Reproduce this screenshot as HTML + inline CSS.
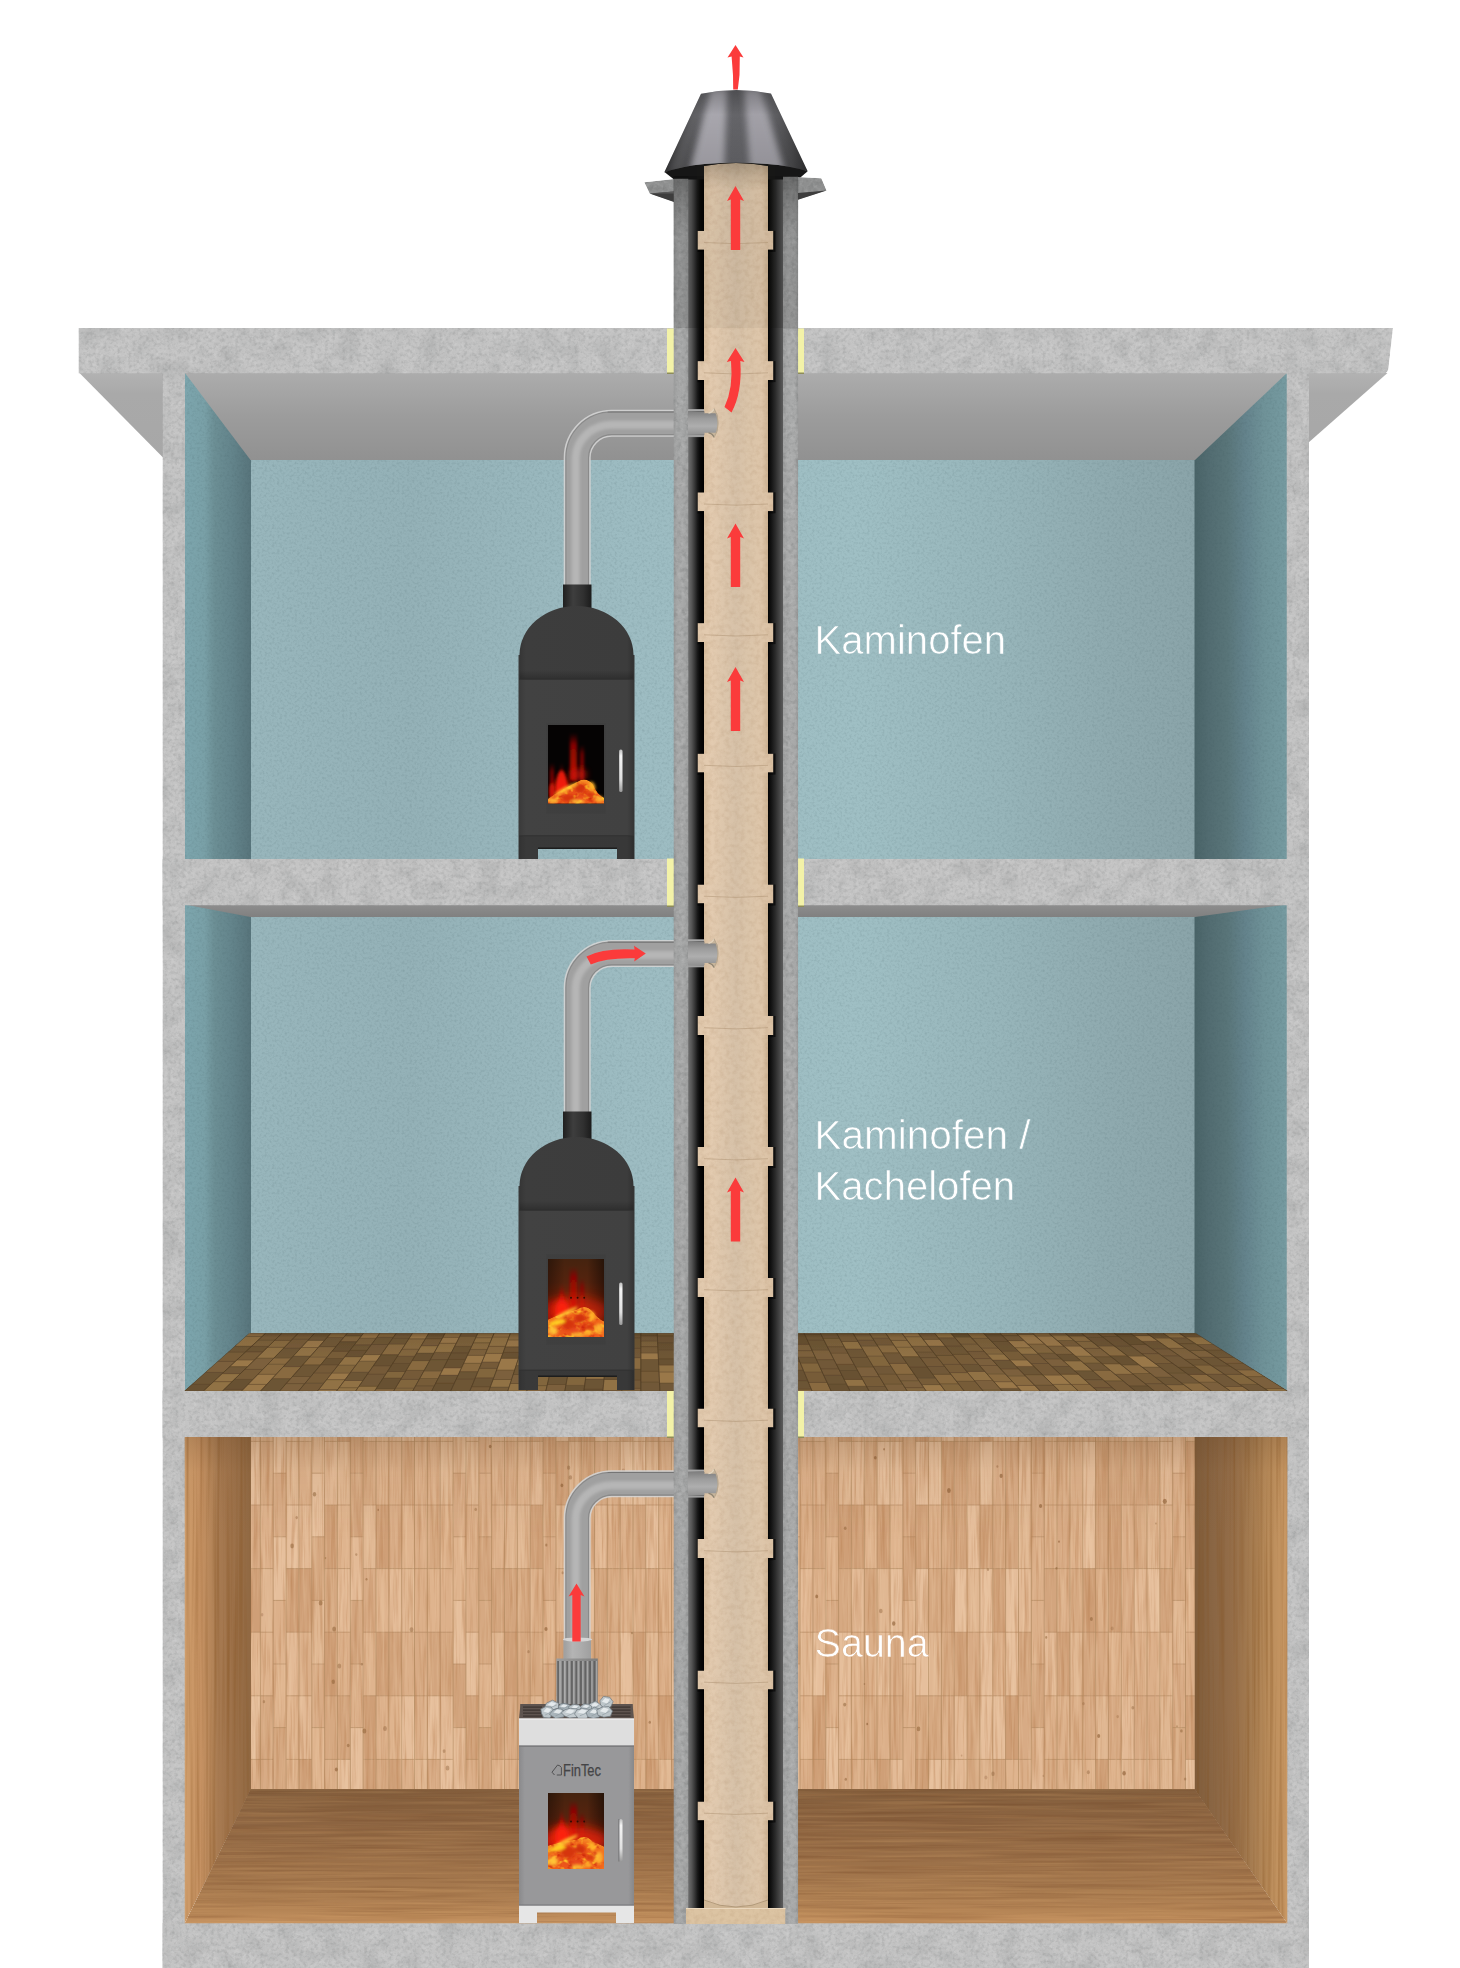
<!DOCTYPE html>
<html lang="de"><head><meta charset="utf-8"><title>Schornstein Schema</title>
<style>html,body{margin:0;padding:0;background:#fff}body{width:1460px;height:1968px;overflow:hidden}svg{display:block}</style>
</head><body>
<svg width="1460" height="1968" viewBox="0 0 1460 1968">

<defs>
  <filter id="conc" x="0" y="0" width="100%" height="100%" filterUnits="objectBoundingBox" color-interpolation-filters="sRGB">
    <feTurbulence type="fractalNoise" baseFrequency="0.28" numOctaves="3" seed="11" result="fine"/>
    <feColorMatrix in="fine" type="matrix" values="0 0 0 0 0.45  0 0 0 0 0.46  0 0 0 0 0.46  0.55 0 0 0 -0.24" result="fd"/>
    <feColorMatrix in="fine" type="matrix" values="0 0 0 0 1  0 0 0 0 1  0 0 0 0 1  0 0.3 0 0 -0.135" result="fl"/>
    <feTurbulence type="fractalNoise" baseFrequency="0.05" numOctaves="2" seed="4" result="coarse"/>
    <feColorMatrix in="coarse" type="matrix" values="0 0 0 0 0.5  0 0 0 0 0.51  0 0 0 0 0.51  0.5 0 0 0 -0.2" result="cd"/>
    <feMerge result="m">
      <feMergeNode in="SourceGraphic"/><feMergeNode in="cd"/><feMergeNode in="fl"/><feMergeNode in="fd"/>
    </feMerge>
    <feComposite in="m" in2="SourceGraphic" operator="in"/>
  </filter>
  <filter id="conc2" x="0" y="0" width="100%" height="100%" filterUnits="objectBoundingBox" color-interpolation-filters="sRGB">
    <feTurbulence type="fractalNoise" baseFrequency="0.22" numOctaves="3" seed="17" result="fine"/>
    <feColorMatrix in="fine" type="matrix" values="0 0 0 0 0.35  0 0 0 0 0.36  0 0 0 0 0.36  0.55 0 0 0 -0.24" result="fd"/>
    <feColorMatrix in="fine" type="matrix" values="0 0 0 0 1  0 0 0 0 1  0 0 0 0 1  0 0.3 0 0 -0.135" result="fl"/>
    <feMerge result="m">
      <feMergeNode in="SourceGraphic"/><feMergeNode in="fl"/><feMergeNode in="fd"/>
    </feMerge>
    <feComposite in="m" in2="SourceGraphic" operator="in"/>
  </filter>
  <filter id="grainV" x="0" y="0" width="100%" height="100%" color-interpolation-filters="sRGB">
    <feTurbulence type="fractalNoise" baseFrequency="0.33 0.014" numOctaves="3" seed="5" result="g"/>
    <feColorMatrix in="g" type="matrix" values="0 0 0 0 0.72  0 0 0 0 0.5  0 0 0 0 0.32  1.2 0 0 0 -0.54" result="gd"/>
    <feColorMatrix in="g" type="matrix" values="0 0 0 0 0.96  0 0 0 0 0.84  0 0 0 0 0.7  0 0.7 0 0 -0.32" result="gl"/>
    <feMerge result="m"><feMergeNode in="SourceGraphic"/><feMergeNode in="gd"/><feMergeNode in="gl"/></feMerge>
    <feComposite in="m" in2="SourceGraphic" operator="in"/>
  </filter>
  <filter id="grainH" x="0" y="0" width="100%" height="100%" color-interpolation-filters="sRGB">
    <feTurbulence type="fractalNoise" baseFrequency="0.006 0.32" numOctaves="3" seed="9" result="g"/>
    <feColorMatrix in="g" type="matrix" values="0 0 0 0 0.4  0 0 0 0 0.22  0 0 0 0 0.1  0.6 0 0 0 -0.25" result="gd"/>
    <feColorMatrix in="g" type="matrix" values="0 0 0 0 0.9  0 0 0 0 0.7  0 0 0 0 0.46  0 0.5 0 0 -0.21" result="gl"/>
    <feMerge result="m"><feMergeNode in="SourceGraphic"/><feMergeNode in="gd"/><feMergeNode in="gl"/></feMerge>
    <feComposite in="m" in2="SourceGraphic" operator="in"/>
  </filter>
  <filter id="grainS" x="0" y="0" width="100%" height="100%" color-interpolation-filters="sRGB">
    <feTurbulence type="fractalNoise" baseFrequency="0.3 0.004" numOctaves="2" seed="2" result="g"/>
    <feColorMatrix in="g" type="matrix" values="0 0 0 0 0.5  0 0 0 0 0.3  0 0 0 0 0.1  0.9 0 0 0 -0.4" result="gd"/>
    <feMerge result="m"><feMergeNode in="SourceGraphic"/><feMergeNode in="gd"/></feMerge>
    <feComposite in="m" in2="SourceGraphic" operator="in"/>
  </filter>
  <filter id="teal" x="0" y="0" width="100%" height="100%" color-interpolation-filters="sRGB">
    <feTurbulence type="fractalNoise" baseFrequency="0.4" numOctaves="2" seed="21" result="g"/>
    <feColorMatrix in="g" type="matrix" values="0 0 0 0 0.2  0 0 0 0 0.3  0 0 0 0 0.32  0.3 0 0 0 -0.13" result="gd"/>
    <feMerge result="m"><feMergeNode in="SourceGraphic"/><feMergeNode in="gd"/></feMerge>
    <feComposite in="m" in2="SourceGraphic" operator="in"/>
  </filter>
  <filter id="beige" x="0" y="0" width="100%" height="100%" color-interpolation-filters="sRGB">
    <feTurbulence type="fractalNoise" baseFrequency="0.2" numOctaves="4" seed="8" result="g"/>
    <feColorMatrix in="g" type="matrix" values="0 0 0 0 0.62  0 0 0 0 0.48  0 0 0 0 0.34  0.34 0 0 0 -0.13" result="gd"/>
    <feMerge result="m"><feMergeNode in="SourceGraphic"/><feMergeNode in="gd"/></feMerge>
    <feComposite in="m" in2="SourceGraphic" operator="in"/>
  </filter>
  <filter id="fireTex" x="-5%" y="-5%" width="110%" height="110%" color-interpolation-filters="sRGB">
    <feTurbulence type="fractalNoise" baseFrequency="0.16 0.2" numOctaves="2" seed="6" result="g"/>
    <feColorMatrix in="g" type="matrix" values="0 0 0 0 1  0 0 0 0 0.78  0 0 0 0 0.16  3.4 0 0 0 -1.75" result="gy"/>
    <feColorMatrix in="g" type="matrix" values="0 0 0 0 0.8  0 0 0 0 0.14  0 0 0 0 0.04  0 3.0 0 0 -1.55" result="gr"/>
    <feMerge result="m"><feMergeNode in="SourceGraphic"/><feMergeNode in="gr"/><feMergeNode in="gy"/></feMerge>
    <feComposite in="m" in2="SourceGraphic" operator="in" result="c"/>
    <feGaussianBlur in="c" stdDeviation="0.5"/>
  </filter>
  <filter id="bpq" x="0" y="0" width="100%" height="100%"><feGaussianBlur stdDeviation="0.55"/><feComposite in2="SourceGraphic" operator="in"/></filter>
  <filter id="b1" x="-20%" y="-20%" width="140%" height="140%"><feGaussianBlur stdDeviation="0.6"/></filter>
  <filter id="b2" x="-30%" y="-30%" width="160%" height="160%"><feGaussianBlur stdDeviation="1.6"/></filter>
  <filter id="b3" x="-30%" y="-30%" width="160%" height="160%"><feGaussianBlur stdDeviation="3"/></filter>
  <filter id="b5" x="-50%" y="-50%" width="200%" height="200%"><feGaussianBlur stdDeviation="5"/></filter>

  <linearGradient id="gBack" x1="250" y1="0" x2="1195" y2="0" gradientUnits="userSpaceOnUse">
    <stop offset="0.000" stop-color="#98b6bc"/><stop offset="0.169" stop-color="#94b1b7"/><stop offset="0.402" stop-color="#9dbcc2"/><stop offset="0.646" stop-color="#9fbfc4"/><stop offset="0.794" stop-color="#97b5ba"/><stop offset="0.910" stop-color="#8faaaf"/><stop offset="1.000" stop-color="#8aa4a9"/>
  </linearGradient>
  <linearGradient id="gSideL" x1="185" y1="0" x2="250" y2="0" gradientUnits="userSpaceOnUse">
    <stop offset="0" stop-color="#7ca5ad"/><stop offset="0.3" stop-color="#79a0a7"/><stop offset="0.45" stop-color="#6c8f95"/><stop offset="0.7" stop-color="#64858c"/><stop offset="1" stop-color="#58757c"/>
  </linearGradient>
  <linearGradient id="gSideR" x1="1195" y1="0" x2="1287" y2="0" gradientUnits="userSpaceOnUse">
    <stop offset="0" stop-color="#4a6468"/><stop offset="0.15" stop-color="#526c71"/><stop offset="0.35" stop-color="#597579"/><stop offset="0.55" stop-color="#64838c"/><stop offset="0.75" stop-color="#6f9298"/><stop offset="1" stop-color="#769ba1"/>
  </linearGradient>
  <linearGradient id="gCeil" x1="0" y1="373" x2="0" y2="460" gradientUnits="userSpaceOnUse">
    <stop offset="0" stop-color="#acacac"/><stop offset="0.5" stop-color="#9c9c9c"/><stop offset="1" stop-color="#919191"/>
  </linearGradient>
  <linearGradient id="gCeilR" x1="760" y1="470" x2="1260" y2="373" gradientUnits="userSpaceOnUse">
    <stop offset="0" stop-color="#fff" stop-opacity="0"/><stop offset="0.5" stop-color="#fff" stop-opacity="0.03"/><stop offset="1" stop-color="#fff" stop-opacity="0.13"/>
  </linearGradient>
  <linearGradient id="gCeil2" x1="0" y1="906" x2="0" y2="917" gradientUnits="userSpaceOnUse">
    <stop offset="0" stop-color="#8c8c8c"/><stop offset="1" stop-color="#808080"/>
  </linearGradient>
  <linearGradient id="gOver" x1="0" y1="373" x2="0" y2="458" gradientUnits="userSpaceOnUse">
    <stop offset="0" stop-color="#b2b2b2"/><stop offset="0.25" stop-color="#a9a9a9"/><stop offset="1" stop-color="#a7a7a7"/>
  </linearGradient>
  <linearGradient id="gWoodL" x1="185" y1="0" x2="250" y2="0" gradientUnits="userSpaceOnUse">
    <stop offset="0" stop-color="#cf9d6b"/><stop offset="0.25" stop-color="#c59162"/><stop offset="0.42" stop-color="#b38458"/><stop offset="0.5" stop-color="#a87b52"/><stop offset="0.7" stop-color="#9f734b"/><stop offset="1" stop-color="#916943"/>
  </linearGradient>
  <linearGradient id="gWoodR" x1="1195" y1="0" x2="1287" y2="0" gradientUnits="userSpaceOnUse">
    <stop offset="0" stop-color="#805d3b"/><stop offset="0.2" stop-color="#8a6644"/><stop offset="0.4" stop-color="#946d48"/><stop offset="0.6" stop-color="#a47b50"/><stop offset="0.8" stop-color="#b98c5b"/><stop offset="1" stop-color="#c99864"/>
  </linearGradient>
  <linearGradient id="gFloor3" x1="0" y1="1789" x2="0" y2="1923" gradientUnits="userSpaceOnUse">
    <stop offset="0" stop-color="#845f3d"/><stop offset="0.25" stop-color="#8c6441"/><stop offset="0.5" stop-color="#996e47"/><stop offset="0.72" stop-color="#a6794e"/><stop offset="0.9" stop-color="#b48455"/><stop offset="1" stop-color="#c69361"/>
  </linearGradient>
  <linearGradient id="gBackShade" x1="0" y1="1437" x2="0" y2="1789" gradientUnits="userSpaceOnUse">
    <stop offset="0" stop-color="#5b3e22" stop-opacity="0.22"/><stop offset="0.1" stop-color="#5b3e22" stop-opacity="0.04"/><stop offset="0.3" stop-color="#5b3e22" stop-opacity="0"/>
  </linearGradient>
  <linearGradient id="gGapL" x1="688" y1="0" x2="704" y2="0" gradientUnits="userSpaceOnUse">
    <stop offset="0" stop-color="#6e6e6e"/><stop offset="0.2" stop-color="#5a5a5a"/><stop offset="0.4" stop-color="#3a3a3a"/><stop offset="0.6" stop-color="#181818"/><stop offset="0.75" stop-color="#080808"/><stop offset="1" stop-color="#000000"/>
  </linearGradient>
  <linearGradient id="gGapR" x1="768" y1="0" x2="783" y2="0" gradientUnits="userSpaceOnUse">
    <stop offset="0" stop-color="#030303"/><stop offset="0.25" stop-color="#161616"/><stop offset="0.5" stop-color="#2c2c2c"/><stop offset="0.75" stop-color="#444444"/><stop offset="1" stop-color="#5c5c5c"/>
  </linearGradient>
  <linearGradient id="gPipe" x1="704" y1="0" x2="768" y2="0" gradientUnits="userSpaceOnUse">
    <stop offset="0" stop-color="#d8bfa0"/><stop offset="0.12" stop-color="#e3cbb0"/><stop offset="0.35" stop-color="#dbc5ab"/><stop offset="0.5" stop-color="#d6c1a8"/><stop offset="0.7" stop-color="#dbc5aa"/><stop offset="0.9" stop-color="#dec6aa"/><stop offset="1" stop-color="#cdb394"/>
  </linearGradient>
  <linearGradient id="gFlange" x1="697" y1="0" x2="774" y2="0" gradientUnits="userSpaceOnUse">
    <stop offset="0" stop-color="#e0c8ac"/><stop offset="0.15" stop-color="#e3cbb0"/><stop offset="0.5" stop-color="#d7c2a9"/><stop offset="0.85" stop-color="#dec6aa"/><stop offset="1" stop-color="#d9c0a3"/>
  </linearGradient>
  <linearGradient id="gWallC" x1="0" y1="0" x2="1" y2="0">
    <stop offset="0" stop-color="#8f9191"/><stop offset="0.15" stop-color="#a3a5a5"/><stop offset="0.85" stop-color="#a3a5a5"/><stop offset="1" stop-color="#919393"/>
  </linearGradient>
  <linearGradient id="gWallL" x1="673.5" y1="0" x2="688.5" y2="0" gradientUnits="userSpaceOnUse">
    <stop offset="0" stop-color="#989999"/><stop offset="0.2" stop-color="#a4a5a5"/><stop offset="0.6" stop-color="#a8a9a9"/><stop offset="1" stop-color="#9c9d9d"/>
  </linearGradient>
  <linearGradient id="gWallR" x1="783" y1="0" x2="798.2" y2="0" gradientUnits="userSpaceOnUse">
    <stop offset="0" stop-color="#9e9f9f"/><stop offset="0.4" stop-color="#aaabab"/><stop offset="0.8" stop-color="#a8a9a9"/><stop offset="1" stop-color="#999a9a"/>
  </linearGradient>
  <linearGradient id="gTopSh" x1="0" y1="176" x2="0" y2="235" gradientUnits="userSpaceOnUse">
    <stop offset="0" stop-color="#000" stop-opacity="0.28"/><stop offset="0.5" stop-color="#000" stop-opacity="0.12"/><stop offset="1" stop-color="#000" stop-opacity="0"/>
  </linearGradient>
  <linearGradient id="gPipeTopSh" x1="0" y1="162" x2="0" y2="190" gradientUnits="userSpaceOnUse">
    <stop offset="0" stop-color="#3a2f20" stop-opacity="0.28"/><stop offset="0.5" stop-color="#3a2f20" stop-opacity="0.12"/><stop offset="1" stop-color="#3a2f20" stop-opacity="0"/>
  </linearGradient>
  <linearGradient id="gSeamSh" x1="0" y1="0" x2="0" y2="1">
    <stop offset="0" stop-color="#000" stop-opacity="0"/><stop offset="1" stop-color="#000" stop-opacity="0.22"/>
  </linearGradient>
  <linearGradient id="gCap" x1="665" y1="0" x2="807" y2="0" gradientUnits="userSpaceOnUse">
    <stop offset="0" stop-color="#303032"/><stop offset="0.1" stop-color="#48484a"/><stop offset="0.28" stop-color="#68686c"/><stop offset="0.5" stop-color="#646468"/><stop offset="0.72" stop-color="#68686c"/><stop offset="0.9" stop-color="#48484a"/><stop offset="1" stop-color="#303032"/>
  </linearGradient>
  <linearGradient id="gCapV" x1="0" y1="90" x2="0" y2="172" gradientUnits="userSpaceOnUse">
    <stop offset="0" stop-color="#000" stop-opacity="0.22"/><stop offset="0.3" stop-color="#000" stop-opacity="0"/><stop offset="1" stop-color="#000" stop-opacity="0.1"/>
  </linearGradient>
  <linearGradient id="gFlTop" x1="0" y1="177" x2="0" y2="202" gradientUnits="userSpaceOnUse">
    <stop offset="0" stop-color="#8f8f8f"/><stop offset="0.4" stop-color="#858585"/><stop offset="0.55" stop-color="#4a4a4a"/><stop offset="1" stop-color="#3a3a3a"/>
  </linearGradient>
  <linearGradient id="gSteelV" x1="565" y1="0" x2="590" y2="0" gradientUnits="userSpaceOnUse">
    <stop offset="0" stop-color="#8e8e8e"/><stop offset="0.3" stop-color="#b4b4b4"/><stop offset="0.6" stop-color="#a6a6a6"/><stop offset="1" stop-color="#8c8c8c"/>
  </linearGradient>
  <linearGradient id="gCollar" x1="563" y1="0" x2="592" y2="0" gradientUnits="userSpaceOnUse">
    <stop offset="0" stop-color="#1f1f1f"/><stop offset="0.35" stop-color="#3e3e3e"/><stop offset="0.7" stop-color="#303030"/><stop offset="1" stop-color="#1a1a1a"/>
  </linearGradient>
  <linearGradient id="gStove" x1="519" y1="0" x2="634" y2="0" gradientUnits="userSpaceOnUse">
    <stop offset="0" stop-color="#3a3a3a"/><stop offset="0.06" stop-color="#424242"/><stop offset="0.94" stop-color="#414141"/><stop offset="1" stop-color="#353535"/>
  </linearGradient>
  <linearGradient id="gHandle" x1="0" y1="0" x2="0" y2="1">
    <stop offset="0" stop-color="#bdbdbd"/><stop offset="0.15" stop-color="#f4f4f4"/><stop offset="0.7" stop-color="#e0e0e0"/><stop offset="1" stop-color="#9a9a9a"/>
  </linearGradient>
  <linearGradient id="gWin2" x1="0" y1="0" x2="0" y2="1">
    <stop offset="0" stop-color="#45230f"/><stop offset="0.3" stop-color="#55230e"/><stop offset="0.55" stop-color="#7c2308"/><stop offset="0.75" stop-color="#b42a08"/><stop offset="1" stop-color="#c03008"/>
  </linearGradient>
  <linearGradient id="gWin2h" x1="0" y1="0" x2="1" y2="0">
    <stop offset="0" stop-color="#000" stop-opacity="0.35"/><stop offset="0.3" stop-color="#000" stop-opacity="0"/><stop offset="0.7" stop-color="#000" stop-opacity="0"/><stop offset="1" stop-color="#000" stop-opacity="0.45"/>
  </linearGradient>
  <radialGradient id="gLog" cx="0.5" cy="0.7" r="0.7">
    <stop offset="0" stop-color="#e6481a"/><stop offset="0.65" stop-color="#f0601a"/><stop offset="1" stop-color="#f79426"/>
  </radialGradient>
  <linearGradient id="gFlame" x1="0" y1="0" x2="0" y2="1">
    <stop offset="0" stop-color="#b00808" stop-opacity="0"/><stop offset="0.35" stop-color="#c00a08" stop-opacity="0.8"/><stop offset="1" stop-color="#ff2a10"/>
  </linearGradient>
  <linearGradient id="gFlameD" x1="0" y1="0" x2="0" y2="1">
    <stop offset="0" stop-color="#780404" stop-opacity="0"/><stop offset="0.25" stop-color="#8c0606" stop-opacity="0.95"/><stop offset="1" stop-color="#c00c06"/>
  </linearGradient>
  <linearGradient id="gSauna" x1="519" y1="0" x2="634" y2="0" gradientUnits="userSpaceOnUse">
    <stop offset="0" stop-color="#8a8a8c"/><stop offset="0.05" stop-color="#98989a"/><stop offset="0.95" stop-color="#98989a"/><stop offset="1" stop-color="#88888a"/>
  </linearGradient>
  <linearGradient id="gFins" x1="556" y1="0" x2="599" y2="0" gradientUnits="userSpaceOnUse">
    <stop offset="0" stop-color="#9e9e9e"/><stop offset="0.5" stop-color="#8e8e8e"/><stop offset="1" stop-color="#7c7c7c"/>
  </linearGradient>
  <linearGradient id="gParqSh" x1="0" y1="1333" x2="0" y2="1391" gradientUnits="userSpaceOnUse">
    <stop offset="0" stop-color="#2a1c0c" stop-opacity="0.35"/><stop offset="0.08" stop-color="#2a1c0c" stop-opacity="0.08"/><stop offset="0.4" stop-color="#2a1c0c" stop-opacity="0"/>
  </linearGradient>
  <linearGradient id="gParq" x1="0" y1="1333" x2="0" y2="1390" gradientUnits="userSpaceOnUse">
    <stop offset="0" stop-color="#5c4526"/><stop offset="1" stop-color="#6a5030"/>
  </linearGradient>
</defs>

<rect width="1460" height="1968" fill="#ffffff"/>
<!-- building shell -->
<polygon points="79,372.5 164,372.5 164,458.5" fill="url(#gOver)"/>
<polygon points="1308,373 1387.5,373 1308,443" fill="url(#gOver)"/>
<g filter="url(#teal)">
<rect x="250" y="455" width="945" height="405" fill="url(#gBack)"/>
<rect x="250" y="910" width="945" height="426" fill="url(#gBack)"/>
<polygon points="184.5,372 251,372 251,860 184.5,860" fill="url(#gSideL)"/>
<polygon points="1287.5,372 1194.5,372 1194.5,860 1287.5,860" fill="url(#gSideR)"/>
<polygon points="184.5,900 251,900 251,1392 184.5,1392" fill="url(#gSideL)"/>
<polygon points="1287.5,900 1194.5,900 1194.5,1392 1287.5,1392" fill="url(#gSideR)"/>
</g>
<polygon points="185,373 1287,373 1195,460 250.5,460" fill="url(#gCeil)"/>
<polygon points="184.5,904.5 1287.5,904.5 1195,917 250.5,917" fill="url(#gCeil2)"/>
<g filter="url(#conc)" fill="#c4c4c4">
<path d="M78.5,328 H1393 L1388.5,368 Q1388,373.5 1383,373.5 H78.5 Z"/>
<rect x="162.5" y="373" width="22.5" height="1595" />
<rect x="1286.5" y="373" width="22.5" height="1595" />
<rect x="162.5" y="859" width="1146" height="46.5" />
<rect x="162.5" y="1390.5" width="1146" height="47" />
<rect x="162.5" y="1923" width="1146" height="45" />
</g>
<!-- parquet floor -->
<g filter="url(#bpq)">
<polygon points="184.5,1391 250.5,1333.2 1195,1333.2 1287.5,1391" fill="url(#gParq)"/>
<polygon points="184.5,1391 203.5,1391 210.6,1384.4 191.9,1384.4" fill="#685131" stroke="#59452a" stroke-width="0.6" stroke-opacity="0.55"/>
<polygon points="191.9,1384.4 210.6,1384.4 223.7,1372.3 205.5,1372.3" fill="#6c5434" stroke="#59452a" stroke-width="0.6" stroke-opacity="0.55"/>
<polygon points="205.5,1372.3 223.7,1372.3 235.4,1361.4 217.8,1361.4" fill="#7c613c" stroke="#59452a" stroke-width="0.6" stroke-opacity="0.55"/>
<polygon points="217.8,1361.4 235.4,1361.4 245.5,1352.1 228.3,1352.1" fill="#775c39" stroke="#59452a" stroke-width="0.6" stroke-opacity="0.55"/>
<polygon points="228.3,1352.1 245.5,1352.1 251.9,1346.1 235,1346.1" fill="#6e5635" stroke="#59452a" stroke-width="0.6" stroke-opacity="0.55"/>
<polygon points="235,1346.1 251.9,1346.1 262.3,1336.4 245.9,1336.4" fill="#917245" stroke="#59452a" stroke-width="0.6" stroke-opacity="0.55"/>
<polygon points="245.9,1336.4 262.3,1336.4 265.6,1333.3 249.3,1333.3" fill="#9a784a" stroke="#59452a" stroke-width="0.6" stroke-opacity="0.55"/>
<polygon points="203.5,1391 222.5,1391 232.2,1381.6 213.6,1381.6" fill="#917245" stroke="#59452a" stroke-width="0.6" stroke-opacity="0.55"/>
<polygon points="213.6,1381.6 232.2,1381.6 240.5,1373.6 222.3,1373.6" fill="#917245" stroke="#59452a" stroke-width="0.6" stroke-opacity="0.55"/>
<polygon points="222.3,1373.6 240.5,1373.6 247.7,1366.6 229.9,1366.6" fill="#715837" stroke="#59452a" stroke-width="0.6" stroke-opacity="0.55"/>
<polygon points="229.9,1366.6 247.7,1366.6 254.6,1359.9 237,1359.9" fill="#9a784a" stroke="#59452a" stroke-width="0.6" stroke-opacity="0.55"/>
<polygon points="237,1359.9 254.6,1359.9 262.9,1351.8 245.7,1351.8" fill="#775c39" stroke="#59452a" stroke-width="0.6" stroke-opacity="0.55"/>
<polygon points="245.7,1351.8 262.9,1351.8 268.5,1346.4 251.6,1346.4" fill="#6c5434" stroke="#59452a" stroke-width="0.6" stroke-opacity="0.55"/>
<polygon points="251.6,1346.4 268.5,1346.4 275,1340.1 258.4,1340.1" fill="#7c613c" stroke="#59452a" stroke-width="0.6" stroke-opacity="0.55"/>
<polygon points="258.4,1340.1 275,1340.1 282,1333.3 265.6,1333.3" fill="#775c39" stroke="#59452a" stroke-width="0.6" stroke-opacity="0.55"/>
<polygon points="222.5,1391 241.6,1391 243.1,1389.4 224.2,1389.4" fill="#7c613c" stroke="#59452a" stroke-width="0.6" stroke-opacity="0.55"/>
<polygon points="224.2,1389.4 243.1,1389.4 253,1379.4 234.5,1379.4" fill="#685131" stroke="#59452a" stroke-width="0.6" stroke-opacity="0.55"/>
<polygon points="234.5,1379.4 253,1379.4 262.9,1369.3 244.9,1369.3" fill="#775c39" stroke="#59452a" stroke-width="0.6" stroke-opacity="0.55"/>
<polygon points="244.9,1369.3 262.9,1369.3 274,1358 256.6,1358" fill="#7c613c" stroke="#59452a" stroke-width="0.6" stroke-opacity="0.55"/>
<polygon points="256.6,1358 274,1358 284.7,1347.2 267.7,1347.2" fill="#917245" stroke="#59452a" stroke-width="0.6" stroke-opacity="0.55"/>
<polygon points="267.7,1347.2 284.7,1347.2 291.4,1340.3 274.7,1340.3" fill="#896b41" stroke="#59452a" stroke-width="0.6" stroke-opacity="0.55"/>
<polygon points="274.7,1340.3 291.4,1340.3 298.3,1333.3 282,1333.3" fill="#775c39" stroke="#59452a" stroke-width="0.6" stroke-opacity="0.55"/>
<polygon points="241.6,1391 260.6,1391 266.9,1384.3 248.2,1384.3" fill="#9a784a" stroke="#59452a" stroke-width="0.6" stroke-opacity="0.55"/>
<polygon points="248.2,1384.3 266.9,1384.3 276.3,1374.2 258,1374.2" fill="#9a784a" stroke="#59452a" stroke-width="0.6" stroke-opacity="0.55"/>
<polygon points="258,1374.2 276.3,1374.2 285.7,1364.1 268,1364.1" fill="#896b41" stroke="#59452a" stroke-width="0.6" stroke-opacity="0.55"/>
<polygon points="268,1364.1 285.7,1364.1 291.5,1358 274,1358" fill="#896b41" stroke="#59452a" stroke-width="0.6" stroke-opacity="0.55"/>
<polygon points="274,1358 291.5,1358 300.9,1348 283.9,1348" fill="#6e5635" stroke="#59452a" stroke-width="0.6" stroke-opacity="0.55"/>
<polygon points="283.9,1348 300.9,1348 309.2,1339.1 292.6,1339.1" fill="#775c39" stroke="#59452a" stroke-width="0.6" stroke-opacity="0.55"/>
<polygon points="292.6,1339.1 309.2,1339.1 314.6,1333.3 298.3,1333.3" fill="#775c39" stroke="#59452a" stroke-width="0.6" stroke-opacity="0.55"/>
<polygon points="260.6,1391 279.6,1391 290.6,1378.6 272.2,1378.6" fill="#6c5434" stroke="#59452a" stroke-width="0.6" stroke-opacity="0.55"/>
<polygon points="272.2,1378.6 290.6,1378.6 301.3,1366.6 283.4,1366.6" fill="#896b41" stroke="#59452a" stroke-width="0.6" stroke-opacity="0.55"/>
<polygon points="283.4,1366.6 301.3,1366.6 310.7,1356 293.4,1356" fill="#6c5434" stroke="#59452a" stroke-width="0.6" stroke-opacity="0.55"/>
<polygon points="293.4,1356 310.7,1356 318.3,1347.5 301.3,1347.5" fill="#917245" stroke="#59452a" stroke-width="0.6" stroke-opacity="0.55"/>
<polygon points="301.3,1347.5 318.3,1347.5 324.7,1340.3 308,1340.3" fill="#9a784a" stroke="#59452a" stroke-width="0.6" stroke-opacity="0.55"/>
<polygon points="308,1340.3 324.7,1340.3 330.9,1333.3 314.6,1333.3" fill="#6e5635" stroke="#59452a" stroke-width="0.6" stroke-opacity="0.55"/>
<polygon points="279.6,1391 298.6,1391 304.9,1383.6 286.2,1383.6" fill="#7c613c" stroke="#59452a" stroke-width="0.6" stroke-opacity="0.55"/>
<polygon points="286.2,1383.6 304.9,1383.6 310.9,1376.5 292.5,1376.5" fill="#7c613c" stroke="#59452a" stroke-width="0.6" stroke-opacity="0.55"/>
<polygon points="292.5,1376.5 310.9,1376.5 320.7,1364.8 302.9,1364.8" fill="#6e5635" stroke="#59452a" stroke-width="0.6" stroke-opacity="0.55"/>
<polygon points="302.9,1364.8 320.7,1364.8 327.3,1357 309.8,1357" fill="#896b41" stroke="#59452a" stroke-width="0.6" stroke-opacity="0.55"/>
<polygon points="309.8,1357 327.3,1357 336,1346.6 319.1,1346.6" fill="#82663e" stroke="#59452a" stroke-width="0.6" stroke-opacity="0.55"/>
<polygon points="319.1,1346.6 336,1346.6 343.8,1337.4 327.3,1337.4" fill="#715837" stroke="#59452a" stroke-width="0.6" stroke-opacity="0.55"/>
<polygon points="327.3,1337.4 343.8,1337.4 347.2,1333.3 330.9,1333.3" fill="#896b41" stroke="#59452a" stroke-width="0.6" stroke-opacity="0.55"/>
<polygon points="298.6,1391 317.6,1391 317.6,1391 298.6,1391" fill="#715837" stroke="#59452a" stroke-width="0.6" stroke-opacity="0.55"/>
<polygon points="298.6,1391 317.6,1391 324,1383 305.3,1383" fill="#745a39" stroke="#59452a" stroke-width="0.6" stroke-opacity="0.55"/>
<polygon points="305.3,1383 324,1383 332.1,1372.9 313.9,1372.9" fill="#775c39" stroke="#59452a" stroke-width="0.6" stroke-opacity="0.55"/>
<polygon points="313.9,1372.9 332.1,1372.9 338.5,1364.8 320.7,1364.8" fill="#745a39" stroke="#59452a" stroke-width="0.6" stroke-opacity="0.55"/>
<polygon points="320.7,1364.8 338.5,1364.8 343.5,1358.5 326,1358.5" fill="#685131" stroke="#59452a" stroke-width="0.6" stroke-opacity="0.55"/>
<polygon points="326,1358.5 343.5,1358.5 349.3,1351.2 332.2,1351.2" fill="#775c39" stroke="#59452a" stroke-width="0.6" stroke-opacity="0.55"/>
<polygon points="332.2,1351.2 349.3,1351.2 357,1341.6 340.3,1341.6" fill="#685131" stroke="#59452a" stroke-width="0.6" stroke-opacity="0.55"/>
<polygon points="340.3,1341.6 357,1341.6 361.6,1335.7 345.2,1335.7" fill="#82663e" stroke="#59452a" stroke-width="0.6" stroke-opacity="0.55"/>
<polygon points="345.2,1335.7 361.6,1335.7 363.5,1333.3 347.2,1333.3" fill="#775c39" stroke="#59452a" stroke-width="0.6" stroke-opacity="0.55"/>
<polygon points="317.6,1391 336.6,1391 337.7,1389.5 318.8,1389.5" fill="#9a784a" stroke="#59452a" stroke-width="0.6" stroke-opacity="0.55"/>
<polygon points="318.8,1389.5 337.7,1389.5 345.2,1379.6 326.7,1379.6" fill="#917245" stroke="#59452a" stroke-width="0.6" stroke-opacity="0.55"/>
<polygon points="326.7,1379.6 345.2,1379.6 350,1373.1 331.9,1373.1" fill="#9a784a" stroke="#59452a" stroke-width="0.6" stroke-opacity="0.55"/>
<polygon points="331.9,1373.1 350,1373.1 356.1,1365 338.3,1365" fill="#82663e" stroke="#59452a" stroke-width="0.6" stroke-opacity="0.55"/>
<polygon points="338.3,1365 356.1,1365 362.4,1356.7 345,1356.7" fill="#917245" stroke="#59452a" stroke-width="0.6" stroke-opacity="0.55"/>
<polygon points="345,1356.7 362.4,1356.7 367.1,1350.3 350,1350.3" fill="#685131" stroke="#59452a" stroke-width="0.6" stroke-opacity="0.55"/>
<polygon points="350,1350.3 367.1,1350.3 371.3,1344.8 354.4,1344.8" fill="#6e5635" stroke="#59452a" stroke-width="0.6" stroke-opacity="0.55"/>
<polygon points="354.4,1344.8 371.3,1344.8 376.5,1337.9 359.9,1337.9" fill="#7c613c" stroke="#59452a" stroke-width="0.6" stroke-opacity="0.55"/>
<polygon points="359.9,1337.9 376.5,1337.9 379.9,1333.3 363.5,1333.3" fill="#9a784a" stroke="#59452a" stroke-width="0.6" stroke-opacity="0.55"/>
<polygon points="336.6,1391 355.7,1391 358,1387.7 339.1,1387.7" fill="#917245" stroke="#59452a" stroke-width="0.6" stroke-opacity="0.55"/>
<polygon points="339.1,1387.7 358,1387.7 363,1380.5 344.5,1380.5" fill="#917245" stroke="#59452a" stroke-width="0.6" stroke-opacity="0.55"/>
<polygon points="344.5,1380.5 363,1380.5 369,1372 350.9,1372" fill="#6c5434" stroke="#59452a" stroke-width="0.6" stroke-opacity="0.55"/>
<polygon points="350.9,1372 369,1372 376.7,1361 359.1,1361" fill="#82663e" stroke="#59452a" stroke-width="0.6" stroke-opacity="0.55"/>
<polygon points="359.1,1361 376.7,1361 381.3,1354.6 363.9,1354.6" fill="#9a784a" stroke="#59452a" stroke-width="0.6" stroke-opacity="0.55"/>
<polygon points="363.9,1354.6 381.3,1354.6 388.3,1344.5 371.5,1344.5" fill="#745a39" stroke="#59452a" stroke-width="0.6" stroke-opacity="0.55"/>
<polygon points="371.5,1344.5 388.3,1344.5 393.6,1337 377.1,1337" fill="#6e5635" stroke="#59452a" stroke-width="0.6" stroke-opacity="0.55"/>
<polygon points="377.1,1337 393.6,1337 396.2,1333.3 379.9,1333.3" fill="#896b41" stroke="#59452a" stroke-width="0.6" stroke-opacity="0.55"/>
<polygon points="355.7,1391 374.7,1391 377.8,1386.2 359,1386.2" fill="#917245" stroke="#59452a" stroke-width="0.6" stroke-opacity="0.55"/>
<polygon points="359,1386.2 377.8,1386.2 385.7,1374.1 367.5,1374.1" fill="#715837" stroke="#59452a" stroke-width="0.6" stroke-opacity="0.55"/>
<polygon points="367.5,1374.1 385.7,1374.1 391.2,1365.8 373.4,1365.8" fill="#745a39" stroke="#59452a" stroke-width="0.6" stroke-opacity="0.55"/>
<polygon points="373.4,1365.8 391.2,1365.8 398.6,1354.6 381.3,1354.6" fill="#685131" stroke="#59452a" stroke-width="0.6" stroke-opacity="0.55"/>
<polygon points="381.3,1354.6 398.6,1354.6 405.4,1344.1 388.6,1344.1" fill="#896b41" stroke="#59452a" stroke-width="0.6" stroke-opacity="0.55"/>
<polygon points="388.6,1344.1 405.4,1344.1 409.4,1338 392.9,1338" fill="#6e5635" stroke="#59452a" stroke-width="0.6" stroke-opacity="0.55"/>
<polygon points="392.9,1338 409.4,1338 412.5,1333.3 396.2,1333.3" fill="#745a39" stroke="#59452a" stroke-width="0.6" stroke-opacity="0.55"/>
<polygon points="374.7,1391 393.7,1391 395,1388.9 376.1,1388.9" fill="#896b41" stroke="#59452a" stroke-width="0.6" stroke-opacity="0.55"/>
<polygon points="376.1,1388.9 395,1388.9 401.7,1377.9 383.3,1377.9" fill="#685131" stroke="#59452a" stroke-width="0.6" stroke-opacity="0.55"/>
<polygon points="383.3,1377.9 401.7,1377.9 405.6,1371.5 387.5,1371.5" fill="#82663e" stroke="#59452a" stroke-width="0.6" stroke-opacity="0.55"/>
<polygon points="387.5,1371.5 405.6,1371.5 410.5,1363.4 392.8,1363.4" fill="#685131" stroke="#59452a" stroke-width="0.6" stroke-opacity="0.55"/>
<polygon points="392.8,1363.4 410.5,1363.4 415,1356 397.6,1356" fill="#6e5635" stroke="#59452a" stroke-width="0.6" stroke-opacity="0.55"/>
<polygon points="397.6,1356 415,1356 419.2,1349.1 402.2,1349.1" fill="#82663e" stroke="#59452a" stroke-width="0.6" stroke-opacity="0.55"/>
<polygon points="402.2,1349.1 419.2,1349.1 425.5,1338.8 408.9,1338.8" fill="#896b41" stroke="#59452a" stroke-width="0.6" stroke-opacity="0.55"/>
<polygon points="408.9,1338.8 425.5,1338.8 428.8,1333.3 412.5,1333.3" fill="#9a784a" stroke="#59452a" stroke-width="0.6" stroke-opacity="0.55"/>
<polygon points="393.7,1391 412.7,1391 414.4,1388 395.5,1388" fill="#82663e" stroke="#59452a" stroke-width="0.6" stroke-opacity="0.55"/>
<polygon points="395.5,1388 414.4,1388 419.2,1379.4 400.8,1379.4" fill="#82663e" stroke="#59452a" stroke-width="0.6" stroke-opacity="0.55"/>
<polygon points="400.8,1379.4 419.2,1379.4 424.3,1370.3 406.3,1370.3" fill="#745a39" stroke="#59452a" stroke-width="0.6" stroke-opacity="0.55"/>
<polygon points="406.3,1370.3 424.3,1370.3 429.8,1360.6 412.2,1360.6" fill="#896b41" stroke="#59452a" stroke-width="0.6" stroke-opacity="0.55"/>
<polygon points="412.2,1360.6 429.8,1360.6 434.1,1353 416.8,1353" fill="#685131" stroke="#59452a" stroke-width="0.6" stroke-opacity="0.55"/>
<polygon points="416.8,1353 434.1,1353 438.2,1345.7 421.3,1345.7" fill="#917245" stroke="#59452a" stroke-width="0.6" stroke-opacity="0.55"/>
<polygon points="421.3,1345.7 438.2,1345.7 442.1,1338.7 425.5,1338.7" fill="#775c39" stroke="#59452a" stroke-width="0.6" stroke-opacity="0.55"/>
<polygon points="425.5,1338.7 442.1,1338.7 445.1,1333.3 428.8,1333.3" fill="#6e5635" stroke="#59452a" stroke-width="0.6" stroke-opacity="0.55"/>
<polygon points="412.7,1391 431.7,1391 434.4,1385.8 415.6,1385.8" fill="#745a39" stroke="#59452a" stroke-width="0.6" stroke-opacity="0.55"/>
<polygon points="415.6,1385.8 434.4,1385.8 438.2,1378.5 419.8,1378.5" fill="#775c39" stroke="#59452a" stroke-width="0.6" stroke-opacity="0.55"/>
<polygon points="419.8,1378.5 438.2,1378.5 442,1371 423.9,1371" fill="#896b41" stroke="#59452a" stroke-width="0.6" stroke-opacity="0.55"/>
<polygon points="423.9,1371 442,1371 447.9,1359.6 430.4,1359.6" fill="#6e5635" stroke="#59452a" stroke-width="0.6" stroke-opacity="0.55"/>
<polygon points="430.4,1359.6 447.9,1359.6 451.6,1352.4 434.4,1352.4" fill="#715837" stroke="#59452a" stroke-width="0.6" stroke-opacity="0.55"/>
<polygon points="434.4,1352.4 451.6,1352.4 456.4,1343.2 439.6,1343.2" fill="#917245" stroke="#59452a" stroke-width="0.6" stroke-opacity="0.55"/>
<polygon points="439.6,1343.2 456.4,1343.2 459.5,1337.2 443,1337.2" fill="#9a784a" stroke="#59452a" stroke-width="0.6" stroke-opacity="0.55"/>
<polygon points="443,1337.2 459.5,1337.2 461.4,1333.3 445.1,1333.3" fill="#917245" stroke="#59452a" stroke-width="0.6" stroke-opacity="0.55"/>
<polygon points="431.7,1391 450.7,1391 454.4,1383.2 435.8,1383.2" fill="#685131" stroke="#59452a" stroke-width="0.6" stroke-opacity="0.55"/>
<polygon points="435.8,1383.2 454.4,1383.2 458.2,1375.1 439.9,1375.1" fill="#6c5434" stroke="#59452a" stroke-width="0.6" stroke-opacity="0.55"/>
<polygon points="439.9,1375.1 458.2,1375.1 461.6,1367.8 443.7,1367.8" fill="#9a784a" stroke="#59452a" stroke-width="0.6" stroke-opacity="0.55"/>
<polygon points="443.7,1367.8 461.6,1367.8 465.5,1359.4 448,1359.4" fill="#685131" stroke="#59452a" stroke-width="0.6" stroke-opacity="0.55"/>
<polygon points="448,1359.4 465.5,1359.4 468.6,1352.8 451.4,1352.8" fill="#685131" stroke="#59452a" stroke-width="0.6" stroke-opacity="0.55"/>
<polygon points="451.4,1352.8 468.6,1352.8 471.6,1346.4 454.7,1346.4" fill="#6c5434" stroke="#59452a" stroke-width="0.6" stroke-opacity="0.55"/>
<polygon points="454.7,1346.4 471.6,1346.4 476.5,1336.1 460,1336.1" fill="#7c613c" stroke="#59452a" stroke-width="0.6" stroke-opacity="0.55"/>
<polygon points="460,1336.1 476.5,1336.1 477.8,1333.3 461.4,1333.3" fill="#775c39" stroke="#59452a" stroke-width="0.6" stroke-opacity="0.55"/>
<polygon points="450.7,1391 469.8,1391 474.8,1379 456.3,1379" fill="#6e5635" stroke="#59452a" stroke-width="0.6" stroke-opacity="0.55"/>
<polygon points="456.3,1379 474.8,1379 477.9,1371.6 459.8,1371.6" fill="#6c5434" stroke="#59452a" stroke-width="0.6" stroke-opacity="0.55"/>
<polygon points="459.8,1371.6 477.9,1371.6 481.5,1363.2 463.8,1363.2" fill="#896b41" stroke="#59452a" stroke-width="0.6" stroke-opacity="0.55"/>
<polygon points="463.8,1363.2 481.5,1363.2 484.8,1355.3 467.5,1355.3" fill="#9a784a" stroke="#59452a" stroke-width="0.6" stroke-opacity="0.55"/>
<polygon points="467.5,1355.3 484.8,1355.3 487.3,1349.4 470.2,1349.4" fill="#7c613c" stroke="#59452a" stroke-width="0.6" stroke-opacity="0.55"/>
<polygon points="470.2,1349.4 487.3,1349.4 490.1,1342.8 473.3,1342.8" fill="#896b41" stroke="#59452a" stroke-width="0.6" stroke-opacity="0.55"/>
<polygon points="473.3,1342.8 490.1,1342.8 492.2,1337.7 475.7,1337.7" fill="#917245" stroke="#59452a" stroke-width="0.6" stroke-opacity="0.55"/>
<polygon points="475.7,1337.7 492.2,1337.7 494.1,1333.3 477.8,1333.3" fill="#917245" stroke="#59452a" stroke-width="0.6" stroke-opacity="0.55"/>
<polygon points="469.8,1391 488.8,1391 490.4,1386.7 471.6,1386.7" fill="#745a39" stroke="#59452a" stroke-width="0.6" stroke-opacity="0.55"/>
<polygon points="471.6,1386.7 490.4,1386.7 493.7,1377.8 475.3,1377.8" fill="#6c5434" stroke="#59452a" stroke-width="0.6" stroke-opacity="0.55"/>
<polygon points="475.3,1377.8 493.7,1377.8 497.3,1368.3 479.3,1368.3" fill="#82663e" stroke="#59452a" stroke-width="0.6" stroke-opacity="0.55"/>
<polygon points="479.3,1368.3 497.3,1368.3 499.7,1361.9 482,1361.9" fill="#745a39" stroke="#59452a" stroke-width="0.6" stroke-opacity="0.55"/>
<polygon points="482,1361.9 499.7,1361.9 502.9,1353.3 485.6,1353.3" fill="#9a784a" stroke="#59452a" stroke-width="0.6" stroke-opacity="0.55"/>
<polygon points="485.6,1353.3 502.9,1353.3 505.5,1346.3 488.6,1346.3" fill="#896b41" stroke="#59452a" stroke-width="0.6" stroke-opacity="0.55"/>
<polygon points="488.6,1346.3 505.5,1346.3 509.1,1336.9 492.6,1336.9" fill="#917245" stroke="#59452a" stroke-width="0.6" stroke-opacity="0.55"/>
<polygon points="492.6,1336.9 509.1,1336.9 510.4,1333.3 494.1,1333.3" fill="#9a784a" stroke="#59452a" stroke-width="0.6" stroke-opacity="0.55"/>
<polygon points="488.8,1391 507.8,1391 509.1,1387 490.3,1387" fill="#775c39" stroke="#59452a" stroke-width="0.6" stroke-opacity="0.55"/>
<polygon points="490.3,1387 509.1,1387 511.6,1379.5 493.1,1379.5" fill="#917245" stroke="#59452a" stroke-width="0.6" stroke-opacity="0.55"/>
<polygon points="493.1,1379.5 511.6,1379.5 514.7,1369.9 496.7,1369.9" fill="#7c613c" stroke="#59452a" stroke-width="0.6" stroke-opacity="0.55"/>
<polygon points="496.7,1369.9 514.7,1369.9 518.5,1358.3 501,1358.3" fill="#9a784a" stroke="#59452a" stroke-width="0.6" stroke-opacity="0.55"/>
<polygon points="501,1358.3 518.5,1358.3 520.5,1352.2 503.3,1352.2" fill="#685131" stroke="#59452a" stroke-width="0.6" stroke-opacity="0.55"/>
<polygon points="503.3,1352.2 520.5,1352.2 522.3,1346.8 505.3,1346.8" fill="#715837" stroke="#59452a" stroke-width="0.6" stroke-opacity="0.55"/>
<polygon points="505.3,1346.8 522.3,1346.8 524.6,1339.9 507.9,1339.9" fill="#9a784a" stroke="#59452a" stroke-width="0.6" stroke-opacity="0.55"/>
<polygon points="507.9,1339.9 524.6,1339.9 526.7,1333.3 510.4,1333.3" fill="#896b41" stroke="#59452a" stroke-width="0.6" stroke-opacity="0.55"/>
<polygon points="507.8,1391 526.8,1391 528.9,1383.5 510.3,1383.5" fill="#917245" stroke="#59452a" stroke-width="0.6" stroke-opacity="0.55"/>
<polygon points="510.3,1383.5 528.9,1383.5 531.5,1374.5 513.2,1374.5" fill="#7c613c" stroke="#59452a" stroke-width="0.6" stroke-opacity="0.55"/>
<polygon points="513.2,1374.5 531.5,1374.5 534,1365.4 516.2,1365.4" fill="#6e5635" stroke="#59452a" stroke-width="0.6" stroke-opacity="0.55"/>
<polygon points="516.2,1365.4 534,1365.4 537.2,1354.2 519.9,1354.2" fill="#917245" stroke="#59452a" stroke-width="0.6" stroke-opacity="0.55"/>
<polygon points="519.9,1354.2 537.2,1354.2 539.3,1346.6 522.4,1346.6" fill="#775c39" stroke="#59452a" stroke-width="0.6" stroke-opacity="0.55"/>
<polygon points="522.4,1346.6 539.3,1346.6 541.6,1338.3 525.1,1338.3" fill="#82663e" stroke="#59452a" stroke-width="0.6" stroke-opacity="0.55"/>
<polygon points="525.1,1338.3 541.6,1338.3 543,1333.3 526.7,1333.3" fill="#82663e" stroke="#59452a" stroke-width="0.6" stroke-opacity="0.55"/>
<polygon points="526.8,1391 545.8,1391 547.1,1385.6 528.3,1385.6" fill="#896b41" stroke="#59452a" stroke-width="0.6" stroke-opacity="0.55"/>
<polygon points="528.3,1385.6 547.1,1385.6 550,1373.2 531.8,1373.2" fill="#82663e" stroke="#59452a" stroke-width="0.6" stroke-opacity="0.55"/>
<polygon points="531.8,1373.2 550,1373.2 552.1,1364.3 534.3,1364.3" fill="#82663e" stroke="#59452a" stroke-width="0.6" stroke-opacity="0.55"/>
<polygon points="534.3,1364.3 552.1,1364.3 553.6,1357.7 536.2,1357.7" fill="#6c5434" stroke="#59452a" stroke-width="0.6" stroke-opacity="0.55"/>
<polygon points="536.2,1357.7 553.6,1357.7 555.1,1351.4 537.9,1351.4" fill="#9a784a" stroke="#59452a" stroke-width="0.6" stroke-opacity="0.55"/>
<polygon points="537.9,1351.4 555.1,1351.4 557.5,1341 540.9,1341" fill="#7c613c" stroke="#59452a" stroke-width="0.6" stroke-opacity="0.55"/>
<polygon points="540.9,1341 557.5,1341 559.1,1334.5 542.7,1334.5" fill="#775c39" stroke="#59452a" stroke-width="0.6" stroke-opacity="0.55"/>
<polygon points="542.7,1334.5 559.1,1334.5 559.3,1333.3 543,1333.3" fill="#6c5434" stroke="#59452a" stroke-width="0.6" stroke-opacity="0.55"/>
<polygon points="545.8,1391 564.8,1391 566.1,1384.5 547.4,1384.5" fill="#7c613c" stroke="#59452a" stroke-width="0.6" stroke-opacity="0.55"/>
<polygon points="547.4,1384.5 566.1,1384.5 568.4,1372.3 550.2,1372.3" fill="#6c5434" stroke="#59452a" stroke-width="0.6" stroke-opacity="0.55"/>
<polygon points="550.2,1372.3 568.4,1372.3 569.8,1364.8 552,1364.8" fill="#82663e" stroke="#59452a" stroke-width="0.6" stroke-opacity="0.55"/>
<polygon points="552,1364.8 569.8,1364.8 571.7,1354.3 554.4,1354.3" fill="#82663e" stroke="#59452a" stroke-width="0.6" stroke-opacity="0.55"/>
<polygon points="554.4,1354.3 571.7,1354.3 573.1,1347.2 556.1,1347.2" fill="#9a784a" stroke="#59452a" stroke-width="0.6" stroke-opacity="0.55"/>
<polygon points="556.1,1347.2 573.1,1347.2 575,1336.9 558.5,1336.9" fill="#745a39" stroke="#59452a" stroke-width="0.6" stroke-opacity="0.55"/>
<polygon points="558.5,1336.9 575,1336.9 575.7,1333.3 559.3,1333.3" fill="#9a784a" stroke="#59452a" stroke-width="0.6" stroke-opacity="0.55"/>
<polygon points="564.8,1391 583.9,1391 584.6,1385.4 565.9,1385.4" fill="#6c5434" stroke="#59452a" stroke-width="0.6" stroke-opacity="0.55"/>
<polygon points="565.9,1385.4 584.6,1385.4 586.2,1374.3 568,1374.3" fill="#82663e" stroke="#59452a" stroke-width="0.6" stroke-opacity="0.55"/>
<polygon points="568,1374.3 586.2,1374.3 587.3,1366.5 569.4,1366.5" fill="#896b41" stroke="#59452a" stroke-width="0.6" stroke-opacity="0.55"/>
<polygon points="569.4,1366.5 587.3,1366.5 588.6,1357.2 571.2,1357.2" fill="#745a39" stroke="#59452a" stroke-width="0.6" stroke-opacity="0.55"/>
<polygon points="571.2,1357.2 588.6,1357.2 589.4,1351.5 572.3,1351.5" fill="#896b41" stroke="#59452a" stroke-width="0.6" stroke-opacity="0.55"/>
<polygon points="572.3,1351.5 589.4,1351.5 590.5,1344.1 573.6,1344.1" fill="#9a784a" stroke="#59452a" stroke-width="0.6" stroke-opacity="0.55"/>
<polygon points="573.6,1344.1 590.5,1344.1 591.3,1338.3 574.7,1338.3" fill="#6c5434" stroke="#59452a" stroke-width="0.6" stroke-opacity="0.55"/>
<polygon points="574.7,1338.3 591.3,1338.3 592,1333.3 575.7,1333.3" fill="#6e5635" stroke="#59452a" stroke-width="0.6" stroke-opacity="0.55"/>
<polygon points="583.9,1391 602.9,1391 603.1,1389.1 584.1,1389.1" fill="#685131" stroke="#59452a" stroke-width="0.6" stroke-opacity="0.55"/>
<polygon points="584.1,1389.1 603.1,1389.1 604,1379.1 585.5,1379.1" fill="#6c5434" stroke="#59452a" stroke-width="0.6" stroke-opacity="0.55"/>
<polygon points="585.5,1379.1 604,1379.1 604.8,1370.2 586.8,1370.2" fill="#917245" stroke="#59452a" stroke-width="0.6" stroke-opacity="0.55"/>
<polygon points="586.8,1370.2 604.8,1370.2 605.7,1360.8 588.1,1360.8" fill="#685131" stroke="#59452a" stroke-width="0.6" stroke-opacity="0.55"/>
<polygon points="588.1,1360.8 605.7,1360.8 606.6,1351.5 589.4,1351.5" fill="#917245" stroke="#59452a" stroke-width="0.6" stroke-opacity="0.55"/>
<polygon points="589.4,1351.5 606.6,1351.5 607.3,1343.6 590.5,1343.6" fill="#685131" stroke="#59452a" stroke-width="0.6" stroke-opacity="0.55"/>
<polygon points="590.5,1343.6 607.3,1343.6 608.2,1334.2 591.9,1334.2" fill="#7c613c" stroke="#59452a" stroke-width="0.6" stroke-opacity="0.55"/>
<polygon points="591.9,1334.2 608.2,1334.2 608.3,1333.3 592,1333.3" fill="#6e5635" stroke="#59452a" stroke-width="0.6" stroke-opacity="0.55"/>
<polygon points="602.9,1391 621.9,1391 621.9,1390.5 602.9,1390.5" fill="#6c5434" stroke="#59452a" stroke-width="0.6" stroke-opacity="0.55"/>
<polygon points="602.9,1390.5 621.9,1390.5 622.4,1379.5 604,1379.5" fill="#917245" stroke="#59452a" stroke-width="0.6" stroke-opacity="0.55"/>
<polygon points="604,1379.5 622.4,1379.5 622.9,1369.7 604.9,1369.7" fill="#685131" stroke="#59452a" stroke-width="0.6" stroke-opacity="0.55"/>
<polygon points="604.9,1369.7 622.9,1369.7 623.4,1359.2 605.9,1359.2" fill="#82663e" stroke="#59452a" stroke-width="0.6" stroke-opacity="0.55"/>
<polygon points="605.9,1359.2 623.4,1359.2 623.7,1352.8 606.5,1352.8" fill="#6e5635" stroke="#59452a" stroke-width="0.6" stroke-opacity="0.55"/>
<polygon points="606.5,1352.8 623.7,1352.8 624.1,1343.7 607.3,1343.7" fill="#6e5635" stroke="#59452a" stroke-width="0.6" stroke-opacity="0.55"/>
<polygon points="607.3,1343.7 624.1,1343.7 624.6,1333.7 608.3,1333.7" fill="#745a39" stroke="#59452a" stroke-width="0.6" stroke-opacity="0.55"/>
<polygon points="608.3,1333.7 624.6,1333.7 624.6,1333.3 608.3,1333.3" fill="#9a784a" stroke="#59452a" stroke-width="0.6" stroke-opacity="0.55"/>
<polygon points="621.9,1391 640.9,1391 640.9,1388.3 622,1388.3" fill="#7c613c" stroke="#59452a" stroke-width="0.6" stroke-opacity="0.55"/>
<polygon points="622,1388.3 640.9,1388.3 640.9,1380.1 622.4,1380.1" fill="#715837" stroke="#59452a" stroke-width="0.6" stroke-opacity="0.55"/>
<polygon points="622.4,1380.1 640.9,1380.1 640.9,1369 622.9,1369" fill="#685131" stroke="#59452a" stroke-width="0.6" stroke-opacity="0.55"/>
<polygon points="622.9,1369 640.9,1369 640.9,1357.7 623.5,1357.7" fill="#896b41" stroke="#59452a" stroke-width="0.6" stroke-opacity="0.55"/>
<polygon points="623.5,1357.7 640.9,1357.7 640.9,1348.2 623.9,1348.2" fill="#715837" stroke="#59452a" stroke-width="0.6" stroke-opacity="0.55"/>
<polygon points="623.9,1348.2 640.9,1348.2 640.9,1337.8 624.4,1337.8" fill="#6e5635" stroke="#59452a" stroke-width="0.6" stroke-opacity="0.55"/>
<polygon points="624.4,1337.8 640.9,1337.8 640.9,1333.3 624.6,1333.3" fill="#715837" stroke="#59452a" stroke-width="0.6" stroke-opacity="0.55"/>
<polygon points="640.9,1391 659.9,1391 659.5,1381.9 640.9,1381.9" fill="#715837" stroke="#59452a" stroke-width="0.6" stroke-opacity="0.55"/>
<polygon points="640.9,1381.9 659.5,1381.9 659,1371.2 640.9,1371.2" fill="#775c39" stroke="#59452a" stroke-width="0.6" stroke-opacity="0.55"/>
<polygon points="640.9,1371.2 659,1371.2 658.5,1359.5 640.9,1359.5" fill="#6e5635" stroke="#59452a" stroke-width="0.6" stroke-opacity="0.55"/>
<polygon points="640.9,1359.5 658.5,1359.5 658.2,1353 640.9,1353" fill="#9a784a" stroke="#59452a" stroke-width="0.6" stroke-opacity="0.55"/>
<polygon points="640.9,1353 658.2,1353 657.9,1346.6 640.9,1346.6" fill="#775c39" stroke="#59452a" stroke-width="0.6" stroke-opacity="0.55"/>
<polygon points="640.9,1346.6 657.9,1346.6 657.6,1341 640.9,1341" fill="#7c613c" stroke="#59452a" stroke-width="0.6" stroke-opacity="0.55"/>
<polygon points="640.9,1341 657.6,1341 657.4,1335.7 640.9,1335.7" fill="#715837" stroke="#59452a" stroke-width="0.6" stroke-opacity="0.55"/>
<polygon points="640.9,1335.7 657.4,1335.7 657.2,1333.3 640.9,1333.3" fill="#715837" stroke="#59452a" stroke-width="0.6" stroke-opacity="0.55"/>
<polygon points="659.9,1391 678.9,1391 678.2,1382.9 659.6,1382.9" fill="#715837" stroke="#59452a" stroke-width="0.6" stroke-opacity="0.55"/>
<polygon points="659.6,1382.9 678.2,1382.9 677.2,1371.9 659,1371.9" fill="#9a784a" stroke="#59452a" stroke-width="0.6" stroke-opacity="0.55"/>
<polygon points="659,1371.9 677.2,1371.9 676.5,1365.1 658.7,1365.1" fill="#917245" stroke="#59452a" stroke-width="0.6" stroke-opacity="0.55"/>
<polygon points="658.7,1365.1 676.5,1365.1 675.9,1358.8 658.4,1358.8" fill="#685131" stroke="#59452a" stroke-width="0.6" stroke-opacity="0.55"/>
<polygon points="658.4,1358.8 675.9,1358.8 675.1,1349.9 658,1349.9" fill="#6e5635" stroke="#59452a" stroke-width="0.6" stroke-opacity="0.55"/>
<polygon points="658,1349.9 675.1,1349.9 674.4,1342.7 657.7,1342.7" fill="#685131" stroke="#59452a" stroke-width="0.6" stroke-opacity="0.55"/>
<polygon points="657.7,1342.7 674.4,1342.7 673.8,1335.7 657.4,1335.7" fill="#6c5434" stroke="#59452a" stroke-width="0.6" stroke-opacity="0.55"/>
<polygon points="657.4,1335.7 673.8,1335.7 673.6,1333.3 657.2,1333.3" fill="#82663e" stroke="#59452a" stroke-width="0.6" stroke-opacity="0.55"/>
<polygon points="678.9,1391 698,1391 696.6,1381.5 678.1,1381.5" fill="#745a39" stroke="#59452a" stroke-width="0.6" stroke-opacity="0.55"/>
<polygon points="678.1,1381.5 696.6,1381.5 695.5,1373.4 677.3,1373.4" fill="#745a39" stroke="#59452a" stroke-width="0.6" stroke-opacity="0.55"/>
<polygon points="677.3,1373.4 695.5,1373.4 694.2,1364.1 676.4,1364.1" fill="#7c613c" stroke="#59452a" stroke-width="0.6" stroke-opacity="0.55"/>
<polygon points="676.4,1364.1 694.2,1364.1 693.2,1356.8 675.8,1356.8" fill="#745a39" stroke="#59452a" stroke-width="0.6" stroke-opacity="0.55"/>
<polygon points="675.8,1356.8 693.2,1356.8 692.2,1350 675.1,1350" fill="#82663e" stroke="#59452a" stroke-width="0.6" stroke-opacity="0.55"/>
<polygon points="675.1,1350 692.2,1350 691.1,1341.9 674.4,1341.9" fill="#775c39" stroke="#59452a" stroke-width="0.6" stroke-opacity="0.55"/>
<polygon points="674.4,1341.9 691.1,1341.9 689.9,1333.3 673.6,1333.3" fill="#896b41" stroke="#59452a" stroke-width="0.6" stroke-opacity="0.55"/>
<polygon points="698,1391 717,1391 715.9,1385.4 697.2,1385.4" fill="#775c39" stroke="#59452a" stroke-width="0.6" stroke-opacity="0.55"/>
<polygon points="697.2,1385.4 715.9,1385.4 713.9,1374.5 695.7,1374.5" fill="#685131" stroke="#59452a" stroke-width="0.6" stroke-opacity="0.55"/>
<polygon points="695.7,1374.5 713.9,1374.5 712.4,1366.4 694.5,1366.4" fill="#9a784a" stroke="#59452a" stroke-width="0.6" stroke-opacity="0.55"/>
<polygon points="694.5,1366.4 712.4,1366.4 710.6,1356.7 693.2,1356.7" fill="#715837" stroke="#59452a" stroke-width="0.6" stroke-opacity="0.55"/>
<polygon points="693.2,1356.7 710.6,1356.7 708.7,1346.5 691.7,1346.5" fill="#745a39" stroke="#59452a" stroke-width="0.6" stroke-opacity="0.55"/>
<polygon points="691.7,1346.5 708.7,1346.5 707.1,1338.2 690.6,1338.2" fill="#7c613c" stroke="#59452a" stroke-width="0.6" stroke-opacity="0.55"/>
<polygon points="690.6,1338.2 707.1,1338.2 706.2,1333.3 689.9,1333.3" fill="#6e5635" stroke="#59452a" stroke-width="0.6" stroke-opacity="0.55"/>
<polygon points="717,1391 736,1391 734.8,1386 716.1,1386" fill="#745a39" stroke="#59452a" stroke-width="0.6" stroke-opacity="0.55"/>
<polygon points="716.1,1386 734.8,1386 733.3,1379.4 714.8,1379.4" fill="#917245" stroke="#59452a" stroke-width="0.6" stroke-opacity="0.55"/>
<polygon points="714.8,1379.4 733.3,1379.4 731.7,1372.8 713.6,1372.8" fill="#775c39" stroke="#59452a" stroke-width="0.6" stroke-opacity="0.55"/>
<polygon points="713.6,1372.8 731.7,1372.8 729,1361.3 711.4,1361.3" fill="#917245" stroke="#59452a" stroke-width="0.6" stroke-opacity="0.55"/>
<polygon points="711.4,1361.3 729,1361.3 726.8,1351.8 709.6,1351.8" fill="#7c613c" stroke="#59452a" stroke-width="0.6" stroke-opacity="0.55"/>
<polygon points="709.6,1351.8 726.8,1351.8 724.6,1342.5 707.9,1342.5" fill="#715837" stroke="#59452a" stroke-width="0.6" stroke-opacity="0.55"/>
<polygon points="707.9,1342.5 724.6,1342.5 722.5,1333.3 706.2,1333.3" fill="#685131" stroke="#59452a" stroke-width="0.6" stroke-opacity="0.55"/>
<polygon points="736,1391 755,1391 753.9,1386.9 735,1386.9" fill="#9a784a" stroke="#59452a" stroke-width="0.6" stroke-opacity="0.55"/>
<polygon points="735,1386.9 753.9,1386.9 751.4,1378 733,1378" fill="#7c613c" stroke="#59452a" stroke-width="0.6" stroke-opacity="0.55"/>
<polygon points="733,1378 751.4,1378 749.1,1370.1 731.1,1370.1" fill="#9a784a" stroke="#59452a" stroke-width="0.6" stroke-opacity="0.55"/>
<polygon points="731.1,1370.1 749.1,1370.1 746.3,1360 728.7,1360" fill="#917245" stroke="#59452a" stroke-width="0.6" stroke-opacity="0.55"/>
<polygon points="728.7,1360 746.3,1360 744.1,1352.3 726.9,1352.3" fill="#896b41" stroke="#59452a" stroke-width="0.6" stroke-opacity="0.55"/>
<polygon points="726.9,1352.3 744.1,1352.3 741.7,1343.4 724.9,1343.4" fill="#685131" stroke="#59452a" stroke-width="0.6" stroke-opacity="0.55"/>
<polygon points="724.9,1343.4 741.7,1343.4 739.6,1336.1 723.1,1336.1" fill="#896b41" stroke="#59452a" stroke-width="0.6" stroke-opacity="0.55"/>
<polygon points="723.1,1336.1 739.6,1336.1 738.8,1333.3 722.5,1333.3" fill="#9a784a" stroke="#59452a" stroke-width="0.6" stroke-opacity="0.55"/>
<polygon points="755,1391 774,1391 774,1390.8 755,1390.8" fill="#775c39" stroke="#59452a" stroke-width="0.6" stroke-opacity="0.55"/>
<polygon points="755,1390.8 774,1390.8 771,1381.7 752.4,1381.7" fill="#715837" stroke="#59452a" stroke-width="0.6" stroke-opacity="0.55"/>
<polygon points="752.4,1381.7 771,1381.7 768.8,1375.1 750.6,1375.1" fill="#775c39" stroke="#59452a" stroke-width="0.6" stroke-opacity="0.55"/>
<polygon points="750.6,1375.1 768.8,1375.1 766.4,1367.8 748.5,1367.8" fill="#6c5434" stroke="#59452a" stroke-width="0.6" stroke-opacity="0.55"/>
<polygon points="748.5,1367.8 766.4,1367.8 763.6,1359.1 746.1,1359.1" fill="#6e5635" stroke="#59452a" stroke-width="0.6" stroke-opacity="0.55"/>
<polygon points="746.1,1359.1 763.6,1359.1 760.6,1349.9 743.5,1349.9" fill="#896b41" stroke="#59452a" stroke-width="0.6" stroke-opacity="0.55"/>
<polygon points="743.5,1349.9 760.6,1349.9 758.8,1344.5 742,1344.5" fill="#6e5635" stroke="#59452a" stroke-width="0.6" stroke-opacity="0.55"/>
<polygon points="742,1344.5 758.8,1344.5 756.6,1337.8 740.1,1337.8" fill="#9a784a" stroke="#59452a" stroke-width="0.6" stroke-opacity="0.55"/>
<polygon points="740.1,1337.8 756.6,1337.8 755.1,1333.3 738.8,1333.3" fill="#896b41" stroke="#59452a" stroke-width="0.6" stroke-opacity="0.55"/>
<polygon points="774,1391 793.1,1391 791.7,1387.4 772.9,1387.4" fill="#775c39" stroke="#59452a" stroke-width="0.6" stroke-opacity="0.55"/>
<polygon points="772.9,1387.4 791.7,1387.4 787.7,1376.8 769.4,1376.8" fill="#715837" stroke="#59452a" stroke-width="0.6" stroke-opacity="0.55"/>
<polygon points="769.4,1376.8 787.7,1376.8 784.6,1368.4 766.6,1368.4" fill="#917245" stroke="#59452a" stroke-width="0.6" stroke-opacity="0.55"/>
<polygon points="766.6,1368.4 784.6,1368.4 780.5,1357.5 763.1,1357.5" fill="#6e5635" stroke="#59452a" stroke-width="0.6" stroke-opacity="0.55"/>
<polygon points="763.1,1357.5 780.5,1357.5 778.1,1351.1 761,1351.1" fill="#82663e" stroke="#59452a" stroke-width="0.6" stroke-opacity="0.55"/>
<polygon points="761,1351.1 778.1,1351.1 775.9,1345.1 759,1345.1" fill="#775c39" stroke="#59452a" stroke-width="0.6" stroke-opacity="0.55"/>
<polygon points="759,1345.1 775.9,1345.1 772.5,1336.1 756,1336.1" fill="#685131" stroke="#59452a" stroke-width="0.6" stroke-opacity="0.55"/>
<polygon points="756,1336.1 772.5,1336.1 771.5,1333.3 755.1,1333.3" fill="#6e5635" stroke="#59452a" stroke-width="0.6" stroke-opacity="0.55"/>
<polygon points="793.1,1391 812.1,1391 811.3,1389.2 792.4,1389.2" fill="#896b41" stroke="#59452a" stroke-width="0.6" stroke-opacity="0.55"/>
<polygon points="792.4,1389.2 811.3,1389.2 807.7,1380.6 789.2,1380.6" fill="#6c5434" stroke="#59452a" stroke-width="0.6" stroke-opacity="0.55"/>
<polygon points="789.2,1380.6 807.7,1380.6 803.3,1370.1 785.2,1370.1" fill="#685131" stroke="#59452a" stroke-width="0.6" stroke-opacity="0.55"/>
<polygon points="785.2,1370.1 803.3,1370.1 799.7,1361.5 782,1361.5" fill="#775c39" stroke="#59452a" stroke-width="0.6" stroke-opacity="0.55"/>
<polygon points="782,1361.5 799.7,1361.5 797,1355.2 779.6,1355.2" fill="#685131" stroke="#59452a" stroke-width="0.6" stroke-opacity="0.55"/>
<polygon points="779.6,1355.2 797,1355.2 793.9,1347.9 776.9,1347.9" fill="#6e5635" stroke="#59452a" stroke-width="0.6" stroke-opacity="0.55"/>
<polygon points="776.9,1347.9 793.9,1347.9 790.2,1339.2 773.6,1339.2" fill="#775c39" stroke="#59452a" stroke-width="0.6" stroke-opacity="0.55"/>
<polygon points="773.6,1339.2 790.2,1339.2 788,1333.9 771.7,1333.9" fill="#6c5434" stroke="#59452a" stroke-width="0.6" stroke-opacity="0.55"/>
<polygon points="771.7,1333.9 788,1333.9 787.8,1333.3 771.5,1333.3" fill="#685131" stroke="#59452a" stroke-width="0.6" stroke-opacity="0.55"/>
<polygon points="812.1,1391 831.1,1391 827.1,1382.4 808.4,1382.4" fill="#896b41" stroke="#59452a" stroke-width="0.6" stroke-opacity="0.55"/>
<polygon points="808.4,1382.4 827.1,1382.4 822.1,1371.9 804,1371.9" fill="#775c39" stroke="#59452a" stroke-width="0.6" stroke-opacity="0.55"/>
<polygon points="804,1371.9 822.1,1371.9 818,1363.1 800.3,1363.1" fill="#82663e" stroke="#59452a" stroke-width="0.6" stroke-opacity="0.55"/>
<polygon points="800.3,1363.1 818,1363.1 815.2,1357 797.7,1357" fill="#6e5635" stroke="#59452a" stroke-width="0.6" stroke-opacity="0.55"/>
<polygon points="797.7,1357 815.2,1357 812.1,1350.6 795,1350.6" fill="#7c613c" stroke="#59452a" stroke-width="0.6" stroke-opacity="0.55"/>
<polygon points="795,1350.6 812.1,1350.6 809.2,1344.3 792.4,1344.3" fill="#7c613c" stroke="#59452a" stroke-width="0.6" stroke-opacity="0.55"/>
<polygon points="792.4,1344.3 809.2,1344.3 804.6,1334.3 788.2,1334.3" fill="#685131" stroke="#59452a" stroke-width="0.6" stroke-opacity="0.55"/>
<polygon points="788.2,1334.3 804.6,1334.3 804.1,1333.3 787.8,1333.3" fill="#82663e" stroke="#59452a" stroke-width="0.6" stroke-opacity="0.55"/>
<polygon points="831.1,1391 850.1,1391 846.5,1384 827.8,1384" fill="#685131" stroke="#59452a" stroke-width="0.6" stroke-opacity="0.55"/>
<polygon points="827.8,1384 846.5,1384 841.9,1375.1 823.6,1375.1" fill="#6c5434" stroke="#59452a" stroke-width="0.6" stroke-opacity="0.55"/>
<polygon points="823.6,1375.1 841.9,1375.1 838.7,1368.8 820.7,1368.8" fill="#745a39" stroke="#59452a" stroke-width="0.6" stroke-opacity="0.55"/>
<polygon points="820.7,1368.8 838.7,1368.8 833.9,1359.6 816.4,1359.6" fill="#715837" stroke="#59452a" stroke-width="0.6" stroke-opacity="0.55"/>
<polygon points="816.4,1359.6 833.9,1359.6 829,1350 811.9,1350" fill="#7c613c" stroke="#59452a" stroke-width="0.6" stroke-opacity="0.55"/>
<polygon points="811.9,1350 829,1350 823.8,1340 807.2,1340" fill="#6e5635" stroke="#59452a" stroke-width="0.6" stroke-opacity="0.55"/>
<polygon points="807.2,1340 823.8,1340 821,1334.5 804.6,1334.5" fill="#6e5635" stroke="#59452a" stroke-width="0.6" stroke-opacity="0.55"/>
<polygon points="804.6,1334.5 821,1334.5 820.4,1333.3 804.1,1333.3" fill="#7c613c" stroke="#59452a" stroke-width="0.6" stroke-opacity="0.55"/>
<polygon points="850.1,1391 869.1,1391 866.4,1386.2 847.6,1386.2" fill="#6c5434" stroke="#59452a" stroke-width="0.6" stroke-opacity="0.55"/>
<polygon points="847.6,1386.2 866.4,1386.2 862.6,1379.4 844.1,1379.4" fill="#917245" stroke="#59452a" stroke-width="0.6" stroke-opacity="0.55"/>
<polygon points="844.1,1379.4 862.6,1379.4 857.6,1370.5 839.5,1370.5" fill="#685131" stroke="#59452a" stroke-width="0.6" stroke-opacity="0.55"/>
<polygon points="839.5,1370.5 857.6,1370.5 854.1,1364.2 836.3,1364.2" fill="#6c5434" stroke="#59452a" stroke-width="0.6" stroke-opacity="0.55"/>
<polygon points="836.3,1364.2 854.1,1364.2 847.8,1353.1 830.6,1353.1" fill="#7c613c" stroke="#59452a" stroke-width="0.6" stroke-opacity="0.55"/>
<polygon points="830.6,1353.1 847.8,1353.1 844.2,1346.7 827.3,1346.7" fill="#745a39" stroke="#59452a" stroke-width="0.6" stroke-opacity="0.55"/>
<polygon points="827.3,1346.7 844.2,1346.7 839.4,1338.2 822.9,1338.2" fill="#7c613c" stroke="#59452a" stroke-width="0.6" stroke-opacity="0.55"/>
<polygon points="822.9,1338.2 839.4,1338.2 836.7,1333.3 820.4,1333.3" fill="#715837" stroke="#59452a" stroke-width="0.6" stroke-opacity="0.55"/>
<polygon points="869.1,1391 888.1,1391 885.4,1386.5 866.6,1386.5" fill="#715837" stroke="#59452a" stroke-width="0.6" stroke-opacity="0.55"/>
<polygon points="866.6,1386.5 885.4,1386.5 879.4,1376.6 861,1376.6" fill="#775c39" stroke="#59452a" stroke-width="0.6" stroke-opacity="0.55"/>
<polygon points="861,1376.6 879.4,1376.6 873.4,1366.9 855.6,1366.9" fill="#7c613c" stroke="#59452a" stroke-width="0.6" stroke-opacity="0.55"/>
<polygon points="855.6,1366.9 873.4,1366.9 867.7,1357.4 850.3,1357.4" fill="#6e5635" stroke="#59452a" stroke-width="0.6" stroke-opacity="0.55"/>
<polygon points="850.3,1357.4 867.7,1357.4 862.5,1348.9 845.5,1348.9" fill="#6e5635" stroke="#59452a" stroke-width="0.6" stroke-opacity="0.55"/>
<polygon points="845.5,1348.9 862.5,1348.9 858,1341.4 841.3,1341.4" fill="#917245" stroke="#59452a" stroke-width="0.6" stroke-opacity="0.55"/>
<polygon points="841.3,1341.4 858,1341.4 853.3,1333.7 836.9,1333.7" fill="#775c39" stroke="#59452a" stroke-width="0.6" stroke-opacity="0.55"/>
<polygon points="836.9,1333.7 853.3,1333.7 853,1333.3 836.7,1333.3" fill="#82663e" stroke="#59452a" stroke-width="0.6" stroke-opacity="0.55"/>
<polygon points="888.1,1391 907.2,1391 902.5,1384 883.9,1384" fill="#7c613c" stroke="#59452a" stroke-width="0.6" stroke-opacity="0.55"/>
<polygon points="883.9,1384 902.5,1384 896.1,1374.1 877.9,1374.1" fill="#775c39" stroke="#59452a" stroke-width="0.6" stroke-opacity="0.55"/>
<polygon points="877.9,1374.1 896.1,1374.1 890.9,1366.2 873,1366.2" fill="#715837" stroke="#59452a" stroke-width="0.6" stroke-opacity="0.55"/>
<polygon points="873,1366.2 890.9,1366.2 884.2,1355.9 866.8,1355.9" fill="#82663e" stroke="#59452a" stroke-width="0.6" stroke-opacity="0.55"/>
<polygon points="866.8,1355.9 884.2,1355.9 877.7,1346 860.7,1346" fill="#896b41" stroke="#59452a" stroke-width="0.6" stroke-opacity="0.55"/>
<polygon points="860.7,1346 877.7,1346 873.8,1340.1 857.1,1340.1" fill="#745a39" stroke="#59452a" stroke-width="0.6" stroke-opacity="0.55"/>
<polygon points="857.1,1340.1 873.8,1340.1 870.2,1334.6 853.8,1334.6" fill="#7c613c" stroke="#59452a" stroke-width="0.6" stroke-opacity="0.55"/>
<polygon points="853.8,1334.6 870.2,1334.6 869.4,1333.3 853,1333.3" fill="#917245" stroke="#59452a" stroke-width="0.6" stroke-opacity="0.55"/>
<polygon points="907.2,1391 926.2,1391 923.8,1387.6 904.9,1387.6" fill="#82663e" stroke="#59452a" stroke-width="0.6" stroke-opacity="0.55"/>
<polygon points="904.9,1387.6 923.8,1387.6 919,1380.7 900.4,1380.7" fill="#7c613c" stroke="#59452a" stroke-width="0.6" stroke-opacity="0.55"/>
<polygon points="900.4,1380.7 919,1380.7 914.3,1374.2 896.1,1374.2" fill="#7c613c" stroke="#59452a" stroke-width="0.6" stroke-opacity="0.55"/>
<polygon points="896.1,1374.2 914.3,1374.2 906.8,1363.4 889,1363.4" fill="#896b41" stroke="#59452a" stroke-width="0.6" stroke-opacity="0.55"/>
<polygon points="889,1363.4 906.8,1363.4 899.3,1352.7 882,1352.7" fill="#715837" stroke="#59452a" stroke-width="0.6" stroke-opacity="0.55"/>
<polygon points="882,1352.7 899.3,1352.7 893.9,1345 877,1345" fill="#896b41" stroke="#59452a" stroke-width="0.6" stroke-opacity="0.55"/>
<polygon points="877,1345 893.9,1345 888.9,1337.9 872.3,1337.9" fill="#745a39" stroke="#59452a" stroke-width="0.6" stroke-opacity="0.55"/>
<polygon points="872.3,1337.9 888.9,1337.9 885.7,1333.3 869.4,1333.3" fill="#82663e" stroke="#59452a" stroke-width="0.6" stroke-opacity="0.55"/>
<polygon points="926.2,1391 945.2,1391 940.4,1384.6 921.6,1384.6" fill="#9a784a" stroke="#59452a" stroke-width="0.6" stroke-opacity="0.55"/>
<polygon points="921.6,1384.6 940.4,1384.6 935.4,1378 917,1378" fill="#775c39" stroke="#59452a" stroke-width="0.6" stroke-opacity="0.55"/>
<polygon points="917,1378 935.4,1378 927.1,1366.9 909.2,1366.9" fill="#685131" stroke="#59452a" stroke-width="0.6" stroke-opacity="0.55"/>
<polygon points="909.2,1366.9 927.1,1366.9 919.4,1356.6 902,1356.6" fill="#6c5434" stroke="#59452a" stroke-width="0.6" stroke-opacity="0.55"/>
<polygon points="902,1356.6 919.4,1356.6 912.3,1347.1 895.3,1347.1" fill="#917245" stroke="#59452a" stroke-width="0.6" stroke-opacity="0.55"/>
<polygon points="895.3,1347.1 912.3,1347.1 907.3,1340.4 890.7,1340.4" fill="#917245" stroke="#59452a" stroke-width="0.6" stroke-opacity="0.55"/>
<polygon points="890.7,1340.4 907.3,1340.4 902,1333.3 885.7,1333.3" fill="#896b41" stroke="#59452a" stroke-width="0.6" stroke-opacity="0.55"/>
<polygon points="945.2,1391 964.2,1391 958.5,1383.8 939.8,1383.8" fill="#82663e" stroke="#59452a" stroke-width="0.6" stroke-opacity="0.55"/>
<polygon points="939.8,1383.8 958.5,1383.8 950.9,1374.3 932.7,1374.3" fill="#896b41" stroke="#59452a" stroke-width="0.6" stroke-opacity="0.55"/>
<polygon points="932.7,1374.3 950.9,1374.3 944.7,1366.5 926.9,1366.5" fill="#715837" stroke="#59452a" stroke-width="0.6" stroke-opacity="0.55"/>
<polygon points="926.9,1366.5 944.7,1366.5 937.6,1357.6 920.2,1357.6" fill="#745a39" stroke="#59452a" stroke-width="0.6" stroke-opacity="0.55"/>
<polygon points="920.2,1357.6 937.6,1357.6 933.1,1351.9 915.9,1351.9" fill="#715837" stroke="#59452a" stroke-width="0.6" stroke-opacity="0.55"/>
<polygon points="915.9,1351.9 933.1,1351.9 928.5,1346.2 911.6,1346.2" fill="#775c39" stroke="#59452a" stroke-width="0.6" stroke-opacity="0.55"/>
<polygon points="911.6,1346.2 928.5,1346.2 921,1336.7 904.5,1336.7" fill="#917245" stroke="#59452a" stroke-width="0.6" stroke-opacity="0.55"/>
<polygon points="904.5,1336.7 921,1336.7 918.3,1333.3 902,1333.3" fill="#9a784a" stroke="#59452a" stroke-width="0.6" stroke-opacity="0.55"/>
<polygon points="964.2,1391 983.2,1391 974.9,1381.1 956.3,1381.1" fill="#775c39" stroke="#59452a" stroke-width="0.6" stroke-opacity="0.55"/>
<polygon points="956.3,1381.1 974.9,1381.1 967.7,1372.6 949.6,1372.6" fill="#896b41" stroke="#59452a" stroke-width="0.6" stroke-opacity="0.55"/>
<polygon points="949.6,1372.6 967.7,1372.6 960.8,1364.4 943.1,1364.4" fill="#775c39" stroke="#59452a" stroke-width="0.6" stroke-opacity="0.55"/>
<polygon points="943.1,1364.4 960.8,1364.4 953.2,1355.4 935.8,1355.4" fill="#775c39" stroke="#59452a" stroke-width="0.6" stroke-opacity="0.55"/>
<polygon points="935.8,1355.4 953.2,1355.4 945.3,1346 928.4,1346" fill="#715837" stroke="#59452a" stroke-width="0.6" stroke-opacity="0.55"/>
<polygon points="928.4,1346 945.3,1346 939.7,1339.3 923.1,1339.3" fill="#9a784a" stroke="#59452a" stroke-width="0.6" stroke-opacity="0.55"/>
<polygon points="923.1,1339.3 939.7,1339.3 934.7,1333.5 918.4,1333.5" fill="#775c39" stroke="#59452a" stroke-width="0.6" stroke-opacity="0.55"/>
<polygon points="918.4,1333.5 934.7,1333.5 934.6,1333.3 918.3,1333.3" fill="#917245" stroke="#59452a" stroke-width="0.6" stroke-opacity="0.55"/>
<polygon points="983.2,1391 1002.2,1391 1001.3,1389.9 982.3,1389.9" fill="#896b41" stroke="#59452a" stroke-width="0.6" stroke-opacity="0.55"/>
<polygon points="982.3,1389.9 1001.3,1389.9 992.9,1380.5 974.3,1380.5" fill="#7c613c" stroke="#59452a" stroke-width="0.6" stroke-opacity="0.55"/>
<polygon points="974.3,1380.5 992.9,1380.5 984.8,1371.4 966.7,1371.4" fill="#917245" stroke="#59452a" stroke-width="0.6" stroke-opacity="0.55"/>
<polygon points="966.7,1371.4 984.8,1371.4 978.5,1364.4 960.8,1364.4" fill="#6c5434" stroke="#59452a" stroke-width="0.6" stroke-opacity="0.55"/>
<polygon points="960.8,1364.4 978.5,1364.4 969.6,1354.3 952.3,1354.3" fill="#775c39" stroke="#59452a" stroke-width="0.6" stroke-opacity="0.55"/>
<polygon points="952.3,1354.3 969.6,1354.3 962.2,1345.9 945.2,1345.9" fill="#6e5635" stroke="#59452a" stroke-width="0.6" stroke-opacity="0.55"/>
<polygon points="945.2,1345.9 962.2,1345.9 954.8,1337.7 938.3,1337.7" fill="#715837" stroke="#59452a" stroke-width="0.6" stroke-opacity="0.55"/>
<polygon points="938.3,1337.7 954.8,1337.7 950.9,1333.3 934.6,1333.3" fill="#917245" stroke="#59452a" stroke-width="0.6" stroke-opacity="0.55"/>
<polygon points="1002.2,1391 1021.3,1391 1018.9,1388.4 1000,1388.4" fill="#6c5434" stroke="#59452a" stroke-width="0.6" stroke-opacity="0.55"/>
<polygon points="1000,1388.4 1018.9,1388.4 1012.5,1381.7 994,1381.7" fill="#9a784a" stroke="#59452a" stroke-width="0.6" stroke-opacity="0.55"/>
<polygon points="994,1381.7 1012.5,1381.7 1005.3,1373.9 987,1373.9" fill="#896b41" stroke="#59452a" stroke-width="0.6" stroke-opacity="0.55"/>
<polygon points="987,1373.9 1005.3,1373.9 997.4,1365.5 979.6,1365.5" fill="#7c613c" stroke="#59452a" stroke-width="0.6" stroke-opacity="0.55"/>
<polygon points="979.6,1365.5 997.4,1365.5 990.9,1358.6 973.4,1358.6" fill="#7c613c" stroke="#59452a" stroke-width="0.6" stroke-opacity="0.55"/>
<polygon points="973.4,1358.6 990.9,1358.6 984.1,1351.3 966.9,1351.3" fill="#745a39" stroke="#59452a" stroke-width="0.6" stroke-opacity="0.55"/>
<polygon points="966.9,1351.3 984.1,1351.3 977.3,1344 960.4,1344" fill="#7c613c" stroke="#59452a" stroke-width="0.6" stroke-opacity="0.55"/>
<polygon points="960.4,1344 977.3,1344 970.7,1337 954.2,1337" fill="#7c613c" stroke="#59452a" stroke-width="0.6" stroke-opacity="0.55"/>
<polygon points="954.2,1337 970.7,1337 967.3,1333.3 950.9,1333.3" fill="#685131" stroke="#59452a" stroke-width="0.6" stroke-opacity="0.55"/>
<polygon points="1021.3,1391 1040.3,1391 1034.8,1385.4 1016,1385.4" fill="#9a784a" stroke="#59452a" stroke-width="0.6" stroke-opacity="0.55"/>
<polygon points="1016,1385.4 1034.8,1385.4 1025.4,1375.9 1007.1,1375.9" fill="#896b41" stroke="#59452a" stroke-width="0.6" stroke-opacity="0.55"/>
<polygon points="1007.1,1375.9 1025.4,1375.9 1018.5,1368.9 1000.6,1368.9" fill="#7c613c" stroke="#59452a" stroke-width="0.6" stroke-opacity="0.55"/>
<polygon points="1000.6,1368.9 1018.5,1368.9 1009.9,1360.1 992.4,1360.1" fill="#6c5434" stroke="#59452a" stroke-width="0.6" stroke-opacity="0.55"/>
<polygon points="992.4,1360.1 1009.9,1360.1 1003.9,1354 986.6,1354" fill="#917245" stroke="#59452a" stroke-width="0.6" stroke-opacity="0.55"/>
<polygon points="986.6,1354 1003.9,1354 998,1348 981,1348" fill="#82663e" stroke="#59452a" stroke-width="0.6" stroke-opacity="0.55"/>
<polygon points="981,1348 998,1348 988.2,1338.1 971.7,1338.1" fill="#7c613c" stroke="#59452a" stroke-width="0.6" stroke-opacity="0.55"/>
<polygon points="971.7,1338.1 988.2,1338.1 983.6,1333.3 967.3,1333.3" fill="#896b41" stroke="#59452a" stroke-width="0.6" stroke-opacity="0.55"/>
<polygon points="1040.3,1391 1059.3,1391 1053.2,1385.1 1034.4,1385.1" fill="#745a39" stroke="#59452a" stroke-width="0.6" stroke-opacity="0.55"/>
<polygon points="1034.4,1385.1 1053.2,1385.1 1042.5,1374.7 1024.3,1374.7" fill="#7c613c" stroke="#59452a" stroke-width="0.6" stroke-opacity="0.55"/>
<polygon points="1024.3,1374.7 1042.5,1374.7 1033.9,1366.4 1016.1,1366.4" fill="#6c5434" stroke="#59452a" stroke-width="0.6" stroke-opacity="0.55"/>
<polygon points="1016.1,1366.4 1033.9,1366.4 1027.3,1360 1009.8,1360" fill="#9a784a" stroke="#59452a" stroke-width="0.6" stroke-opacity="0.55"/>
<polygon points="1009.8,1360 1027.3,1360 1018.2,1351.1 1001,1351.1" fill="#775c39" stroke="#59452a" stroke-width="0.6" stroke-opacity="0.55"/>
<polygon points="1001,1351.1 1018.2,1351.1 1008.2,1341.4 991.5,1341.4" fill="#6c5434" stroke="#59452a" stroke-width="0.6" stroke-opacity="0.55"/>
<polygon points="991.5,1341.4 1008.2,1341.4 1001.3,1334.7 985,1334.7" fill="#6c5434" stroke="#59452a" stroke-width="0.6" stroke-opacity="0.55"/>
<polygon points="985,1334.7 1001.3,1334.7 999.9,1333.3 983.6,1333.3" fill="#745a39" stroke="#59452a" stroke-width="0.6" stroke-opacity="0.55"/>
<polygon points="1059.3,1391 1078.3,1391 1071.1,1384.3 1052.4,1384.3" fill="#917245" stroke="#59452a" stroke-width="0.6" stroke-opacity="0.55"/>
<polygon points="1052.4,1384.3 1071.1,1384.3 1061.2,1375.1 1042.9,1375.1" fill="#9a784a" stroke="#59452a" stroke-width="0.6" stroke-opacity="0.55"/>
<polygon points="1042.9,1375.1 1061.2,1375.1 1048.7,1363.5 1031,1363.5" fill="#745a39" stroke="#59452a" stroke-width="0.6" stroke-opacity="0.55"/>
<polygon points="1031,1363.5 1048.7,1363.5 1038.4,1354 1021.2,1354" fill="#745a39" stroke="#59452a" stroke-width="0.6" stroke-opacity="0.55"/>
<polygon points="1021.2,1354 1038.4,1354 1031.7,1347.7 1014.7,1347.7" fill="#917245" stroke="#59452a" stroke-width="0.6" stroke-opacity="0.55"/>
<polygon points="1014.7,1347.7 1031.7,1347.7 1024,1340.6 1007.3,1340.6" fill="#9a784a" stroke="#59452a" stroke-width="0.6" stroke-opacity="0.55"/>
<polygon points="1007.3,1340.6 1024,1340.6 1018.4,1335.4 1002,1335.4" fill="#745a39" stroke="#59452a" stroke-width="0.6" stroke-opacity="0.55"/>
<polygon points="1002,1335.4 1018.4,1335.4 1016.2,1333.3 999.9,1333.3" fill="#82663e" stroke="#59452a" stroke-width="0.6" stroke-opacity="0.55"/>
<polygon points="1078.3,1391 1097.3,1391 1089.9,1384.4 1071.2,1384.4" fill="#896b41" stroke="#59452a" stroke-width="0.6" stroke-opacity="0.55"/>
<polygon points="1071.2,1384.4 1089.9,1384.4 1078.5,1374.2 1060.2,1374.2" fill="#917245" stroke="#59452a" stroke-width="0.6" stroke-opacity="0.55"/>
<polygon points="1060.2,1374.2 1078.5,1374.2 1069.6,1366.3 1051.7,1366.3" fill="#6c5434" stroke="#59452a" stroke-width="0.6" stroke-opacity="0.55"/>
<polygon points="1051.7,1366.3 1069.6,1366.3 1061.3,1358.9 1043.7,1358.9" fill="#7c613c" stroke="#59452a" stroke-width="0.6" stroke-opacity="0.55"/>
<polygon points="1043.7,1358.9 1061.3,1358.9 1054.5,1352.9 1037.3,1352.9" fill="#715837" stroke="#59452a" stroke-width="0.6" stroke-opacity="0.55"/>
<polygon points="1037.3,1352.9 1054.5,1352.9 1044.4,1343.9 1027.6,1343.9" fill="#82663e" stroke="#59452a" stroke-width="0.6" stroke-opacity="0.55"/>
<polygon points="1027.6,1343.9 1044.4,1343.9 1033.5,1334.2 1017.1,1334.2" fill="#9a784a" stroke="#59452a" stroke-width="0.6" stroke-opacity="0.55"/>
<polygon points="1017.1,1334.2 1033.5,1334.2 1032.5,1333.3 1016.2,1333.3" fill="#7c613c" stroke="#59452a" stroke-width="0.6" stroke-opacity="0.55"/>
<polygon points="1097.3,1391 1116.3,1391 1112.3,1387.6 1093.5,1387.6" fill="#715837" stroke="#59452a" stroke-width="0.6" stroke-opacity="0.55"/>
<polygon points="1093.5,1387.6 1112.3,1387.6 1103,1379.6 1084.5,1379.6" fill="#745a39" stroke="#59452a" stroke-width="0.6" stroke-opacity="0.55"/>
<polygon points="1084.5,1379.6 1103,1379.6 1092.6,1370.7 1074.5,1370.7" fill="#6c5434" stroke="#59452a" stroke-width="0.6" stroke-opacity="0.55"/>
<polygon points="1074.5,1370.7 1092.6,1370.7 1081.1,1360.9 1063.4,1360.9" fill="#917245" stroke="#59452a" stroke-width="0.6" stroke-opacity="0.55"/>
<polygon points="1063.4,1360.9 1081.1,1360.9 1073.2,1354.2 1056,1354.2" fill="#685131" stroke="#59452a" stroke-width="0.6" stroke-opacity="0.55"/>
<polygon points="1056,1354.2 1073.2,1354.2 1063.5,1345.9 1046.6,1345.9" fill="#7c613c" stroke="#59452a" stroke-width="0.6" stroke-opacity="0.55"/>
<polygon points="1046.6,1345.9 1063.5,1345.9 1052,1336 1035.5,1336" fill="#9a784a" stroke="#59452a" stroke-width="0.6" stroke-opacity="0.55"/>
<polygon points="1035.5,1336 1052,1336 1048.8,1333.3 1032.5,1333.3" fill="#896b41" stroke="#59452a" stroke-width="0.6" stroke-opacity="0.55"/>
<polygon points="1116.3,1391 1135.4,1391 1122.9,1380.8 1104.4,1380.8" fill="#745a39" stroke="#59452a" stroke-width="0.6" stroke-opacity="0.55"/>
<polygon points="1104.4,1380.8 1122.9,1380.8 1110.2,1370.3 1092.1,1370.3" fill="#896b41" stroke="#59452a" stroke-width="0.6" stroke-opacity="0.55"/>
<polygon points="1092.1,1370.3 1110.2,1370.3 1101.1,1362.9 1083.4,1362.9" fill="#715837" stroke="#59452a" stroke-width="0.6" stroke-opacity="0.55"/>
<polygon points="1083.4,1362.9 1101.1,1362.9 1092.7,1356 1075.3,1356" fill="#82663e" stroke="#59452a" stroke-width="0.6" stroke-opacity="0.55"/>
<polygon points="1075.3,1356 1092.7,1356 1080.7,1346.1 1063.8,1346.1" fill="#9a784a" stroke="#59452a" stroke-width="0.6" stroke-opacity="0.55"/>
<polygon points="1063.8,1346.1 1080.7,1346.1 1073.9,1340.5 1057.2,1340.5" fill="#775c39" stroke="#59452a" stroke-width="0.6" stroke-opacity="0.55"/>
<polygon points="1057.2,1340.5 1073.9,1340.5 1067.2,1335 1050.8,1335" fill="#917245" stroke="#59452a" stroke-width="0.6" stroke-opacity="0.55"/>
<polygon points="1050.8,1335 1067.2,1335 1065.2,1333.3 1048.8,1333.3" fill="#7c613c" stroke="#59452a" stroke-width="0.6" stroke-opacity="0.55"/>
<polygon points="1135.4,1391 1154.4,1391 1147.8,1385.8 1129,1385.8" fill="#685131" stroke="#59452a" stroke-width="0.6" stroke-opacity="0.55"/>
<polygon points="1129,1385.8 1147.8,1385.8 1133.1,1374.2 1114.9,1374.2" fill="#745a39" stroke="#59452a" stroke-width="0.6" stroke-opacity="0.55"/>
<polygon points="1114.9,1374.2 1133.1,1374.2 1120,1363.8 1102.2,1363.8" fill="#917245" stroke="#59452a" stroke-width="0.6" stroke-opacity="0.55"/>
<polygon points="1102.2,1363.8 1120,1363.8 1111,1356.7 1093.6,1356.7" fill="#6e5635" stroke="#59452a" stroke-width="0.6" stroke-opacity="0.55"/>
<polygon points="1093.6,1356.7 1111,1356.7 1100.4,1348.3 1083.4,1348.3" fill="#7c613c" stroke="#59452a" stroke-width="0.6" stroke-opacity="0.55"/>
<polygon points="1083.4,1348.3 1100.4,1348.3 1091.7,1341.4 1075,1341.4" fill="#82663e" stroke="#59452a" stroke-width="0.6" stroke-opacity="0.55"/>
<polygon points="1075,1341.4 1091.7,1341.4 1084.7,1335.9 1068.3,1335.9" fill="#896b41" stroke="#59452a" stroke-width="0.6" stroke-opacity="0.55"/>
<polygon points="1068.3,1335.9 1084.7,1335.9 1081.5,1333.3 1065.2,1333.3" fill="#6c5434" stroke="#59452a" stroke-width="0.6" stroke-opacity="0.55"/>
<polygon points="1154.4,1391 1173.4,1391 1163.7,1383.6 1145.1,1383.6" fill="#745a39" stroke="#59452a" stroke-width="0.6" stroke-opacity="0.55"/>
<polygon points="1145.1,1383.6 1163.7,1383.6 1150.5,1373.5 1132.3,1373.5" fill="#775c39" stroke="#59452a" stroke-width="0.6" stroke-opacity="0.55"/>
<polygon points="1132.3,1373.5 1150.5,1373.5 1139.1,1364.9 1121.4,1364.9" fill="#896b41" stroke="#59452a" stroke-width="0.6" stroke-opacity="0.55"/>
<polygon points="1121.4,1364.9 1139.1,1364.9 1127.1,1355.7 1109.8,1355.7" fill="#685131" stroke="#59452a" stroke-width="0.6" stroke-opacity="0.55"/>
<polygon points="1109.8,1355.7 1127.1,1355.7 1114.4,1346 1097.5,1346" fill="#896b41" stroke="#59452a" stroke-width="0.6" stroke-opacity="0.55"/>
<polygon points="1097.5,1346 1114.4,1346 1102.6,1337 1086.1,1337" fill="#6c5434" stroke="#59452a" stroke-width="0.6" stroke-opacity="0.55"/>
<polygon points="1086.1,1337 1102.6,1337 1097.8,1333.3 1081.5,1333.3" fill="#775c39" stroke="#59452a" stroke-width="0.6" stroke-opacity="0.55"/>
<polygon points="1173.4,1391 1192.4,1391 1183.8,1384.7 1165.1,1384.7" fill="#896b41" stroke="#59452a" stroke-width="0.6" stroke-opacity="0.55"/>
<polygon points="1165.1,1384.7 1183.8,1384.7 1173.5,1377.1 1155.1,1377.1" fill="#6e5635" stroke="#59452a" stroke-width="0.6" stroke-opacity="0.55"/>
<polygon points="1155.1,1377.1 1173.5,1377.1 1159.9,1367 1142,1367" fill="#7c613c" stroke="#59452a" stroke-width="0.6" stroke-opacity="0.55"/>
<polygon points="1142,1367 1159.9,1367 1145,1356.1 1127.6,1356.1" fill="#9a784a" stroke="#59452a" stroke-width="0.6" stroke-opacity="0.55"/>
<polygon points="1127.6,1356.1 1145,1356.1 1131.4,1346 1114.4,1346" fill="#6e5635" stroke="#59452a" stroke-width="0.6" stroke-opacity="0.55"/>
<polygon points="1114.4,1346 1131.4,1346 1118.4,1336.5 1102,1336.5" fill="#6c5434" stroke="#59452a" stroke-width="0.6" stroke-opacity="0.55"/>
<polygon points="1102,1336.5 1118.4,1336.5 1114.1,1333.3 1097.8,1333.3" fill="#775c39" stroke="#59452a" stroke-width="0.6" stroke-opacity="0.55"/>
<polygon points="1192.4,1391 1211.4,1391 1200.3,1383.1 1181.7,1383.1" fill="#896b41" stroke="#59452a" stroke-width="0.6" stroke-opacity="0.55"/>
<polygon points="1181.7,1383.1 1200.3,1383.1 1186,1372.9 1167.8,1372.9" fill="#715837" stroke="#59452a" stroke-width="0.6" stroke-opacity="0.55"/>
<polygon points="1167.8,1372.9 1186,1372.9 1172.8,1363.5 1155,1363.5" fill="#6e5635" stroke="#59452a" stroke-width="0.6" stroke-opacity="0.55"/>
<polygon points="1155,1363.5 1172.8,1363.5 1158.9,1353.6 1141.6,1353.6" fill="#775c39" stroke="#59452a" stroke-width="0.6" stroke-opacity="0.55"/>
<polygon points="1141.6,1353.6 1158.9,1353.6 1145.9,1344.4 1129.1,1344.4" fill="#745a39" stroke="#59452a" stroke-width="0.6" stroke-opacity="0.55"/>
<polygon points="1129.1,1344.4 1145.9,1344.4 1131.8,1334.3 1115.5,1334.3" fill="#685131" stroke="#59452a" stroke-width="0.6" stroke-opacity="0.55"/>
<polygon points="1115.5,1334.3 1131.8,1334.3 1130.4,1333.3 1114.1,1333.3" fill="#715837" stroke="#59452a" stroke-width="0.6" stroke-opacity="0.55"/>
<polygon points="1211.4,1391 1230.4,1391 1217.3,1382 1198.7,1382" fill="#7c613c" stroke="#59452a" stroke-width="0.6" stroke-opacity="0.55"/>
<polygon points="1198.7,1382 1217.3,1382 1206.3,1374.4 1188.1,1374.4" fill="#896b41" stroke="#59452a" stroke-width="0.6" stroke-opacity="0.55"/>
<polygon points="1188.1,1374.4 1206.3,1374.4 1196,1367.2 1178.1,1367.2" fill="#685131" stroke="#59452a" stroke-width="0.6" stroke-opacity="0.55"/>
<polygon points="1178.1,1367.2 1196,1367.2 1179.3,1355.8 1161.9,1355.8" fill="#715837" stroke="#59452a" stroke-width="0.6" stroke-opacity="0.55"/>
<polygon points="1161.9,1355.8 1179.3,1355.8 1169.3,1348.9 1152.3,1348.9" fill="#745a39" stroke="#59452a" stroke-width="0.6" stroke-opacity="0.55"/>
<polygon points="1152.3,1348.9 1169.3,1348.9 1158.1,1341.2 1141.4,1341.2" fill="#6c5434" stroke="#59452a" stroke-width="0.6" stroke-opacity="0.55"/>
<polygon points="1141.4,1341.2 1158.1,1341.2 1149.8,1335.5 1133.4,1335.5" fill="#9a784a" stroke="#59452a" stroke-width="0.6" stroke-opacity="0.55"/>
<polygon points="1133.4,1335.5 1149.8,1335.5 1146.7,1333.3 1130.4,1333.3" fill="#775c39" stroke="#59452a" stroke-width="0.6" stroke-opacity="0.55"/>
<polygon points="1230.4,1391 1249.5,1391 1242.7,1386.5 1223.9,1386.5" fill="#896b41" stroke="#59452a" stroke-width="0.6" stroke-opacity="0.55"/>
<polygon points="1223.9,1386.5 1242.7,1386.5 1224.2,1374.1 1206,1374.1" fill="#715837" stroke="#59452a" stroke-width="0.6" stroke-opacity="0.55"/>
<polygon points="1206,1374.1 1224.2,1374.1 1210.7,1365.1 1192.9,1365.1" fill="#82663e" stroke="#59452a" stroke-width="0.6" stroke-opacity="0.55"/>
<polygon points="1192.9,1365.1 1210.7,1365.1 1201.9,1359.2 1184.3,1359.2" fill="#6e5635" stroke="#59452a" stroke-width="0.6" stroke-opacity="0.55"/>
<polygon points="1184.3,1359.2 1201.9,1359.2 1185.3,1348.2 1168.3,1348.2" fill="#7c613c" stroke="#59452a" stroke-width="0.6" stroke-opacity="0.55"/>
<polygon points="1168.3,1348.2 1185.3,1348.2 1170.2,1338.1 1153.7,1338.1" fill="#917245" stroke="#59452a" stroke-width="0.6" stroke-opacity="0.55"/>
<polygon points="1153.7,1338.1 1170.2,1338.1 1163.1,1333.3 1146.7,1333.3" fill="#6e5635" stroke="#59452a" stroke-width="0.6" stroke-opacity="0.55"/>
<polygon points="1249.5,1391 1268.5,1391 1258.3,1384.4 1239.6,1384.4" fill="#715837" stroke="#59452a" stroke-width="0.6" stroke-opacity="0.55"/>
<polygon points="1239.6,1384.4 1258.3,1384.4 1242.9,1374.4 1224.6,1374.4" fill="#82663e" stroke="#59452a" stroke-width="0.6" stroke-opacity="0.55"/>
<polygon points="1224.6,1374.4 1242.9,1374.4 1229.7,1365.9 1211.9,1365.9" fill="#715837" stroke="#59452a" stroke-width="0.6" stroke-opacity="0.55"/>
<polygon points="1211.9,1365.9 1229.7,1365.9 1216.1,1357.1 1198.7,1357.1" fill="#6c5434" stroke="#59452a" stroke-width="0.6" stroke-opacity="0.55"/>
<polygon points="1198.7,1357.1 1216.1,1357.1 1205.7,1350.4 1188.6,1350.4" fill="#7c613c" stroke="#59452a" stroke-width="0.6" stroke-opacity="0.55"/>
<polygon points="1188.6,1350.4 1205.7,1350.4 1195.2,1343.6 1178.4,1343.6" fill="#715837" stroke="#59452a" stroke-width="0.6" stroke-opacity="0.55"/>
<polygon points="1178.4,1343.6 1195.2,1343.6 1186.1,1337.7 1169.6,1337.7" fill="#715837" stroke="#59452a" stroke-width="0.6" stroke-opacity="0.55"/>
<polygon points="1169.6,1337.7 1186.1,1337.7 1179.4,1333.3 1163.1,1333.3" fill="#917245" stroke="#59452a" stroke-width="0.6" stroke-opacity="0.55"/>
<polygon points="1268.5,1391 1287.5,1391 1283.7,1388.6 1264.8,1388.6" fill="#917245" stroke="#59452a" stroke-width="0.6" stroke-opacity="0.55"/>
<polygon points="1264.8,1388.6 1283.7,1388.6 1264.6,1376.6 1246.3,1376.6" fill="#7c613c" stroke="#59452a" stroke-width="0.6" stroke-opacity="0.55"/>
<polygon points="1246.3,1376.6 1264.6,1376.6 1254,1369.9 1235.9,1369.9" fill="#896b41" stroke="#59452a" stroke-width="0.6" stroke-opacity="0.55"/>
<polygon points="1235.9,1369.9 1254,1369.9 1243.3,1363.2 1225.6,1363.2" fill="#715837" stroke="#59452a" stroke-width="0.6" stroke-opacity="0.55"/>
<polygon points="1225.6,1363.2 1243.3,1363.2 1234.1,1357.5 1216.6,1357.5" fill="#775c39" stroke="#59452a" stroke-width="0.6" stroke-opacity="0.55"/>
<polygon points="1216.6,1357.5 1234.1,1357.5 1222.1,1349.9 1205,1349.9" fill="#6c5434" stroke="#59452a" stroke-width="0.6" stroke-opacity="0.55"/>
<polygon points="1205,1349.9 1222.1,1349.9 1213.4,1344.5 1196.5,1344.5" fill="#745a39" stroke="#59452a" stroke-width="0.6" stroke-opacity="0.55"/>
<polygon points="1196.5,1344.5 1213.4,1344.5 1201.4,1336.9 1184.9,1336.9" fill="#917245" stroke="#59452a" stroke-width="0.6" stroke-opacity="0.55"/>
<polygon points="1184.9,1336.9 1201.4,1336.9 1195.7,1333.3 1179.4,1333.3" fill="#715837" stroke="#59452a" stroke-width="0.6" stroke-opacity="0.55"/>
<line x1="184.5" y1="1391" x2="249.3" y2="1333.2" stroke="#4e3c23" stroke-width="1" stroke-opacity="0.6"/>
<line x1="203.5" y1="1391" x2="265.6" y2="1333.2" stroke="#4e3c23" stroke-width="1" stroke-opacity="0.6"/>
<line x1="222.5" y1="1391" x2="282" y2="1333.2" stroke="#4e3c23" stroke-width="1" stroke-opacity="0.6"/>
<line x1="241.6" y1="1391" x2="298.3" y2="1333.2" stroke="#4e3c23" stroke-width="1" stroke-opacity="0.6"/>
<line x1="260.6" y1="1391" x2="314.6" y2="1333.2" stroke="#4e3c23" stroke-width="1" stroke-opacity="0.6"/>
<line x1="279.6" y1="1391" x2="330.9" y2="1333.2" stroke="#4e3c23" stroke-width="1" stroke-opacity="0.6"/>
<line x1="298.6" y1="1391" x2="347.2" y2="1333.2" stroke="#4e3c23" stroke-width="1" stroke-opacity="0.6"/>
<line x1="317.6" y1="1391" x2="363.5" y2="1333.2" stroke="#4e3c23" stroke-width="1" stroke-opacity="0.6"/>
<line x1="336.6" y1="1391" x2="379.9" y2="1333.2" stroke="#4e3c23" stroke-width="1" stroke-opacity="0.6"/>
<line x1="355.7" y1="1391" x2="396.2" y2="1333.2" stroke="#4e3c23" stroke-width="1" stroke-opacity="0.6"/>
<line x1="374.7" y1="1391" x2="412.5" y2="1333.2" stroke="#4e3c23" stroke-width="1" stroke-opacity="0.6"/>
<line x1="393.7" y1="1391" x2="428.8" y2="1333.2" stroke="#4e3c23" stroke-width="1" stroke-opacity="0.6"/>
<line x1="412.7" y1="1391" x2="445.1" y2="1333.2" stroke="#4e3c23" stroke-width="1" stroke-opacity="0.6"/>
<line x1="431.7" y1="1391" x2="461.4" y2="1333.2" stroke="#4e3c23" stroke-width="1" stroke-opacity="0.6"/>
<line x1="450.7" y1="1391" x2="477.8" y2="1333.2" stroke="#4e3c23" stroke-width="1" stroke-opacity="0.6"/>
<line x1="469.8" y1="1391" x2="494.1" y2="1333.2" stroke="#4e3c23" stroke-width="1" stroke-opacity="0.6"/>
<line x1="488.8" y1="1391" x2="510.4" y2="1333.2" stroke="#4e3c23" stroke-width="1" stroke-opacity="0.6"/>
<line x1="507.8" y1="1391" x2="526.7" y2="1333.2" stroke="#4e3c23" stroke-width="1" stroke-opacity="0.6"/>
<line x1="526.8" y1="1391" x2="543" y2="1333.2" stroke="#4e3c23" stroke-width="1" stroke-opacity="0.6"/>
<line x1="545.8" y1="1391" x2="559.3" y2="1333.2" stroke="#4e3c23" stroke-width="1" stroke-opacity="0.6"/>
<line x1="564.8" y1="1391" x2="575.7" y2="1333.2" stroke="#4e3c23" stroke-width="1" stroke-opacity="0.6"/>
<line x1="583.9" y1="1391" x2="592" y2="1333.2" stroke="#4e3c23" stroke-width="1" stroke-opacity="0.6"/>
<line x1="602.9" y1="1391" x2="608.3" y2="1333.2" stroke="#4e3c23" stroke-width="1" stroke-opacity="0.6"/>
<line x1="621.9" y1="1391" x2="624.6" y2="1333.2" stroke="#4e3c23" stroke-width="1" stroke-opacity="0.6"/>
<line x1="640.9" y1="1391" x2="640.9" y2="1333.2" stroke="#4e3c23" stroke-width="1" stroke-opacity="0.6"/>
<line x1="659.9" y1="1391" x2="657.2" y2="1333.2" stroke="#4e3c23" stroke-width="1" stroke-opacity="0.6"/>
<line x1="678.9" y1="1391" x2="673.6" y2="1333.2" stroke="#4e3c23" stroke-width="1" stroke-opacity="0.6"/>
<line x1="698" y1="1391" x2="689.9" y2="1333.2" stroke="#4e3c23" stroke-width="1" stroke-opacity="0.6"/>
<line x1="717" y1="1391" x2="706.2" y2="1333.2" stroke="#4e3c23" stroke-width="1" stroke-opacity="0.6"/>
<line x1="736" y1="1391" x2="722.5" y2="1333.2" stroke="#4e3c23" stroke-width="1" stroke-opacity="0.6"/>
<line x1="755" y1="1391" x2="738.8" y2="1333.2" stroke="#4e3c23" stroke-width="1" stroke-opacity="0.6"/>
<line x1="774" y1="1391" x2="755.1" y2="1333.2" stroke="#4e3c23" stroke-width="1" stroke-opacity="0.6"/>
<line x1="793.1" y1="1391" x2="771.5" y2="1333.2" stroke="#4e3c23" stroke-width="1" stroke-opacity="0.6"/>
<line x1="812.1" y1="1391" x2="787.8" y2="1333.2" stroke="#4e3c23" stroke-width="1" stroke-opacity="0.6"/>
<line x1="831.1" y1="1391" x2="804.1" y2="1333.2" stroke="#4e3c23" stroke-width="1" stroke-opacity="0.6"/>
<line x1="850.1" y1="1391" x2="820.4" y2="1333.2" stroke="#4e3c23" stroke-width="1" stroke-opacity="0.6"/>
<line x1="869.1" y1="1391" x2="836.7" y2="1333.2" stroke="#4e3c23" stroke-width="1" stroke-opacity="0.6"/>
<line x1="888.1" y1="1391" x2="853" y2="1333.2" stroke="#4e3c23" stroke-width="1" stroke-opacity="0.6"/>
<line x1="907.2" y1="1391" x2="869.4" y2="1333.2" stroke="#4e3c23" stroke-width="1" stroke-opacity="0.6"/>
<line x1="926.2" y1="1391" x2="885.7" y2="1333.2" stroke="#4e3c23" stroke-width="1" stroke-opacity="0.6"/>
<line x1="945.2" y1="1391" x2="902" y2="1333.2" stroke="#4e3c23" stroke-width="1" stroke-opacity="0.6"/>
<line x1="964.2" y1="1391" x2="918.3" y2="1333.2" stroke="#4e3c23" stroke-width="1" stroke-opacity="0.6"/>
<line x1="983.2" y1="1391" x2="934.6" y2="1333.2" stroke="#4e3c23" stroke-width="1" stroke-opacity="0.6"/>
<line x1="1002.2" y1="1391" x2="950.9" y2="1333.2" stroke="#4e3c23" stroke-width="1" stroke-opacity="0.6"/>
<line x1="1021.3" y1="1391" x2="967.3" y2="1333.2" stroke="#4e3c23" stroke-width="1" stroke-opacity="0.6"/>
<line x1="1040.3" y1="1391" x2="983.6" y2="1333.2" stroke="#4e3c23" stroke-width="1" stroke-opacity="0.6"/>
<line x1="1059.3" y1="1391" x2="999.9" y2="1333.2" stroke="#4e3c23" stroke-width="1" stroke-opacity="0.6"/>
<line x1="1078.3" y1="1391" x2="1016.2" y2="1333.2" stroke="#4e3c23" stroke-width="1" stroke-opacity="0.6"/>
<line x1="1097.3" y1="1391" x2="1032.5" y2="1333.2" stroke="#4e3c23" stroke-width="1" stroke-opacity="0.6"/>
<line x1="1116.3" y1="1391" x2="1048.8" y2="1333.2" stroke="#4e3c23" stroke-width="1" stroke-opacity="0.6"/>
<line x1="1135.4" y1="1391" x2="1065.2" y2="1333.2" stroke="#4e3c23" stroke-width="1" stroke-opacity="0.6"/>
<line x1="1154.4" y1="1391" x2="1081.5" y2="1333.2" stroke="#4e3c23" stroke-width="1" stroke-opacity="0.6"/>
<line x1="1173.4" y1="1391" x2="1097.8" y2="1333.2" stroke="#4e3c23" stroke-width="1" stroke-opacity="0.6"/>
<line x1="1192.4" y1="1391" x2="1114.1" y2="1333.2" stroke="#4e3c23" stroke-width="1" stroke-opacity="0.6"/>
<line x1="1211.4" y1="1391" x2="1130.4" y2="1333.2" stroke="#4e3c23" stroke-width="1" stroke-opacity="0.6"/>
<line x1="1230.4" y1="1391" x2="1146.7" y2="1333.2" stroke="#4e3c23" stroke-width="1" stroke-opacity="0.6"/>
<line x1="1249.5" y1="1391" x2="1163.1" y2="1333.2" stroke="#4e3c23" stroke-width="1" stroke-opacity="0.6"/>
<line x1="1268.5" y1="1391" x2="1179.4" y2="1333.2" stroke="#4e3c23" stroke-width="1" stroke-opacity="0.6"/>
<line x1="1287.5" y1="1391" x2="1195.7" y2="1333.2" stroke="#4e3c23" stroke-width="1" stroke-opacity="0.6"/>
<polygon points="184.5,1391 250.5,1333.2 1195,1333.2 1287.5,1391" fill="url(#gParqSh)"/>
</g>
<!-- sauna room -->
<g filter="url(#grainV)">
<rect x="249.5" y="1437" width="946.5" height="353.5" fill="#dcb08a"/>
<rect x="250.5" y="1437" width="9.9" height="4.4" fill="#e0b792"/>
<rect x="250.5" y="1441.4" width="9.9" height="63.6" fill="#e6bf9c"/>
<rect x="250.5" y="1505" width="9.9" height="63.6" fill="#d8ab85"/>
<rect x="250.5" y="1568.6" width="9.9" height="63.6" fill="#cf9f77"/>
<rect x="250.5" y="1632.2" width="9.9" height="63.6" fill="#dfb48e"/>
<rect x="250.5" y="1695.8" width="9.9" height="63.6" fill="#e6bf9c"/>
<rect x="250.5" y="1759.4" width="9.9" height="30.1" fill="#dbaf89"/>
<rect x="260.4" y="1437" width="12.9" height="4.4" fill="#dbaf89"/>
<rect x="260.4" y="1441.4" width="12.9" height="63.6" fill="#d6a982"/>
<rect x="260.4" y="1505" width="12.9" height="63.6" fill="#dcb08a"/>
<rect x="260.4" y="1568.6" width="12.9" height="63.6" fill="#e0b792"/>
<rect x="260.4" y="1632.2" width="12.9" height="63.6" fill="#dfb48e"/>
<rect x="260.4" y="1695.8" width="12.9" height="63.6" fill="#d6a982"/>
<rect x="260.4" y="1759.4" width="12.9" height="30.1" fill="#d8ab85"/>
<rect x="273.2" y="1437" width="12.9" height="36.2" fill="#e6bf9c"/>
<rect x="273.2" y="1473.2" width="12.9" height="63.6" fill="#d8ab85"/>
<rect x="273.2" y="1536.8" width="12.9" height="63.6" fill="#e6bf9c"/>
<rect x="273.2" y="1600.4" width="12.9" height="63.6" fill="#dcb08a"/>
<rect x="273.2" y="1664" width="12.9" height="63.6" fill="#dfb48e"/>
<rect x="273.2" y="1727.6" width="12.9" height="61.9" fill="#d6a982"/>
<rect x="286.1" y="1437" width="12.9" height="4.4" fill="#e3ba96"/>
<rect x="286.1" y="1441.4" width="12.9" height="63.6" fill="#e0b792"/>
<rect x="286.1" y="1505" width="12.9" height="63.6" fill="#e6bf9c"/>
<rect x="286.1" y="1568.6" width="12.9" height="63.6" fill="#cf9f77"/>
<rect x="286.1" y="1632.2" width="12.9" height="63.6" fill="#e3ba96"/>
<rect x="286.1" y="1695.8" width="12.9" height="63.6" fill="#dfb48e"/>
<rect x="286.1" y="1759.4" width="12.9" height="30.1" fill="#dfb48e"/>
<rect x="298.9" y="1437" width="12.9" height="4.4" fill="#e0b792"/>
<rect x="298.9" y="1441.4" width="12.9" height="63.6" fill="#dcb08a"/>
<rect x="298.9" y="1505" width="12.9" height="63.6" fill="#e3ba96"/>
<rect x="298.9" y="1568.6" width="12.9" height="63.6" fill="#cf9f77"/>
<rect x="298.9" y="1632.2" width="12.9" height="63.6" fill="#dbaf89"/>
<rect x="298.9" y="1695.8" width="12.9" height="63.6" fill="#e3ba96"/>
<rect x="298.9" y="1759.4" width="12.9" height="30.1" fill="#cf9f77"/>
<rect x="311.8" y="1437" width="12.9" height="36.2" fill="#e0b792"/>
<rect x="311.8" y="1473.2" width="12.9" height="63.6" fill="#e6bf9c"/>
<rect x="311.8" y="1536.8" width="12.9" height="63.6" fill="#d6a982"/>
<rect x="311.8" y="1600.4" width="12.9" height="63.6" fill="#e0b792"/>
<rect x="311.8" y="1664" width="12.9" height="63.6" fill="#d8ab85"/>
<rect x="311.8" y="1727.6" width="12.9" height="61.9" fill="#dfb48e"/>
<rect x="324.6" y="1437" width="12.9" height="4.4" fill="#e0b792"/>
<rect x="324.6" y="1441.4" width="12.9" height="63.6" fill="#e3ba96"/>
<rect x="324.6" y="1505" width="12.9" height="63.6" fill="#cf9f77"/>
<rect x="324.6" y="1568.6" width="12.9" height="63.6" fill="#d6a982"/>
<rect x="324.6" y="1632.2" width="12.9" height="63.6" fill="#cf9f77"/>
<rect x="324.6" y="1695.8" width="12.9" height="63.6" fill="#d6a982"/>
<rect x="324.6" y="1759.4" width="12.9" height="30.1" fill="#dbaf89"/>
<rect x="337.4" y="1437" width="12.9" height="4.4" fill="#cf9f77"/>
<rect x="337.4" y="1441.4" width="12.9" height="63.6" fill="#e0b792"/>
<rect x="337.4" y="1505" width="12.9" height="63.6" fill="#dfb48e"/>
<rect x="337.4" y="1568.6" width="12.9" height="63.6" fill="#e3ba96"/>
<rect x="337.4" y="1632.2" width="12.9" height="63.6" fill="#dcb08a"/>
<rect x="337.4" y="1695.8" width="12.9" height="63.6" fill="#d3a57e"/>
<rect x="337.4" y="1759.4" width="12.9" height="30.1" fill="#e6bf9c"/>
<rect x="350.3" y="1437" width="12.9" height="36.2" fill="#cf9f77"/>
<rect x="350.3" y="1473.2" width="12.9" height="63.6" fill="#d3a57e"/>
<rect x="350.3" y="1536.8" width="12.9" height="63.6" fill="#e3ba96"/>
<rect x="350.3" y="1600.4" width="12.9" height="63.6" fill="#d3a57e"/>
<rect x="350.3" y="1664" width="12.9" height="63.6" fill="#dcb08a"/>
<rect x="350.3" y="1727.6" width="12.9" height="61.9" fill="#e6bf9c"/>
<rect x="363.1" y="1437" width="12.9" height="4.4" fill="#e0b792"/>
<rect x="363.1" y="1441.4" width="12.9" height="63.6" fill="#d6a982"/>
<rect x="363.1" y="1505" width="12.9" height="63.6" fill="#e0b792"/>
<rect x="363.1" y="1568.6" width="12.9" height="63.6" fill="#d8ab85"/>
<rect x="363.1" y="1632.2" width="12.9" height="63.6" fill="#dfb48e"/>
<rect x="363.1" y="1695.8" width="12.9" height="63.6" fill="#cf9f77"/>
<rect x="363.1" y="1759.4" width="12.9" height="30.1" fill="#cf9f77"/>
<rect x="376" y="1437" width="12.9" height="4.4" fill="#dfb48e"/>
<rect x="376" y="1441.4" width="12.9" height="63.6" fill="#dcb08a"/>
<rect x="376" y="1505" width="12.9" height="63.6" fill="#cf9f77"/>
<rect x="376" y="1568.6" width="12.9" height="63.6" fill="#dfb48e"/>
<rect x="376" y="1632.2" width="12.9" height="63.6" fill="#cf9f77"/>
<rect x="376" y="1695.8" width="12.9" height="63.6" fill="#dcb08a"/>
<rect x="376" y="1759.4" width="12.9" height="30.1" fill="#d6a982"/>
<rect x="388.9" y="1437" width="12.9" height="4.4" fill="#e0b792"/>
<rect x="388.9" y="1441.4" width="12.9" height="63.6" fill="#dcb08a"/>
<rect x="388.9" y="1505" width="12.9" height="63.6" fill="#d8ab85"/>
<rect x="388.9" y="1568.6" width="12.9" height="63.6" fill="#e3ba96"/>
<rect x="388.9" y="1632.2" width="12.9" height="63.6" fill="#d3a57e"/>
<rect x="388.9" y="1695.8" width="12.9" height="63.6" fill="#dfb48e"/>
<rect x="388.9" y="1759.4" width="12.9" height="30.1" fill="#cf9f77"/>
<rect x="401.7" y="1437" width="12.9" height="4.4" fill="#e6bf9c"/>
<rect x="401.7" y="1441.4" width="12.9" height="63.6" fill="#d6a982"/>
<rect x="401.7" y="1505" width="12.9" height="63.6" fill="#dfb48e"/>
<rect x="401.7" y="1568.6" width="12.9" height="63.6" fill="#e0b792"/>
<rect x="401.7" y="1632.2" width="12.9" height="63.6" fill="#dbaf89"/>
<rect x="401.7" y="1695.8" width="12.9" height="63.6" fill="#e6bf9c"/>
<rect x="401.7" y="1759.4" width="12.9" height="30.1" fill="#dcb08a"/>
<rect x="414.5" y="1437" width="12.9" height="4.4" fill="#dbaf89"/>
<rect x="414.5" y="1441.4" width="12.9" height="63.6" fill="#dbaf89"/>
<rect x="414.5" y="1505" width="12.9" height="63.6" fill="#dbaf89"/>
<rect x="414.5" y="1568.6" width="12.9" height="63.6" fill="#dcb08a"/>
<rect x="414.5" y="1632.2" width="12.9" height="63.6" fill="#d8ab85"/>
<rect x="414.5" y="1695.8" width="12.9" height="63.6" fill="#dbaf89"/>
<rect x="414.5" y="1759.4" width="12.9" height="30.1" fill="#e0b792"/>
<rect x="427.4" y="1437" width="12.9" height="4.4" fill="#dcb08a"/>
<rect x="427.4" y="1441.4" width="12.9" height="63.6" fill="#dcb08a"/>
<rect x="427.4" y="1505" width="12.9" height="63.6" fill="#d6a982"/>
<rect x="427.4" y="1568.6" width="12.9" height="63.6" fill="#dfb48e"/>
<rect x="427.4" y="1632.2" width="12.9" height="63.6" fill="#d3a57e"/>
<rect x="427.4" y="1695.8" width="12.9" height="63.6" fill="#e6bf9c"/>
<rect x="427.4" y="1759.4" width="12.9" height="30.1" fill="#d8ab85"/>
<rect x="440.2" y="1437" width="12.9" height="4.4" fill="#dfb48e"/>
<rect x="440.2" y="1441.4" width="12.9" height="63.6" fill="#e0b792"/>
<rect x="440.2" y="1505" width="12.9" height="63.6" fill="#dfb48e"/>
<rect x="440.2" y="1568.6" width="12.9" height="63.6" fill="#dcb08a"/>
<rect x="440.2" y="1632.2" width="12.9" height="63.6" fill="#d6a982"/>
<rect x="440.2" y="1695.8" width="12.9" height="63.6" fill="#e3ba96"/>
<rect x="440.2" y="1759.4" width="12.9" height="30.1" fill="#e6bf9c"/>
<rect x="453.1" y="1437" width="12.9" height="36.2" fill="#e0b792"/>
<rect x="453.1" y="1473.2" width="12.9" height="63.6" fill="#d8ab85"/>
<rect x="453.1" y="1536.8" width="12.9" height="63.6" fill="#dfb48e"/>
<rect x="453.1" y="1600.4" width="12.9" height="63.6" fill="#e6bf9c"/>
<rect x="453.1" y="1664" width="12.9" height="63.6" fill="#d3a57e"/>
<rect x="453.1" y="1727.6" width="12.9" height="61.9" fill="#e3ba96"/>
<rect x="465.9" y="1437" width="12.9" height="4.4" fill="#e0b792"/>
<rect x="465.9" y="1441.4" width="12.9" height="63.6" fill="#e0b792"/>
<rect x="465.9" y="1505" width="12.9" height="63.6" fill="#dbaf89"/>
<rect x="465.9" y="1568.6" width="12.9" height="63.6" fill="#dbaf89"/>
<rect x="465.9" y="1632.2" width="12.9" height="63.6" fill="#e6bf9c"/>
<rect x="465.9" y="1695.8" width="12.9" height="63.6" fill="#d3a57e"/>
<rect x="465.9" y="1759.4" width="12.9" height="30.1" fill="#dbaf89"/>
<rect x="478.8" y="1437" width="12.9" height="36.2" fill="#d8ab85"/>
<rect x="478.8" y="1473.2" width="12.9" height="63.6" fill="#dbaf89"/>
<rect x="478.8" y="1536.8" width="12.9" height="63.6" fill="#d3a57e"/>
<rect x="478.8" y="1600.4" width="12.9" height="63.6" fill="#d6a982"/>
<rect x="478.8" y="1664" width="12.9" height="63.6" fill="#dfb48e"/>
<rect x="478.8" y="1727.6" width="12.9" height="61.9" fill="#d3a57e"/>
<rect x="491.6" y="1437" width="12.9" height="4.4" fill="#e0b792"/>
<rect x="491.6" y="1441.4" width="12.9" height="63.6" fill="#dbaf89"/>
<rect x="491.6" y="1505" width="12.9" height="63.6" fill="#dcb08a"/>
<rect x="491.6" y="1568.6" width="12.9" height="63.6" fill="#d3a57e"/>
<rect x="491.6" y="1632.2" width="12.9" height="63.6" fill="#e0b792"/>
<rect x="491.6" y="1695.8" width="12.9" height="63.6" fill="#d3a57e"/>
<rect x="491.6" y="1759.4" width="12.9" height="30.1" fill="#dfb48e"/>
<rect x="504.5" y="1437" width="12.9" height="4.4" fill="#dfb48e"/>
<rect x="504.5" y="1441.4" width="12.9" height="63.6" fill="#d8ab85"/>
<rect x="504.5" y="1505" width="12.9" height="63.6" fill="#e0b792"/>
<rect x="504.5" y="1568.6" width="12.9" height="63.6" fill="#d3a57e"/>
<rect x="504.5" y="1632.2" width="12.9" height="63.6" fill="#cf9f77"/>
<rect x="504.5" y="1695.8" width="12.9" height="63.6" fill="#d8ab85"/>
<rect x="504.5" y="1759.4" width="12.9" height="30.1" fill="#dcb08a"/>
<rect x="517.3" y="1437" width="12.9" height="4.4" fill="#dbaf89"/>
<rect x="517.3" y="1441.4" width="12.9" height="63.6" fill="#dfb48e"/>
<rect x="517.3" y="1505" width="12.9" height="63.6" fill="#e0b792"/>
<rect x="517.3" y="1568.6" width="12.9" height="63.6" fill="#d6a982"/>
<rect x="517.3" y="1632.2" width="12.9" height="63.6" fill="#d6a982"/>
<rect x="517.3" y="1695.8" width="12.9" height="63.6" fill="#d3a57e"/>
<rect x="517.3" y="1759.4" width="12.9" height="30.1" fill="#dfb48e"/>
<rect x="530.2" y="1437" width="12.9" height="4.4" fill="#d6a982"/>
<rect x="530.2" y="1441.4" width="12.9" height="63.6" fill="#e3ba96"/>
<rect x="530.2" y="1505" width="12.9" height="63.6" fill="#cf9f77"/>
<rect x="530.2" y="1568.6" width="12.9" height="63.6" fill="#dcb08a"/>
<rect x="530.2" y="1632.2" width="12.9" height="63.6" fill="#d6a982"/>
<rect x="530.2" y="1695.8" width="12.9" height="63.6" fill="#e0b792"/>
<rect x="530.2" y="1759.4" width="12.9" height="30.1" fill="#e6bf9c"/>
<rect x="543" y="1437" width="12.9" height="36.2" fill="#cf9f77"/>
<rect x="543" y="1473.2" width="12.9" height="63.6" fill="#d6a982"/>
<rect x="543" y="1536.8" width="12.9" height="63.6" fill="#d8ab85"/>
<rect x="543" y="1600.4" width="12.9" height="63.6" fill="#dfb48e"/>
<rect x="543" y="1664" width="12.9" height="63.6" fill="#d8ab85"/>
<rect x="543" y="1727.6" width="12.9" height="61.9" fill="#dfb48e"/>
<rect x="555.9" y="1437" width="12.9" height="4.4" fill="#e3ba96"/>
<rect x="555.9" y="1441.4" width="12.9" height="63.6" fill="#cf9f77"/>
<rect x="555.9" y="1505" width="12.9" height="63.6" fill="#e0b792"/>
<rect x="555.9" y="1568.6" width="12.9" height="63.6" fill="#dcb08a"/>
<rect x="555.9" y="1632.2" width="12.9" height="63.6" fill="#cf9f77"/>
<rect x="555.9" y="1695.8" width="12.9" height="63.6" fill="#e3ba96"/>
<rect x="555.9" y="1759.4" width="12.9" height="30.1" fill="#e6bf9c"/>
<rect x="568.8" y="1437" width="12.9" height="4.4" fill="#d3a57e"/>
<rect x="568.8" y="1441.4" width="12.9" height="63.6" fill="#e0b792"/>
<rect x="568.8" y="1505" width="12.9" height="63.6" fill="#dbaf89"/>
<rect x="568.8" y="1568.6" width="12.9" height="63.6" fill="#d6a982"/>
<rect x="568.8" y="1632.2" width="12.9" height="63.6" fill="#d6a982"/>
<rect x="568.8" y="1695.8" width="12.9" height="63.6" fill="#e3ba96"/>
<rect x="568.8" y="1759.4" width="12.9" height="30.1" fill="#dcb08a"/>
<rect x="581.6" y="1437" width="12.9" height="4.4" fill="#cf9f77"/>
<rect x="581.6" y="1441.4" width="12.9" height="63.6" fill="#d6a982"/>
<rect x="581.6" y="1505" width="12.9" height="63.6" fill="#dcb08a"/>
<rect x="581.6" y="1568.6" width="12.9" height="63.6" fill="#e3ba96"/>
<rect x="581.6" y="1632.2" width="12.9" height="63.6" fill="#cf9f77"/>
<rect x="581.6" y="1695.8" width="12.9" height="63.6" fill="#e6bf9c"/>
<rect x="581.6" y="1759.4" width="12.9" height="30.1" fill="#e6bf9c"/>
<rect x="594.5" y="1437" width="12.9" height="4.4" fill="#e6bf9c"/>
<rect x="594.5" y="1441.4" width="12.9" height="63.6" fill="#d8ab85"/>
<rect x="594.5" y="1505" width="12.9" height="63.6" fill="#e3ba96"/>
<rect x="594.5" y="1568.6" width="12.9" height="63.6" fill="#d3a57e"/>
<rect x="594.5" y="1632.2" width="12.9" height="63.6" fill="#d3a57e"/>
<rect x="594.5" y="1695.8" width="12.9" height="63.6" fill="#d8ab85"/>
<rect x="594.5" y="1759.4" width="12.9" height="30.1" fill="#cf9f77"/>
<rect x="607.3" y="1437" width="12.9" height="4.4" fill="#dfb48e"/>
<rect x="607.3" y="1441.4" width="12.9" height="63.6" fill="#dcb08a"/>
<rect x="607.3" y="1505" width="12.9" height="63.6" fill="#dbaf89"/>
<rect x="607.3" y="1568.6" width="12.9" height="63.6" fill="#d6a982"/>
<rect x="607.3" y="1632.2" width="12.9" height="63.6" fill="#dbaf89"/>
<rect x="607.3" y="1695.8" width="12.9" height="63.6" fill="#dbaf89"/>
<rect x="607.3" y="1759.4" width="12.9" height="30.1" fill="#d8ab85"/>
<rect x="620.1" y="1437" width="12.9" height="4.4" fill="#d6a982"/>
<rect x="620.1" y="1441.4" width="12.9" height="63.6" fill="#e6bf9c"/>
<rect x="620.1" y="1505" width="12.9" height="63.6" fill="#dbaf89"/>
<rect x="620.1" y="1568.6" width="12.9" height="63.6" fill="#dcb08a"/>
<rect x="620.1" y="1632.2" width="12.9" height="63.6" fill="#e6bf9c"/>
<rect x="620.1" y="1695.8" width="12.9" height="63.6" fill="#e3ba96"/>
<rect x="620.1" y="1759.4" width="12.9" height="30.1" fill="#dcb08a"/>
<rect x="633" y="1437" width="12.9" height="4.4" fill="#e6bf9c"/>
<rect x="633" y="1441.4" width="12.9" height="63.6" fill="#e6bf9c"/>
<rect x="633" y="1505" width="12.9" height="63.6" fill="#d3a57e"/>
<rect x="633" y="1568.6" width="12.9" height="63.6" fill="#dcb08a"/>
<rect x="633" y="1632.2" width="12.9" height="63.6" fill="#cf9f77"/>
<rect x="633" y="1695.8" width="12.9" height="63.6" fill="#d3a57e"/>
<rect x="633" y="1759.4" width="12.9" height="30.1" fill="#dcb08a"/>
<rect x="645.8" y="1437" width="12.9" height="4.4" fill="#d8ab85"/>
<rect x="645.8" y="1441.4" width="12.9" height="63.6" fill="#e0b792"/>
<rect x="645.8" y="1505" width="12.9" height="63.6" fill="#e6bf9c"/>
<rect x="645.8" y="1568.6" width="12.9" height="63.6" fill="#d8ab85"/>
<rect x="645.8" y="1632.2" width="12.9" height="63.6" fill="#e0b792"/>
<rect x="645.8" y="1695.8" width="12.9" height="63.6" fill="#dbaf89"/>
<rect x="645.8" y="1759.4" width="12.9" height="30.1" fill="#cf9f77"/>
<rect x="658.7" y="1437" width="12.9" height="4.4" fill="#dcb08a"/>
<rect x="658.7" y="1441.4" width="12.9" height="63.6" fill="#dbaf89"/>
<rect x="658.7" y="1505" width="12.9" height="63.6" fill="#dbaf89"/>
<rect x="658.7" y="1568.6" width="12.9" height="63.6" fill="#dfb48e"/>
<rect x="658.7" y="1632.2" width="12.9" height="63.6" fill="#dcb08a"/>
<rect x="658.7" y="1695.8" width="12.9" height="63.6" fill="#cf9f77"/>
<rect x="658.7" y="1759.4" width="12.9" height="30.1" fill="#e0b792"/>
<rect x="671.5" y="1437" width="12.9" height="4.4" fill="#cf9f77"/>
<rect x="671.5" y="1441.4" width="12.9" height="63.6" fill="#e0b792"/>
<rect x="671.5" y="1505" width="12.9" height="63.6" fill="#dbaf89"/>
<rect x="671.5" y="1568.6" width="12.9" height="63.6" fill="#dfb48e"/>
<rect x="671.5" y="1632.2" width="12.9" height="63.6" fill="#e3ba96"/>
<rect x="671.5" y="1695.8" width="12.9" height="63.6" fill="#e0b792"/>
<rect x="671.5" y="1759.4" width="12.9" height="30.1" fill="#d6a982"/>
<rect x="684.4" y="1437" width="12.9" height="4.4" fill="#e6bf9c"/>
<rect x="684.4" y="1441.4" width="12.9" height="63.6" fill="#dfb48e"/>
<rect x="684.4" y="1505" width="12.9" height="63.6" fill="#e6bf9c"/>
<rect x="684.4" y="1568.6" width="12.9" height="63.6" fill="#dbaf89"/>
<rect x="684.4" y="1632.2" width="12.9" height="63.6" fill="#e6bf9c"/>
<rect x="684.4" y="1695.8" width="12.9" height="63.6" fill="#d3a57e"/>
<rect x="684.4" y="1759.4" width="12.9" height="30.1" fill="#d8ab85"/>
<rect x="697.2" y="1437" width="12.9" height="4.4" fill="#dcb08a"/>
<rect x="697.2" y="1441.4" width="12.9" height="63.6" fill="#e0b792"/>
<rect x="697.2" y="1505" width="12.9" height="63.6" fill="#d8ab85"/>
<rect x="697.2" y="1568.6" width="12.9" height="63.6" fill="#d3a57e"/>
<rect x="697.2" y="1632.2" width="12.9" height="63.6" fill="#dbaf89"/>
<rect x="697.2" y="1695.8" width="12.9" height="63.6" fill="#dfb48e"/>
<rect x="697.2" y="1759.4" width="12.9" height="30.1" fill="#cf9f77"/>
<rect x="710.1" y="1437" width="12.9" height="4.4" fill="#d3a57e"/>
<rect x="710.1" y="1441.4" width="12.9" height="63.6" fill="#cf9f77"/>
<rect x="710.1" y="1505" width="12.9" height="63.6" fill="#d6a982"/>
<rect x="710.1" y="1568.6" width="12.9" height="63.6" fill="#d3a57e"/>
<rect x="710.1" y="1632.2" width="12.9" height="63.6" fill="#cf9f77"/>
<rect x="710.1" y="1695.8" width="12.9" height="63.6" fill="#d6a982"/>
<rect x="710.1" y="1759.4" width="12.9" height="30.1" fill="#e6bf9c"/>
<rect x="723" y="1437" width="12.9" height="4.4" fill="#d3a57e"/>
<rect x="723" y="1441.4" width="12.9" height="63.6" fill="#dfb48e"/>
<rect x="723" y="1505" width="12.9" height="63.6" fill="#d6a982"/>
<rect x="723" y="1568.6" width="12.9" height="63.6" fill="#cf9f77"/>
<rect x="723" y="1632.2" width="12.9" height="63.6" fill="#cf9f77"/>
<rect x="723" y="1695.8" width="12.9" height="63.6" fill="#cf9f77"/>
<rect x="723" y="1759.4" width="12.9" height="30.1" fill="#d6a982"/>
<rect x="735.8" y="1437" width="12.9" height="4.4" fill="#e6bf9c"/>
<rect x="735.8" y="1441.4" width="12.9" height="63.6" fill="#cf9f77"/>
<rect x="735.8" y="1505" width="12.9" height="63.6" fill="#cf9f77"/>
<rect x="735.8" y="1568.6" width="12.9" height="63.6" fill="#dbaf89"/>
<rect x="735.8" y="1632.2" width="12.9" height="63.6" fill="#cf9f77"/>
<rect x="735.8" y="1695.8" width="12.9" height="63.6" fill="#cf9f77"/>
<rect x="735.8" y="1759.4" width="12.9" height="30.1" fill="#d8ab85"/>
<rect x="748.6" y="1437" width="12.9" height="4.4" fill="#dcb08a"/>
<rect x="748.6" y="1441.4" width="12.9" height="63.6" fill="#d3a57e"/>
<rect x="748.6" y="1505" width="12.9" height="63.6" fill="#e3ba96"/>
<rect x="748.6" y="1568.6" width="12.9" height="63.6" fill="#d3a57e"/>
<rect x="748.6" y="1632.2" width="12.9" height="63.6" fill="#e0b792"/>
<rect x="748.6" y="1695.8" width="12.9" height="63.6" fill="#dfb48e"/>
<rect x="748.6" y="1759.4" width="12.9" height="30.1" fill="#e6bf9c"/>
<rect x="761.5" y="1437" width="12.9" height="36.2" fill="#d3a57e"/>
<rect x="761.5" y="1473.2" width="12.9" height="63.6" fill="#d8ab85"/>
<rect x="761.5" y="1536.8" width="12.9" height="63.6" fill="#d3a57e"/>
<rect x="761.5" y="1600.4" width="12.9" height="63.6" fill="#dcb08a"/>
<rect x="761.5" y="1664" width="12.9" height="63.6" fill="#dfb48e"/>
<rect x="761.5" y="1727.6" width="12.9" height="61.9" fill="#e0b792"/>
<rect x="774.4" y="1437" width="12.9" height="4.4" fill="#dfb48e"/>
<rect x="774.4" y="1441.4" width="12.9" height="63.6" fill="#d8ab85"/>
<rect x="774.4" y="1505" width="12.9" height="63.6" fill="#dcb08a"/>
<rect x="774.4" y="1568.6" width="12.9" height="63.6" fill="#d8ab85"/>
<rect x="774.4" y="1632.2" width="12.9" height="63.6" fill="#dcb08a"/>
<rect x="774.4" y="1695.8" width="12.9" height="63.6" fill="#d3a57e"/>
<rect x="774.4" y="1759.4" width="12.9" height="30.1" fill="#dcb08a"/>
<rect x="787.2" y="1437" width="12.9" height="36.2" fill="#d3a57e"/>
<rect x="787.2" y="1473.2" width="12.9" height="63.6" fill="#e0b792"/>
<rect x="787.2" y="1536.8" width="12.9" height="63.6" fill="#dfb48e"/>
<rect x="787.2" y="1600.4" width="12.9" height="63.6" fill="#d6a982"/>
<rect x="787.2" y="1664" width="12.9" height="63.6" fill="#e3ba96"/>
<rect x="787.2" y="1727.6" width="12.9" height="61.9" fill="#e6bf9c"/>
<rect x="800" y="1437" width="12.9" height="4.4" fill="#e0b792"/>
<rect x="800" y="1441.4" width="12.9" height="63.6" fill="#dcb08a"/>
<rect x="800" y="1505" width="12.9" height="63.6" fill="#dbaf89"/>
<rect x="800" y="1568.6" width="12.9" height="63.6" fill="#e3ba96"/>
<rect x="800" y="1632.2" width="12.9" height="63.6" fill="#e0b792"/>
<rect x="800" y="1695.8" width="12.9" height="63.6" fill="#dfb48e"/>
<rect x="800" y="1759.4" width="12.9" height="30.1" fill="#d8ab85"/>
<rect x="812.9" y="1437" width="12.9" height="4.4" fill="#e0b792"/>
<rect x="812.9" y="1441.4" width="12.9" height="63.6" fill="#dbaf89"/>
<rect x="812.9" y="1505" width="12.9" height="63.6" fill="#d3a57e"/>
<rect x="812.9" y="1568.6" width="12.9" height="63.6" fill="#dbaf89"/>
<rect x="812.9" y="1632.2" width="12.9" height="63.6" fill="#e6bf9c"/>
<rect x="812.9" y="1695.8" width="12.9" height="63.6" fill="#cf9f77"/>
<rect x="812.9" y="1759.4" width="12.9" height="30.1" fill="#cf9f77"/>
<rect x="825.8" y="1437" width="12.9" height="36.2" fill="#dfb48e"/>
<rect x="825.8" y="1473.2" width="12.9" height="63.6" fill="#d3a57e"/>
<rect x="825.8" y="1536.8" width="12.9" height="63.6" fill="#dfb48e"/>
<rect x="825.8" y="1600.4" width="12.9" height="63.6" fill="#d8ab85"/>
<rect x="825.8" y="1664" width="12.9" height="63.6" fill="#dbaf89"/>
<rect x="825.8" y="1727.6" width="12.9" height="61.9" fill="#e6bf9c"/>
<rect x="838.6" y="1437" width="12.9" height="4.4" fill="#cf9f77"/>
<rect x="838.6" y="1441.4" width="12.9" height="63.6" fill="#e0b792"/>
<rect x="838.6" y="1505" width="12.9" height="63.6" fill="#cf9f77"/>
<rect x="838.6" y="1568.6" width="12.9" height="63.6" fill="#d6a982"/>
<rect x="838.6" y="1632.2" width="12.9" height="63.6" fill="#e6bf9c"/>
<rect x="838.6" y="1695.8" width="12.9" height="63.6" fill="#e3ba96"/>
<rect x="838.6" y="1759.4" width="12.9" height="30.1" fill="#d8ab85"/>
<rect x="851.4" y="1437" width="12.9" height="4.4" fill="#dcb08a"/>
<rect x="851.4" y="1441.4" width="12.9" height="63.6" fill="#e3ba96"/>
<rect x="851.4" y="1505" width="12.9" height="63.6" fill="#cf9f77"/>
<rect x="851.4" y="1568.6" width="12.9" height="63.6" fill="#e3ba96"/>
<rect x="851.4" y="1632.2" width="12.9" height="63.6" fill="#dfb48e"/>
<rect x="851.4" y="1695.8" width="12.9" height="63.6" fill="#dfb48e"/>
<rect x="851.4" y="1759.4" width="12.9" height="30.1" fill="#dcb08a"/>
<rect x="864.3" y="1437" width="12.9" height="4.4" fill="#d6a982"/>
<rect x="864.3" y="1441.4" width="12.9" height="63.6" fill="#d6a982"/>
<rect x="864.3" y="1505" width="12.9" height="63.6" fill="#dfb48e"/>
<rect x="864.3" y="1568.6" width="12.9" height="63.6" fill="#d6a982"/>
<rect x="864.3" y="1632.2" width="12.9" height="63.6" fill="#dcb08a"/>
<rect x="864.3" y="1695.8" width="12.9" height="63.6" fill="#d6a982"/>
<rect x="864.3" y="1759.4" width="12.9" height="30.1" fill="#dbaf89"/>
<rect x="877.1" y="1437" width="12.9" height="4.4" fill="#dbaf89"/>
<rect x="877.1" y="1441.4" width="12.9" height="63.6" fill="#e6bf9c"/>
<rect x="877.1" y="1505" width="12.9" height="63.6" fill="#cf9f77"/>
<rect x="877.1" y="1568.6" width="12.9" height="63.6" fill="#e0b792"/>
<rect x="877.1" y="1632.2" width="12.9" height="63.6" fill="#e6bf9c"/>
<rect x="877.1" y="1695.8" width="12.9" height="63.6" fill="#dcb08a"/>
<rect x="877.1" y="1759.4" width="12.9" height="30.1" fill="#cf9f77"/>
<rect x="890" y="1437" width="12.9" height="4.4" fill="#d6a982"/>
<rect x="890" y="1441.4" width="12.9" height="63.6" fill="#e6bf9c"/>
<rect x="890" y="1505" width="12.9" height="63.6" fill="#dfb48e"/>
<rect x="890" y="1568.6" width="12.9" height="63.6" fill="#e6bf9c"/>
<rect x="890" y="1632.2" width="12.9" height="63.6" fill="#d8ab85"/>
<rect x="890" y="1695.8" width="12.9" height="63.6" fill="#d3a57e"/>
<rect x="890" y="1759.4" width="12.9" height="30.1" fill="#e3ba96"/>
<rect x="902.9" y="1437" width="12.9" height="36.2" fill="#d6a982"/>
<rect x="902.9" y="1473.2" width="12.9" height="63.6" fill="#d8ab85"/>
<rect x="902.9" y="1536.8" width="12.9" height="63.6" fill="#d3a57e"/>
<rect x="902.9" y="1600.4" width="12.9" height="63.6" fill="#dfb48e"/>
<rect x="902.9" y="1664" width="12.9" height="63.6" fill="#dcb08a"/>
<rect x="902.9" y="1727.6" width="12.9" height="61.9" fill="#dcb08a"/>
<rect x="915.7" y="1437" width="12.9" height="4.4" fill="#cf9f77"/>
<rect x="915.7" y="1441.4" width="12.9" height="63.6" fill="#e6bf9c"/>
<rect x="915.7" y="1505" width="12.9" height="63.6" fill="#cf9f77"/>
<rect x="915.7" y="1568.6" width="12.9" height="63.6" fill="#e6bf9c"/>
<rect x="915.7" y="1632.2" width="12.9" height="63.6" fill="#e6bf9c"/>
<rect x="915.7" y="1695.8" width="12.9" height="63.6" fill="#d6a982"/>
<rect x="915.7" y="1759.4" width="12.9" height="30.1" fill="#cf9f77"/>
<rect x="928.5" y="1437" width="12.9" height="4.4" fill="#dbaf89"/>
<rect x="928.5" y="1441.4" width="12.9" height="63.6" fill="#e6bf9c"/>
<rect x="928.5" y="1505" width="12.9" height="63.6" fill="#dcb08a"/>
<rect x="928.5" y="1568.6" width="12.9" height="63.6" fill="#d6a982"/>
<rect x="928.5" y="1632.2" width="12.9" height="63.6" fill="#e0b792"/>
<rect x="928.5" y="1695.8" width="12.9" height="63.6" fill="#d6a982"/>
<rect x="928.5" y="1759.4" width="12.9" height="30.1" fill="#e6bf9c"/>
<rect x="941.4" y="1437" width="12.9" height="4.4" fill="#e6bf9c"/>
<rect x="941.4" y="1441.4" width="12.9" height="63.6" fill="#cf9f77"/>
<rect x="941.4" y="1505" width="12.9" height="63.6" fill="#d3a57e"/>
<rect x="941.4" y="1568.6" width="12.9" height="63.6" fill="#d6a982"/>
<rect x="941.4" y="1632.2" width="12.9" height="63.6" fill="#d6a982"/>
<rect x="941.4" y="1695.8" width="12.9" height="63.6" fill="#d8ab85"/>
<rect x="941.4" y="1759.4" width="12.9" height="30.1" fill="#e0b792"/>
<rect x="954.2" y="1437" width="12.9" height="4.4" fill="#dbaf89"/>
<rect x="954.2" y="1441.4" width="12.9" height="63.6" fill="#d3a57e"/>
<rect x="954.2" y="1505" width="12.9" height="63.6" fill="#d3a57e"/>
<rect x="954.2" y="1568.6" width="12.9" height="63.6" fill="#e6bf9c"/>
<rect x="954.2" y="1632.2" width="12.9" height="63.6" fill="#cf9f77"/>
<rect x="954.2" y="1695.8" width="12.9" height="63.6" fill="#e3ba96"/>
<rect x="954.2" y="1759.4" width="12.9" height="30.1" fill="#e3ba96"/>
<rect x="967.1" y="1437" width="12.9" height="4.4" fill="#dbaf89"/>
<rect x="967.1" y="1441.4" width="12.9" height="63.6" fill="#d8ab85"/>
<rect x="967.1" y="1505" width="12.9" height="63.6" fill="#e6bf9c"/>
<rect x="967.1" y="1568.6" width="12.9" height="63.6" fill="#e0b792"/>
<rect x="967.1" y="1632.2" width="12.9" height="63.6" fill="#d8ab85"/>
<rect x="967.1" y="1695.8" width="12.9" height="63.6" fill="#d6a982"/>
<rect x="967.1" y="1759.4" width="12.9" height="30.1" fill="#d6a982"/>
<rect x="979.9" y="1437" width="12.9" height="4.4" fill="#cf9f77"/>
<rect x="979.9" y="1441.4" width="12.9" height="63.6" fill="#e6bf9c"/>
<rect x="979.9" y="1505" width="12.9" height="63.6" fill="#d3a57e"/>
<rect x="979.9" y="1568.6" width="12.9" height="63.6" fill="#e6bf9c"/>
<rect x="979.9" y="1632.2" width="12.9" height="63.6" fill="#e6bf9c"/>
<rect x="979.9" y="1695.8" width="12.9" height="63.6" fill="#e6bf9c"/>
<rect x="979.9" y="1759.4" width="12.9" height="30.1" fill="#e0b792"/>
<rect x="992.8" y="1437" width="12.9" height="4.4" fill="#e3ba96"/>
<rect x="992.8" y="1441.4" width="12.9" height="63.6" fill="#d8ab85"/>
<rect x="992.8" y="1505" width="12.9" height="63.6" fill="#d6a982"/>
<rect x="992.8" y="1568.6" width="12.9" height="63.6" fill="#cf9f77"/>
<rect x="992.8" y="1632.2" width="12.9" height="63.6" fill="#dcb08a"/>
<rect x="992.8" y="1695.8" width="12.9" height="63.6" fill="#e6bf9c"/>
<rect x="992.8" y="1759.4" width="12.9" height="30.1" fill="#d6a982"/>
<rect x="1005.6" y="1437" width="12.9" height="4.4" fill="#e6bf9c"/>
<rect x="1005.6" y="1441.4" width="12.9" height="63.6" fill="#d8ab85"/>
<rect x="1005.6" y="1505" width="12.9" height="63.6" fill="#d3a57e"/>
<rect x="1005.6" y="1568.6" width="12.9" height="63.6" fill="#e6bf9c"/>
<rect x="1005.6" y="1632.2" width="12.9" height="63.6" fill="#e6bf9c"/>
<rect x="1005.6" y="1695.8" width="12.9" height="63.6" fill="#cf9f77"/>
<rect x="1005.6" y="1759.4" width="12.9" height="30.1" fill="#dfb48e"/>
<rect x="1018.5" y="1437" width="12.8" height="4.4" fill="#e0b792"/>
<rect x="1018.5" y="1441.4" width="12.8" height="63.6" fill="#e3ba96"/>
<rect x="1018.5" y="1505" width="12.8" height="63.6" fill="#e0b792"/>
<rect x="1018.5" y="1568.6" width="12.8" height="63.6" fill="#e3ba96"/>
<rect x="1018.5" y="1632.2" width="12.8" height="63.6" fill="#d3a57e"/>
<rect x="1018.5" y="1695.8" width="12.8" height="63.6" fill="#d8ab85"/>
<rect x="1018.5" y="1759.4" width="12.8" height="30.1" fill="#dbaf89"/>
<rect x="1031.3" y="1437" width="12.8" height="36.2" fill="#d3a57e"/>
<rect x="1031.3" y="1473.2" width="12.8" height="63.6" fill="#d8ab85"/>
<rect x="1031.3" y="1536.8" width="12.8" height="63.6" fill="#dbaf89"/>
<rect x="1031.3" y="1600.4" width="12.8" height="63.6" fill="#dcb08a"/>
<rect x="1031.3" y="1664" width="12.8" height="63.6" fill="#d3a57e"/>
<rect x="1031.3" y="1727.6" width="12.8" height="61.9" fill="#e3ba96"/>
<rect x="1044.2" y="1437" width="12.8" height="4.4" fill="#dcb08a"/>
<rect x="1044.2" y="1441.4" width="12.8" height="63.6" fill="#dcb08a"/>
<rect x="1044.2" y="1505" width="12.8" height="63.6" fill="#dcb08a"/>
<rect x="1044.2" y="1568.6" width="12.8" height="63.6" fill="#d3a57e"/>
<rect x="1044.2" y="1632.2" width="12.8" height="63.6" fill="#e3ba96"/>
<rect x="1044.2" y="1695.8" width="12.8" height="63.6" fill="#dcb08a"/>
<rect x="1044.2" y="1759.4" width="12.8" height="30.1" fill="#d6a982"/>
<rect x="1057" y="1437" width="12.8" height="4.4" fill="#d3a57e"/>
<rect x="1057" y="1441.4" width="12.8" height="63.6" fill="#dbaf89"/>
<rect x="1057" y="1505" width="12.8" height="63.6" fill="#d8ab85"/>
<rect x="1057" y="1568.6" width="12.8" height="63.6" fill="#dbaf89"/>
<rect x="1057" y="1632.2" width="12.8" height="63.6" fill="#cf9f77"/>
<rect x="1057" y="1695.8" width="12.8" height="63.6" fill="#dbaf89"/>
<rect x="1057" y="1759.4" width="12.8" height="30.1" fill="#dbaf89"/>
<rect x="1069.9" y="1437" width="12.8" height="4.4" fill="#d3a57e"/>
<rect x="1069.9" y="1441.4" width="12.8" height="63.6" fill="#dcb08a"/>
<rect x="1069.9" y="1505" width="12.8" height="63.6" fill="#dcb08a"/>
<rect x="1069.9" y="1568.6" width="12.8" height="63.6" fill="#d6a982"/>
<rect x="1069.9" y="1632.2" width="12.8" height="63.6" fill="#e0b792"/>
<rect x="1069.9" y="1695.8" width="12.8" height="63.6" fill="#dbaf89"/>
<rect x="1069.9" y="1759.4" width="12.8" height="30.1" fill="#e0b792"/>
<rect x="1082.8" y="1437" width="12.8" height="4.4" fill="#d6a982"/>
<rect x="1082.8" y="1441.4" width="12.8" height="63.6" fill="#e6bf9c"/>
<rect x="1082.8" y="1505" width="12.8" height="63.6" fill="#e6bf9c"/>
<rect x="1082.8" y="1568.6" width="12.8" height="63.6" fill="#cf9f77"/>
<rect x="1082.8" y="1632.2" width="12.8" height="63.6" fill="#d3a57e"/>
<rect x="1082.8" y="1695.8" width="12.8" height="63.6" fill="#d8ab85"/>
<rect x="1082.8" y="1759.4" width="12.8" height="30.1" fill="#dfb48e"/>
<rect x="1095.6" y="1437" width="12.8" height="4.4" fill="#d3a57e"/>
<rect x="1095.6" y="1441.4" width="12.8" height="63.6" fill="#cf9f77"/>
<rect x="1095.6" y="1505" width="12.8" height="63.6" fill="#d3a57e"/>
<rect x="1095.6" y="1568.6" width="12.8" height="63.6" fill="#dbaf89"/>
<rect x="1095.6" y="1632.2" width="12.8" height="63.6" fill="#d8ab85"/>
<rect x="1095.6" y="1695.8" width="12.8" height="63.6" fill="#e0b792"/>
<rect x="1095.6" y="1759.4" width="12.8" height="30.1" fill="#cf9f77"/>
<rect x="1108.4" y="1437" width="12.8" height="4.4" fill="#d8ab85"/>
<rect x="1108.4" y="1441.4" width="12.8" height="63.6" fill="#d3a57e"/>
<rect x="1108.4" y="1505" width="12.8" height="63.6" fill="#cf9f77"/>
<rect x="1108.4" y="1568.6" width="12.8" height="63.6" fill="#cf9f77"/>
<rect x="1108.4" y="1632.2" width="12.8" height="63.6" fill="#dfb48e"/>
<rect x="1108.4" y="1695.8" width="12.8" height="63.6" fill="#d8ab85"/>
<rect x="1108.4" y="1759.4" width="12.8" height="30.1" fill="#dfb48e"/>
<rect x="1121.3" y="1437" width="12.8" height="4.4" fill="#e0b792"/>
<rect x="1121.3" y="1441.4" width="12.8" height="63.6" fill="#d3a57e"/>
<rect x="1121.3" y="1505" width="12.8" height="63.6" fill="#dcb08a"/>
<rect x="1121.3" y="1568.6" width="12.8" height="63.6" fill="#d8ab85"/>
<rect x="1121.3" y="1632.2" width="12.8" height="63.6" fill="#dcb08a"/>
<rect x="1121.3" y="1695.8" width="12.8" height="63.6" fill="#e3ba96"/>
<rect x="1121.3" y="1759.4" width="12.8" height="30.1" fill="#e0b792"/>
<rect x="1134.2" y="1437" width="12.8" height="4.4" fill="#dbaf89"/>
<rect x="1134.2" y="1441.4" width="12.8" height="63.6" fill="#d3a57e"/>
<rect x="1134.2" y="1505" width="12.8" height="63.6" fill="#d6a982"/>
<rect x="1134.2" y="1568.6" width="12.8" height="63.6" fill="#e3ba96"/>
<rect x="1134.2" y="1632.2" width="12.8" height="63.6" fill="#dcb08a"/>
<rect x="1134.2" y="1695.8" width="12.8" height="63.6" fill="#d8ab85"/>
<rect x="1134.2" y="1759.4" width="12.8" height="30.1" fill="#dcb08a"/>
<rect x="1147" y="1437" width="12.8" height="4.4" fill="#e0b792"/>
<rect x="1147" y="1441.4" width="12.8" height="63.6" fill="#d3a57e"/>
<rect x="1147" y="1505" width="12.8" height="63.6" fill="#e0b792"/>
<rect x="1147" y="1568.6" width="12.8" height="63.6" fill="#e6bf9c"/>
<rect x="1147" y="1632.2" width="12.8" height="63.6" fill="#dcb08a"/>
<rect x="1147" y="1695.8" width="12.8" height="63.6" fill="#d8ab85"/>
<rect x="1147" y="1759.4" width="12.8" height="30.1" fill="#dcb08a"/>
<rect x="1159.8" y="1437" width="12.8" height="4.4" fill="#e0b792"/>
<rect x="1159.8" y="1441.4" width="12.8" height="63.6" fill="#e3ba96"/>
<rect x="1159.8" y="1505" width="12.8" height="63.6" fill="#dcb08a"/>
<rect x="1159.8" y="1568.6" width="12.8" height="63.6" fill="#d3a57e"/>
<rect x="1159.8" y="1632.2" width="12.8" height="63.6" fill="#dfb48e"/>
<rect x="1159.8" y="1695.8" width="12.8" height="63.6" fill="#e0b792"/>
<rect x="1159.8" y="1759.4" width="12.8" height="30.1" fill="#e0b792"/>
<rect x="1172.7" y="1437" width="12.8" height="36.2" fill="#e3ba96"/>
<rect x="1172.7" y="1473.2" width="12.8" height="63.6" fill="#dbaf89"/>
<rect x="1172.7" y="1536.8" width="12.8" height="63.6" fill="#d6a982"/>
<rect x="1172.7" y="1600.4" width="12.8" height="63.6" fill="#e0b792"/>
<rect x="1172.7" y="1664" width="12.8" height="63.6" fill="#d8ab85"/>
<rect x="1172.7" y="1727.6" width="12.8" height="61.9" fill="#d6a982"/>
<rect x="1185.5" y="1437" width="9.5" height="4.4" fill="#dfb48e"/>
<rect x="1185.5" y="1441.4" width="9.5" height="63.6" fill="#cf9f77"/>
<rect x="1185.5" y="1505" width="9.5" height="63.6" fill="#d3a57e"/>
<rect x="1185.5" y="1568.6" width="9.5" height="63.6" fill="#dfb48e"/>
<rect x="1185.5" y="1632.2" width="9.5" height="63.6" fill="#dbaf89"/>
<rect x="1185.5" y="1695.8" width="9.5" height="63.6" fill="#cf9f77"/>
<rect x="1185.5" y="1759.4" width="9.5" height="30.1" fill="#e6bf9c"/>
<line x1="260.4" y1="1437" x2="260.4" y2="1789.5" stroke="#b0885f" stroke-width="0.9" stroke-opacity="0.8"/>
<line x1="273.2" y1="1437" x2="273.2" y2="1789.5" stroke="#b0885f" stroke-width="0.9" stroke-opacity="0.8"/>
<line x1="286.1" y1="1437" x2="286.1" y2="1789.5" stroke="#b0885f" stroke-width="0.9" stroke-opacity="0.8"/>
<line x1="298.9" y1="1437" x2="298.9" y2="1789.5" stroke="#b0885f" stroke-width="0.9" stroke-opacity="0.8"/>
<line x1="311.8" y1="1437" x2="311.8" y2="1789.5" stroke="#b0885f" stroke-width="0.9" stroke-opacity="0.8"/>
<line x1="324.6" y1="1437" x2="324.6" y2="1789.5" stroke="#b0885f" stroke-width="0.9" stroke-opacity="0.8"/>
<line x1="337.4" y1="1437" x2="337.4" y2="1789.5" stroke="#b0885f" stroke-width="0.9" stroke-opacity="0.8"/>
<line x1="350.3" y1="1437" x2="350.3" y2="1789.5" stroke="#b0885f" stroke-width="0.9" stroke-opacity="0.8"/>
<line x1="363.1" y1="1437" x2="363.1" y2="1789.5" stroke="#b0885f" stroke-width="0.9" stroke-opacity="0.8"/>
<line x1="376" y1="1437" x2="376" y2="1789.5" stroke="#b0885f" stroke-width="0.9" stroke-opacity="0.8"/>
<line x1="388.9" y1="1437" x2="388.9" y2="1789.5" stroke="#b0885f" stroke-width="0.9" stroke-opacity="0.8"/>
<line x1="401.7" y1="1437" x2="401.7" y2="1789.5" stroke="#b0885f" stroke-width="0.9" stroke-opacity="0.8"/>
<line x1="414.5" y1="1437" x2="414.5" y2="1789.5" stroke="#b0885f" stroke-width="0.9" stroke-opacity="0.8"/>
<line x1="427.4" y1="1437" x2="427.4" y2="1789.5" stroke="#b0885f" stroke-width="0.9" stroke-opacity="0.8"/>
<line x1="440.2" y1="1437" x2="440.2" y2="1789.5" stroke="#b0885f" stroke-width="0.9" stroke-opacity="0.8"/>
<line x1="453.1" y1="1437" x2="453.1" y2="1789.5" stroke="#b0885f" stroke-width="0.9" stroke-opacity="0.8"/>
<line x1="465.9" y1="1437" x2="465.9" y2="1789.5" stroke="#b0885f" stroke-width="0.9" stroke-opacity="0.8"/>
<line x1="478.8" y1="1437" x2="478.8" y2="1789.5" stroke="#b0885f" stroke-width="0.9" stroke-opacity="0.8"/>
<line x1="491.6" y1="1437" x2="491.6" y2="1789.5" stroke="#b0885f" stroke-width="0.9" stroke-opacity="0.8"/>
<line x1="504.5" y1="1437" x2="504.5" y2="1789.5" stroke="#b0885f" stroke-width="0.9" stroke-opacity="0.8"/>
<line x1="517.3" y1="1437" x2="517.3" y2="1789.5" stroke="#b0885f" stroke-width="0.9" stroke-opacity="0.8"/>
<line x1="530.2" y1="1437" x2="530.2" y2="1789.5" stroke="#b0885f" stroke-width="0.9" stroke-opacity="0.8"/>
<line x1="543" y1="1437" x2="543" y2="1789.5" stroke="#b0885f" stroke-width="0.9" stroke-opacity="0.8"/>
<line x1="555.9" y1="1437" x2="555.9" y2="1789.5" stroke="#b0885f" stroke-width="0.9" stroke-opacity="0.8"/>
<line x1="568.8" y1="1437" x2="568.8" y2="1789.5" stroke="#b0885f" stroke-width="0.9" stroke-opacity="0.8"/>
<line x1="581.6" y1="1437" x2="581.6" y2="1789.5" stroke="#b0885f" stroke-width="0.9" stroke-opacity="0.8"/>
<line x1="594.5" y1="1437" x2="594.5" y2="1789.5" stroke="#b0885f" stroke-width="0.9" stroke-opacity="0.8"/>
<line x1="607.3" y1="1437" x2="607.3" y2="1789.5" stroke="#b0885f" stroke-width="0.9" stroke-opacity="0.8"/>
<line x1="620.1" y1="1437" x2="620.1" y2="1789.5" stroke="#b0885f" stroke-width="0.9" stroke-opacity="0.8"/>
<line x1="633" y1="1437" x2="633" y2="1789.5" stroke="#b0885f" stroke-width="0.9" stroke-opacity="0.8"/>
<line x1="645.8" y1="1437" x2="645.8" y2="1789.5" stroke="#b0885f" stroke-width="0.9" stroke-opacity="0.8"/>
<line x1="658.7" y1="1437" x2="658.7" y2="1789.5" stroke="#b0885f" stroke-width="0.9" stroke-opacity="0.8"/>
<line x1="671.5" y1="1437" x2="671.5" y2="1789.5" stroke="#b0885f" stroke-width="0.9" stroke-opacity="0.8"/>
<line x1="684.4" y1="1437" x2="684.4" y2="1789.5" stroke="#b0885f" stroke-width="0.9" stroke-opacity="0.8"/>
<line x1="697.2" y1="1437" x2="697.2" y2="1789.5" stroke="#b0885f" stroke-width="0.9" stroke-opacity="0.8"/>
<line x1="710.1" y1="1437" x2="710.1" y2="1789.5" stroke="#b0885f" stroke-width="0.9" stroke-opacity="0.8"/>
<line x1="723" y1="1437" x2="723" y2="1789.5" stroke="#b0885f" stroke-width="0.9" stroke-opacity="0.8"/>
<line x1="735.8" y1="1437" x2="735.8" y2="1789.5" stroke="#b0885f" stroke-width="0.9" stroke-opacity="0.8"/>
<line x1="748.6" y1="1437" x2="748.6" y2="1789.5" stroke="#b0885f" stroke-width="0.9" stroke-opacity="0.8"/>
<line x1="761.5" y1="1437" x2="761.5" y2="1789.5" stroke="#b0885f" stroke-width="0.9" stroke-opacity="0.8"/>
<line x1="774.4" y1="1437" x2="774.4" y2="1789.5" stroke="#b0885f" stroke-width="0.9" stroke-opacity="0.8"/>
<line x1="787.2" y1="1437" x2="787.2" y2="1789.5" stroke="#b0885f" stroke-width="0.9" stroke-opacity="0.8"/>
<line x1="800" y1="1437" x2="800" y2="1789.5" stroke="#b0885f" stroke-width="0.9" stroke-opacity="0.8"/>
<line x1="812.9" y1="1437" x2="812.9" y2="1789.5" stroke="#b0885f" stroke-width="0.9" stroke-opacity="0.8"/>
<line x1="825.8" y1="1437" x2="825.8" y2="1789.5" stroke="#b0885f" stroke-width="0.9" stroke-opacity="0.8"/>
<line x1="838.6" y1="1437" x2="838.6" y2="1789.5" stroke="#b0885f" stroke-width="0.9" stroke-opacity="0.8"/>
<line x1="851.4" y1="1437" x2="851.4" y2="1789.5" stroke="#b0885f" stroke-width="0.9" stroke-opacity="0.8"/>
<line x1="864.3" y1="1437" x2="864.3" y2="1789.5" stroke="#b0885f" stroke-width="0.9" stroke-opacity="0.8"/>
<line x1="877.1" y1="1437" x2="877.1" y2="1789.5" stroke="#b0885f" stroke-width="0.9" stroke-opacity="0.8"/>
<line x1="890" y1="1437" x2="890" y2="1789.5" stroke="#b0885f" stroke-width="0.9" stroke-opacity="0.8"/>
<line x1="902.9" y1="1437" x2="902.9" y2="1789.5" stroke="#b0885f" stroke-width="0.9" stroke-opacity="0.8"/>
<line x1="915.7" y1="1437" x2="915.7" y2="1789.5" stroke="#b0885f" stroke-width="0.9" stroke-opacity="0.8"/>
<line x1="928.5" y1="1437" x2="928.5" y2="1789.5" stroke="#b0885f" stroke-width="0.9" stroke-opacity="0.8"/>
<line x1="941.4" y1="1437" x2="941.4" y2="1789.5" stroke="#b0885f" stroke-width="0.9" stroke-opacity="0.8"/>
<line x1="954.2" y1="1437" x2="954.2" y2="1789.5" stroke="#b0885f" stroke-width="0.9" stroke-opacity="0.8"/>
<line x1="967.1" y1="1437" x2="967.1" y2="1789.5" stroke="#b0885f" stroke-width="0.9" stroke-opacity="0.8"/>
<line x1="979.9" y1="1437" x2="979.9" y2="1789.5" stroke="#b0885f" stroke-width="0.9" stroke-opacity="0.8"/>
<line x1="992.8" y1="1437" x2="992.8" y2="1789.5" stroke="#b0885f" stroke-width="0.9" stroke-opacity="0.8"/>
<line x1="1005.6" y1="1437" x2="1005.6" y2="1789.5" stroke="#b0885f" stroke-width="0.9" stroke-opacity="0.8"/>
<line x1="1018.5" y1="1437" x2="1018.5" y2="1789.5" stroke="#b0885f" stroke-width="0.9" stroke-opacity="0.8"/>
<line x1="1031.3" y1="1437" x2="1031.3" y2="1789.5" stroke="#b0885f" stroke-width="0.9" stroke-opacity="0.8"/>
<line x1="1044.2" y1="1437" x2="1044.2" y2="1789.5" stroke="#b0885f" stroke-width="0.9" stroke-opacity="0.8"/>
<line x1="1057" y1="1437" x2="1057" y2="1789.5" stroke="#b0885f" stroke-width="0.9" stroke-opacity="0.8"/>
<line x1="1069.9" y1="1437" x2="1069.9" y2="1789.5" stroke="#b0885f" stroke-width="0.9" stroke-opacity="0.8"/>
<line x1="1082.8" y1="1437" x2="1082.8" y2="1789.5" stroke="#b0885f" stroke-width="0.9" stroke-opacity="0.8"/>
<line x1="1095.6" y1="1437" x2="1095.6" y2="1789.5" stroke="#b0885f" stroke-width="0.9" stroke-opacity="0.8"/>
<line x1="1108.4" y1="1437" x2="1108.4" y2="1789.5" stroke="#b0885f" stroke-width="0.9" stroke-opacity="0.8"/>
<line x1="1121.3" y1="1437" x2="1121.3" y2="1789.5" stroke="#b0885f" stroke-width="0.9" stroke-opacity="0.8"/>
<line x1="1134.2" y1="1437" x2="1134.2" y2="1789.5" stroke="#b0885f" stroke-width="0.9" stroke-opacity="0.8"/>
<line x1="1147" y1="1437" x2="1147" y2="1789.5" stroke="#b0885f" stroke-width="0.9" stroke-opacity="0.8"/>
<line x1="1159.8" y1="1437" x2="1159.8" y2="1789.5" stroke="#b0885f" stroke-width="0.9" stroke-opacity="0.8"/>
<line x1="1172.7" y1="1437" x2="1172.7" y2="1789.5" stroke="#b0885f" stroke-width="0.9" stroke-opacity="0.8"/>
<line x1="1185.5" y1="1437" x2="1185.5" y2="1789.5" stroke="#b0885f" stroke-width="0.9" stroke-opacity="0.8"/>
<line x1="250.5" y1="1441.4" x2="260.4" y2="1441.4" stroke="#b0885f" stroke-width="0.9" stroke-opacity="0.7"/>
<line x1="250.5" y1="1505" x2="260.4" y2="1505" stroke="#b0885f" stroke-width="0.9" stroke-opacity="0.7"/>
<line x1="250.5" y1="1568.6" x2="260.4" y2="1568.6" stroke="#b0885f" stroke-width="0.9" stroke-opacity="0.7"/>
<line x1="250.5" y1="1632.2" x2="260.4" y2="1632.2" stroke="#b0885f" stroke-width="0.9" stroke-opacity="0.7"/>
<line x1="250.5" y1="1695.8" x2="260.4" y2="1695.8" stroke="#b0885f" stroke-width="0.9" stroke-opacity="0.7"/>
<line x1="250.5" y1="1759.4" x2="260.4" y2="1759.4" stroke="#b0885f" stroke-width="0.9" stroke-opacity="0.7"/>
<line x1="260.4" y1="1441.4" x2="273.2" y2="1441.4" stroke="#b0885f" stroke-width="0.9" stroke-opacity="0.7"/>
<line x1="260.4" y1="1505" x2="273.2" y2="1505" stroke="#b0885f" stroke-width="0.9" stroke-opacity="0.7"/>
<line x1="260.4" y1="1568.6" x2="273.2" y2="1568.6" stroke="#b0885f" stroke-width="0.9" stroke-opacity="0.7"/>
<line x1="260.4" y1="1632.2" x2="273.2" y2="1632.2" stroke="#b0885f" stroke-width="0.9" stroke-opacity="0.7"/>
<line x1="260.4" y1="1695.8" x2="273.2" y2="1695.8" stroke="#b0885f" stroke-width="0.9" stroke-opacity="0.7"/>
<line x1="260.4" y1="1759.4" x2="273.2" y2="1759.4" stroke="#b0885f" stroke-width="0.9" stroke-opacity="0.7"/>
<line x1="273.2" y1="1473.2" x2="286.1" y2="1473.2" stroke="#b0885f" stroke-width="0.9" stroke-opacity="0.7"/>
<line x1="273.2" y1="1536.8" x2="286.1" y2="1536.8" stroke="#b0885f" stroke-width="0.9" stroke-opacity="0.7"/>
<line x1="273.2" y1="1600.4" x2="286.1" y2="1600.4" stroke="#b0885f" stroke-width="0.9" stroke-opacity="0.7"/>
<line x1="273.2" y1="1664" x2="286.1" y2="1664" stroke="#b0885f" stroke-width="0.9" stroke-opacity="0.7"/>
<line x1="273.2" y1="1727.6" x2="286.1" y2="1727.6" stroke="#b0885f" stroke-width="0.9" stroke-opacity="0.7"/>
<line x1="286.1" y1="1441.4" x2="298.9" y2="1441.4" stroke="#b0885f" stroke-width="0.9" stroke-opacity="0.7"/>
<line x1="286.1" y1="1505" x2="298.9" y2="1505" stroke="#b0885f" stroke-width="0.9" stroke-opacity="0.7"/>
<line x1="286.1" y1="1568.6" x2="298.9" y2="1568.6" stroke="#b0885f" stroke-width="0.9" stroke-opacity="0.7"/>
<line x1="286.1" y1="1632.2" x2="298.9" y2="1632.2" stroke="#b0885f" stroke-width="0.9" stroke-opacity="0.7"/>
<line x1="286.1" y1="1695.8" x2="298.9" y2="1695.8" stroke="#b0885f" stroke-width="0.9" stroke-opacity="0.7"/>
<line x1="286.1" y1="1759.4" x2="298.9" y2="1759.4" stroke="#b0885f" stroke-width="0.9" stroke-opacity="0.7"/>
<line x1="298.9" y1="1441.4" x2="311.8" y2="1441.4" stroke="#b0885f" stroke-width="0.9" stroke-opacity="0.7"/>
<line x1="298.9" y1="1505" x2="311.8" y2="1505" stroke="#b0885f" stroke-width="0.9" stroke-opacity="0.7"/>
<line x1="298.9" y1="1568.6" x2="311.8" y2="1568.6" stroke="#b0885f" stroke-width="0.9" stroke-opacity="0.7"/>
<line x1="298.9" y1="1632.2" x2="311.8" y2="1632.2" stroke="#b0885f" stroke-width="0.9" stroke-opacity="0.7"/>
<line x1="298.9" y1="1695.8" x2="311.8" y2="1695.8" stroke="#b0885f" stroke-width="0.9" stroke-opacity="0.7"/>
<line x1="298.9" y1="1759.4" x2="311.8" y2="1759.4" stroke="#b0885f" stroke-width="0.9" stroke-opacity="0.7"/>
<line x1="311.8" y1="1473.2" x2="324.6" y2="1473.2" stroke="#b0885f" stroke-width="0.9" stroke-opacity="0.7"/>
<line x1="311.8" y1="1536.8" x2="324.6" y2="1536.8" stroke="#b0885f" stroke-width="0.9" stroke-opacity="0.7"/>
<line x1="311.8" y1="1600.4" x2="324.6" y2="1600.4" stroke="#b0885f" stroke-width="0.9" stroke-opacity="0.7"/>
<line x1="311.8" y1="1664" x2="324.6" y2="1664" stroke="#b0885f" stroke-width="0.9" stroke-opacity="0.7"/>
<line x1="311.8" y1="1727.6" x2="324.6" y2="1727.6" stroke="#b0885f" stroke-width="0.9" stroke-opacity="0.7"/>
<line x1="324.6" y1="1441.4" x2="337.5" y2="1441.4" stroke="#b0885f" stroke-width="0.9" stroke-opacity="0.7"/>
<line x1="324.6" y1="1505" x2="337.5" y2="1505" stroke="#b0885f" stroke-width="0.9" stroke-opacity="0.7"/>
<line x1="324.6" y1="1568.6" x2="337.5" y2="1568.6" stroke="#b0885f" stroke-width="0.9" stroke-opacity="0.7"/>
<line x1="324.6" y1="1632.2" x2="337.5" y2="1632.2" stroke="#b0885f" stroke-width="0.9" stroke-opacity="0.7"/>
<line x1="324.6" y1="1695.8" x2="337.5" y2="1695.8" stroke="#b0885f" stroke-width="0.9" stroke-opacity="0.7"/>
<line x1="324.6" y1="1759.4" x2="337.5" y2="1759.4" stroke="#b0885f" stroke-width="0.9" stroke-opacity="0.7"/>
<line x1="337.4" y1="1441.4" x2="350.3" y2="1441.4" stroke="#b0885f" stroke-width="0.9" stroke-opacity="0.7"/>
<line x1="337.4" y1="1505" x2="350.3" y2="1505" stroke="#b0885f" stroke-width="0.9" stroke-opacity="0.7"/>
<line x1="337.4" y1="1568.6" x2="350.3" y2="1568.6" stroke="#b0885f" stroke-width="0.9" stroke-opacity="0.7"/>
<line x1="337.4" y1="1632.2" x2="350.3" y2="1632.2" stroke="#b0885f" stroke-width="0.9" stroke-opacity="0.7"/>
<line x1="337.4" y1="1695.8" x2="350.3" y2="1695.8" stroke="#b0885f" stroke-width="0.9" stroke-opacity="0.7"/>
<line x1="337.4" y1="1759.4" x2="350.3" y2="1759.4" stroke="#b0885f" stroke-width="0.9" stroke-opacity="0.7"/>
<line x1="350.3" y1="1473.2" x2="363.2" y2="1473.2" stroke="#b0885f" stroke-width="0.9" stroke-opacity="0.7"/>
<line x1="350.3" y1="1536.8" x2="363.2" y2="1536.8" stroke="#b0885f" stroke-width="0.9" stroke-opacity="0.7"/>
<line x1="350.3" y1="1600.4" x2="363.2" y2="1600.4" stroke="#b0885f" stroke-width="0.9" stroke-opacity="0.7"/>
<line x1="350.3" y1="1664" x2="363.2" y2="1664" stroke="#b0885f" stroke-width="0.9" stroke-opacity="0.7"/>
<line x1="350.3" y1="1727.6" x2="363.2" y2="1727.6" stroke="#b0885f" stroke-width="0.9" stroke-opacity="0.7"/>
<line x1="363.1" y1="1441.4" x2="376" y2="1441.4" stroke="#b0885f" stroke-width="0.9" stroke-opacity="0.7"/>
<line x1="363.1" y1="1505" x2="376" y2="1505" stroke="#b0885f" stroke-width="0.9" stroke-opacity="0.7"/>
<line x1="363.1" y1="1568.6" x2="376" y2="1568.6" stroke="#b0885f" stroke-width="0.9" stroke-opacity="0.7"/>
<line x1="363.1" y1="1632.2" x2="376" y2="1632.2" stroke="#b0885f" stroke-width="0.9" stroke-opacity="0.7"/>
<line x1="363.1" y1="1695.8" x2="376" y2="1695.8" stroke="#b0885f" stroke-width="0.9" stroke-opacity="0.7"/>
<line x1="363.1" y1="1759.4" x2="376" y2="1759.4" stroke="#b0885f" stroke-width="0.9" stroke-opacity="0.7"/>
<line x1="376" y1="1441.4" x2="388.9" y2="1441.4" stroke="#b0885f" stroke-width="0.9" stroke-opacity="0.7"/>
<line x1="376" y1="1505" x2="388.9" y2="1505" stroke="#b0885f" stroke-width="0.9" stroke-opacity="0.7"/>
<line x1="376" y1="1568.6" x2="388.9" y2="1568.6" stroke="#b0885f" stroke-width="0.9" stroke-opacity="0.7"/>
<line x1="376" y1="1632.2" x2="388.9" y2="1632.2" stroke="#b0885f" stroke-width="0.9" stroke-opacity="0.7"/>
<line x1="376" y1="1695.8" x2="388.9" y2="1695.8" stroke="#b0885f" stroke-width="0.9" stroke-opacity="0.7"/>
<line x1="376" y1="1759.4" x2="388.9" y2="1759.4" stroke="#b0885f" stroke-width="0.9" stroke-opacity="0.7"/>
<line x1="388.9" y1="1441.4" x2="401.7" y2="1441.4" stroke="#b0885f" stroke-width="0.9" stroke-opacity="0.7"/>
<line x1="388.9" y1="1505" x2="401.7" y2="1505" stroke="#b0885f" stroke-width="0.9" stroke-opacity="0.7"/>
<line x1="388.9" y1="1568.6" x2="401.7" y2="1568.6" stroke="#b0885f" stroke-width="0.9" stroke-opacity="0.7"/>
<line x1="388.9" y1="1632.2" x2="401.7" y2="1632.2" stroke="#b0885f" stroke-width="0.9" stroke-opacity="0.7"/>
<line x1="388.9" y1="1695.8" x2="401.7" y2="1695.8" stroke="#b0885f" stroke-width="0.9" stroke-opacity="0.7"/>
<line x1="388.9" y1="1759.4" x2="401.7" y2="1759.4" stroke="#b0885f" stroke-width="0.9" stroke-opacity="0.7"/>
<line x1="401.7" y1="1441.4" x2="414.6" y2="1441.4" stroke="#b0885f" stroke-width="0.9" stroke-opacity="0.7"/>
<line x1="401.7" y1="1505" x2="414.6" y2="1505" stroke="#b0885f" stroke-width="0.9" stroke-opacity="0.7"/>
<line x1="401.7" y1="1568.6" x2="414.6" y2="1568.6" stroke="#b0885f" stroke-width="0.9" stroke-opacity="0.7"/>
<line x1="401.7" y1="1632.2" x2="414.6" y2="1632.2" stroke="#b0885f" stroke-width="0.9" stroke-opacity="0.7"/>
<line x1="401.7" y1="1695.8" x2="414.6" y2="1695.8" stroke="#b0885f" stroke-width="0.9" stroke-opacity="0.7"/>
<line x1="401.7" y1="1759.4" x2="414.6" y2="1759.4" stroke="#b0885f" stroke-width="0.9" stroke-opacity="0.7"/>
<line x1="414.5" y1="1441.4" x2="427.4" y2="1441.4" stroke="#b0885f" stroke-width="0.9" stroke-opacity="0.7"/>
<line x1="414.5" y1="1505" x2="427.4" y2="1505" stroke="#b0885f" stroke-width="0.9" stroke-opacity="0.7"/>
<line x1="414.5" y1="1568.6" x2="427.4" y2="1568.6" stroke="#b0885f" stroke-width="0.9" stroke-opacity="0.7"/>
<line x1="414.5" y1="1632.2" x2="427.4" y2="1632.2" stroke="#b0885f" stroke-width="0.9" stroke-opacity="0.7"/>
<line x1="414.5" y1="1695.8" x2="427.4" y2="1695.8" stroke="#b0885f" stroke-width="0.9" stroke-opacity="0.7"/>
<line x1="414.5" y1="1759.4" x2="427.4" y2="1759.4" stroke="#b0885f" stroke-width="0.9" stroke-opacity="0.7"/>
<line x1="427.4" y1="1441.4" x2="440.2" y2="1441.4" stroke="#b0885f" stroke-width="0.9" stroke-opacity="0.7"/>
<line x1="427.4" y1="1505" x2="440.2" y2="1505" stroke="#b0885f" stroke-width="0.9" stroke-opacity="0.7"/>
<line x1="427.4" y1="1568.6" x2="440.2" y2="1568.6" stroke="#b0885f" stroke-width="0.9" stroke-opacity="0.7"/>
<line x1="427.4" y1="1632.2" x2="440.2" y2="1632.2" stroke="#b0885f" stroke-width="0.9" stroke-opacity="0.7"/>
<line x1="427.4" y1="1695.8" x2="440.2" y2="1695.8" stroke="#b0885f" stroke-width="0.9" stroke-opacity="0.7"/>
<line x1="427.4" y1="1759.4" x2="440.2" y2="1759.4" stroke="#b0885f" stroke-width="0.9" stroke-opacity="0.7"/>
<line x1="440.2" y1="1441.4" x2="453.1" y2="1441.4" stroke="#b0885f" stroke-width="0.9" stroke-opacity="0.7"/>
<line x1="440.2" y1="1505" x2="453.1" y2="1505" stroke="#b0885f" stroke-width="0.9" stroke-opacity="0.7"/>
<line x1="440.2" y1="1568.6" x2="453.1" y2="1568.6" stroke="#b0885f" stroke-width="0.9" stroke-opacity="0.7"/>
<line x1="440.2" y1="1632.2" x2="453.1" y2="1632.2" stroke="#b0885f" stroke-width="0.9" stroke-opacity="0.7"/>
<line x1="440.2" y1="1695.8" x2="453.1" y2="1695.8" stroke="#b0885f" stroke-width="0.9" stroke-opacity="0.7"/>
<line x1="440.2" y1="1759.4" x2="453.1" y2="1759.4" stroke="#b0885f" stroke-width="0.9" stroke-opacity="0.7"/>
<line x1="453.1" y1="1473.2" x2="466" y2="1473.2" stroke="#b0885f" stroke-width="0.9" stroke-opacity="0.7"/>
<line x1="453.1" y1="1536.8" x2="466" y2="1536.8" stroke="#b0885f" stroke-width="0.9" stroke-opacity="0.7"/>
<line x1="453.1" y1="1600.4" x2="466" y2="1600.4" stroke="#b0885f" stroke-width="0.9" stroke-opacity="0.7"/>
<line x1="453.1" y1="1664" x2="466" y2="1664" stroke="#b0885f" stroke-width="0.9" stroke-opacity="0.7"/>
<line x1="453.1" y1="1727.6" x2="466" y2="1727.6" stroke="#b0885f" stroke-width="0.9" stroke-opacity="0.7"/>
<line x1="465.9" y1="1441.4" x2="478.8" y2="1441.4" stroke="#b0885f" stroke-width="0.9" stroke-opacity="0.7"/>
<line x1="465.9" y1="1505" x2="478.8" y2="1505" stroke="#b0885f" stroke-width="0.9" stroke-opacity="0.7"/>
<line x1="465.9" y1="1568.6" x2="478.8" y2="1568.6" stroke="#b0885f" stroke-width="0.9" stroke-opacity="0.7"/>
<line x1="465.9" y1="1632.2" x2="478.8" y2="1632.2" stroke="#b0885f" stroke-width="0.9" stroke-opacity="0.7"/>
<line x1="465.9" y1="1695.8" x2="478.8" y2="1695.8" stroke="#b0885f" stroke-width="0.9" stroke-opacity="0.7"/>
<line x1="465.9" y1="1759.4" x2="478.8" y2="1759.4" stroke="#b0885f" stroke-width="0.9" stroke-opacity="0.7"/>
<line x1="478.8" y1="1473.2" x2="491.6" y2="1473.2" stroke="#b0885f" stroke-width="0.9" stroke-opacity="0.7"/>
<line x1="478.8" y1="1536.8" x2="491.6" y2="1536.8" stroke="#b0885f" stroke-width="0.9" stroke-opacity="0.7"/>
<line x1="478.8" y1="1600.4" x2="491.6" y2="1600.4" stroke="#b0885f" stroke-width="0.9" stroke-opacity="0.7"/>
<line x1="478.8" y1="1664" x2="491.6" y2="1664" stroke="#b0885f" stroke-width="0.9" stroke-opacity="0.7"/>
<line x1="478.8" y1="1727.6" x2="491.6" y2="1727.6" stroke="#b0885f" stroke-width="0.9" stroke-opacity="0.7"/>
<line x1="491.6" y1="1441.4" x2="504.5" y2="1441.4" stroke="#b0885f" stroke-width="0.9" stroke-opacity="0.7"/>
<line x1="491.6" y1="1505" x2="504.5" y2="1505" stroke="#b0885f" stroke-width="0.9" stroke-opacity="0.7"/>
<line x1="491.6" y1="1568.6" x2="504.5" y2="1568.6" stroke="#b0885f" stroke-width="0.9" stroke-opacity="0.7"/>
<line x1="491.6" y1="1632.2" x2="504.5" y2="1632.2" stroke="#b0885f" stroke-width="0.9" stroke-opacity="0.7"/>
<line x1="491.6" y1="1695.8" x2="504.5" y2="1695.8" stroke="#b0885f" stroke-width="0.9" stroke-opacity="0.7"/>
<line x1="491.6" y1="1759.4" x2="504.5" y2="1759.4" stroke="#b0885f" stroke-width="0.9" stroke-opacity="0.7"/>
<line x1="504.5" y1="1441.4" x2="517.4" y2="1441.4" stroke="#b0885f" stroke-width="0.9" stroke-opacity="0.7"/>
<line x1="504.5" y1="1505" x2="517.4" y2="1505" stroke="#b0885f" stroke-width="0.9" stroke-opacity="0.7"/>
<line x1="504.5" y1="1568.6" x2="517.4" y2="1568.6" stroke="#b0885f" stroke-width="0.9" stroke-opacity="0.7"/>
<line x1="504.5" y1="1632.2" x2="517.4" y2="1632.2" stroke="#b0885f" stroke-width="0.9" stroke-opacity="0.7"/>
<line x1="504.5" y1="1695.8" x2="517.4" y2="1695.8" stroke="#b0885f" stroke-width="0.9" stroke-opacity="0.7"/>
<line x1="504.5" y1="1759.4" x2="517.4" y2="1759.4" stroke="#b0885f" stroke-width="0.9" stroke-opacity="0.7"/>
<line x1="517.3" y1="1441.4" x2="530.2" y2="1441.4" stroke="#b0885f" stroke-width="0.9" stroke-opacity="0.7"/>
<line x1="517.3" y1="1505" x2="530.2" y2="1505" stroke="#b0885f" stroke-width="0.9" stroke-opacity="0.7"/>
<line x1="517.3" y1="1568.6" x2="530.2" y2="1568.6" stroke="#b0885f" stroke-width="0.9" stroke-opacity="0.7"/>
<line x1="517.3" y1="1632.2" x2="530.2" y2="1632.2" stroke="#b0885f" stroke-width="0.9" stroke-opacity="0.7"/>
<line x1="517.3" y1="1695.8" x2="530.2" y2="1695.8" stroke="#b0885f" stroke-width="0.9" stroke-opacity="0.7"/>
<line x1="517.3" y1="1759.4" x2="530.2" y2="1759.4" stroke="#b0885f" stroke-width="0.9" stroke-opacity="0.7"/>
<line x1="530.2" y1="1441.4" x2="543.1" y2="1441.4" stroke="#b0885f" stroke-width="0.9" stroke-opacity="0.7"/>
<line x1="530.2" y1="1505" x2="543.1" y2="1505" stroke="#b0885f" stroke-width="0.9" stroke-opacity="0.7"/>
<line x1="530.2" y1="1568.6" x2="543.1" y2="1568.6" stroke="#b0885f" stroke-width="0.9" stroke-opacity="0.7"/>
<line x1="530.2" y1="1632.2" x2="543.1" y2="1632.2" stroke="#b0885f" stroke-width="0.9" stroke-opacity="0.7"/>
<line x1="530.2" y1="1695.8" x2="543.1" y2="1695.8" stroke="#b0885f" stroke-width="0.9" stroke-opacity="0.7"/>
<line x1="530.2" y1="1759.4" x2="543.1" y2="1759.4" stroke="#b0885f" stroke-width="0.9" stroke-opacity="0.7"/>
<line x1="543" y1="1473.2" x2="555.9" y2="1473.2" stroke="#b0885f" stroke-width="0.9" stroke-opacity="0.7"/>
<line x1="543" y1="1536.8" x2="555.9" y2="1536.8" stroke="#b0885f" stroke-width="0.9" stroke-opacity="0.7"/>
<line x1="543" y1="1600.4" x2="555.9" y2="1600.4" stroke="#b0885f" stroke-width="0.9" stroke-opacity="0.7"/>
<line x1="543" y1="1664" x2="555.9" y2="1664" stroke="#b0885f" stroke-width="0.9" stroke-opacity="0.7"/>
<line x1="543" y1="1727.6" x2="555.9" y2="1727.6" stroke="#b0885f" stroke-width="0.9" stroke-opacity="0.7"/>
<line x1="555.9" y1="1441.4" x2="568.8" y2="1441.4" stroke="#b0885f" stroke-width="0.9" stroke-opacity="0.7"/>
<line x1="555.9" y1="1505" x2="568.8" y2="1505" stroke="#b0885f" stroke-width="0.9" stroke-opacity="0.7"/>
<line x1="555.9" y1="1568.6" x2="568.8" y2="1568.6" stroke="#b0885f" stroke-width="0.9" stroke-opacity="0.7"/>
<line x1="555.9" y1="1632.2" x2="568.8" y2="1632.2" stroke="#b0885f" stroke-width="0.9" stroke-opacity="0.7"/>
<line x1="555.9" y1="1695.8" x2="568.8" y2="1695.8" stroke="#b0885f" stroke-width="0.9" stroke-opacity="0.7"/>
<line x1="555.9" y1="1759.4" x2="568.8" y2="1759.4" stroke="#b0885f" stroke-width="0.9" stroke-opacity="0.7"/>
<line x1="568.8" y1="1441.4" x2="581.6" y2="1441.4" stroke="#b0885f" stroke-width="0.9" stroke-opacity="0.7"/>
<line x1="568.8" y1="1505" x2="581.6" y2="1505" stroke="#b0885f" stroke-width="0.9" stroke-opacity="0.7"/>
<line x1="568.8" y1="1568.6" x2="581.6" y2="1568.6" stroke="#b0885f" stroke-width="0.9" stroke-opacity="0.7"/>
<line x1="568.8" y1="1632.2" x2="581.6" y2="1632.2" stroke="#b0885f" stroke-width="0.9" stroke-opacity="0.7"/>
<line x1="568.8" y1="1695.8" x2="581.6" y2="1695.8" stroke="#b0885f" stroke-width="0.9" stroke-opacity="0.7"/>
<line x1="568.8" y1="1759.4" x2="581.6" y2="1759.4" stroke="#b0885f" stroke-width="0.9" stroke-opacity="0.7"/>
<line x1="581.6" y1="1441.4" x2="594.4" y2="1441.4" stroke="#b0885f" stroke-width="0.9" stroke-opacity="0.7"/>
<line x1="581.6" y1="1505" x2="594.4" y2="1505" stroke="#b0885f" stroke-width="0.9" stroke-opacity="0.7"/>
<line x1="581.6" y1="1568.6" x2="594.4" y2="1568.6" stroke="#b0885f" stroke-width="0.9" stroke-opacity="0.7"/>
<line x1="581.6" y1="1632.2" x2="594.4" y2="1632.2" stroke="#b0885f" stroke-width="0.9" stroke-opacity="0.7"/>
<line x1="581.6" y1="1695.8" x2="594.4" y2="1695.8" stroke="#b0885f" stroke-width="0.9" stroke-opacity="0.7"/>
<line x1="581.6" y1="1759.4" x2="594.4" y2="1759.4" stroke="#b0885f" stroke-width="0.9" stroke-opacity="0.7"/>
<line x1="594.5" y1="1441.4" x2="607.3" y2="1441.4" stroke="#b0885f" stroke-width="0.9" stroke-opacity="0.7"/>
<line x1="594.5" y1="1505" x2="607.3" y2="1505" stroke="#b0885f" stroke-width="0.9" stroke-opacity="0.7"/>
<line x1="594.5" y1="1568.6" x2="607.3" y2="1568.6" stroke="#b0885f" stroke-width="0.9" stroke-opacity="0.7"/>
<line x1="594.5" y1="1632.2" x2="607.3" y2="1632.2" stroke="#b0885f" stroke-width="0.9" stroke-opacity="0.7"/>
<line x1="594.5" y1="1695.8" x2="607.3" y2="1695.8" stroke="#b0885f" stroke-width="0.9" stroke-opacity="0.7"/>
<line x1="594.5" y1="1759.4" x2="607.3" y2="1759.4" stroke="#b0885f" stroke-width="0.9" stroke-opacity="0.7"/>
<line x1="607.3" y1="1441.4" x2="620.1" y2="1441.4" stroke="#b0885f" stroke-width="0.9" stroke-opacity="0.7"/>
<line x1="607.3" y1="1505" x2="620.1" y2="1505" stroke="#b0885f" stroke-width="0.9" stroke-opacity="0.7"/>
<line x1="607.3" y1="1568.6" x2="620.1" y2="1568.6" stroke="#b0885f" stroke-width="0.9" stroke-opacity="0.7"/>
<line x1="607.3" y1="1632.2" x2="620.1" y2="1632.2" stroke="#b0885f" stroke-width="0.9" stroke-opacity="0.7"/>
<line x1="607.3" y1="1695.8" x2="620.1" y2="1695.8" stroke="#b0885f" stroke-width="0.9" stroke-opacity="0.7"/>
<line x1="607.3" y1="1759.4" x2="620.1" y2="1759.4" stroke="#b0885f" stroke-width="0.9" stroke-opacity="0.7"/>
<line x1="620.1" y1="1441.4" x2="633" y2="1441.4" stroke="#b0885f" stroke-width="0.9" stroke-opacity="0.7"/>
<line x1="620.1" y1="1505" x2="633" y2="1505" stroke="#b0885f" stroke-width="0.9" stroke-opacity="0.7"/>
<line x1="620.1" y1="1568.6" x2="633" y2="1568.6" stroke="#b0885f" stroke-width="0.9" stroke-opacity="0.7"/>
<line x1="620.1" y1="1632.2" x2="633" y2="1632.2" stroke="#b0885f" stroke-width="0.9" stroke-opacity="0.7"/>
<line x1="620.1" y1="1695.8" x2="633" y2="1695.8" stroke="#b0885f" stroke-width="0.9" stroke-opacity="0.7"/>
<line x1="620.1" y1="1759.4" x2="633" y2="1759.4" stroke="#b0885f" stroke-width="0.9" stroke-opacity="0.7"/>
<line x1="633" y1="1441.4" x2="645.9" y2="1441.4" stroke="#b0885f" stroke-width="0.9" stroke-opacity="0.7"/>
<line x1="633" y1="1505" x2="645.9" y2="1505" stroke="#b0885f" stroke-width="0.9" stroke-opacity="0.7"/>
<line x1="633" y1="1568.6" x2="645.9" y2="1568.6" stroke="#b0885f" stroke-width="0.9" stroke-opacity="0.7"/>
<line x1="633" y1="1632.2" x2="645.9" y2="1632.2" stroke="#b0885f" stroke-width="0.9" stroke-opacity="0.7"/>
<line x1="633" y1="1695.8" x2="645.9" y2="1695.8" stroke="#b0885f" stroke-width="0.9" stroke-opacity="0.7"/>
<line x1="633" y1="1759.4" x2="645.9" y2="1759.4" stroke="#b0885f" stroke-width="0.9" stroke-opacity="0.7"/>
<line x1="645.8" y1="1441.4" x2="658.7" y2="1441.4" stroke="#b0885f" stroke-width="0.9" stroke-opacity="0.7"/>
<line x1="645.8" y1="1505" x2="658.7" y2="1505" stroke="#b0885f" stroke-width="0.9" stroke-opacity="0.7"/>
<line x1="645.8" y1="1568.6" x2="658.7" y2="1568.6" stroke="#b0885f" stroke-width="0.9" stroke-opacity="0.7"/>
<line x1="645.8" y1="1632.2" x2="658.7" y2="1632.2" stroke="#b0885f" stroke-width="0.9" stroke-opacity="0.7"/>
<line x1="645.8" y1="1695.8" x2="658.7" y2="1695.8" stroke="#b0885f" stroke-width="0.9" stroke-opacity="0.7"/>
<line x1="645.8" y1="1759.4" x2="658.7" y2="1759.4" stroke="#b0885f" stroke-width="0.9" stroke-opacity="0.7"/>
<line x1="658.7" y1="1441.4" x2="671.6" y2="1441.4" stroke="#b0885f" stroke-width="0.9" stroke-opacity="0.7"/>
<line x1="658.7" y1="1505" x2="671.6" y2="1505" stroke="#b0885f" stroke-width="0.9" stroke-opacity="0.7"/>
<line x1="658.7" y1="1568.6" x2="671.6" y2="1568.6" stroke="#b0885f" stroke-width="0.9" stroke-opacity="0.7"/>
<line x1="658.7" y1="1632.2" x2="671.6" y2="1632.2" stroke="#b0885f" stroke-width="0.9" stroke-opacity="0.7"/>
<line x1="658.7" y1="1695.8" x2="671.6" y2="1695.8" stroke="#b0885f" stroke-width="0.9" stroke-opacity="0.7"/>
<line x1="658.7" y1="1759.4" x2="671.6" y2="1759.4" stroke="#b0885f" stroke-width="0.9" stroke-opacity="0.7"/>
<line x1="671.5" y1="1441.4" x2="684.4" y2="1441.4" stroke="#b0885f" stroke-width="0.9" stroke-opacity="0.7"/>
<line x1="671.5" y1="1505" x2="684.4" y2="1505" stroke="#b0885f" stroke-width="0.9" stroke-opacity="0.7"/>
<line x1="671.5" y1="1568.6" x2="684.4" y2="1568.6" stroke="#b0885f" stroke-width="0.9" stroke-opacity="0.7"/>
<line x1="671.5" y1="1632.2" x2="684.4" y2="1632.2" stroke="#b0885f" stroke-width="0.9" stroke-opacity="0.7"/>
<line x1="671.5" y1="1695.8" x2="684.4" y2="1695.8" stroke="#b0885f" stroke-width="0.9" stroke-opacity="0.7"/>
<line x1="671.5" y1="1759.4" x2="684.4" y2="1759.4" stroke="#b0885f" stroke-width="0.9" stroke-opacity="0.7"/>
<line x1="684.4" y1="1441.4" x2="697.2" y2="1441.4" stroke="#b0885f" stroke-width="0.9" stroke-opacity="0.7"/>
<line x1="684.4" y1="1505" x2="697.2" y2="1505" stroke="#b0885f" stroke-width="0.9" stroke-opacity="0.7"/>
<line x1="684.4" y1="1568.6" x2="697.2" y2="1568.6" stroke="#b0885f" stroke-width="0.9" stroke-opacity="0.7"/>
<line x1="684.4" y1="1632.2" x2="697.2" y2="1632.2" stroke="#b0885f" stroke-width="0.9" stroke-opacity="0.7"/>
<line x1="684.4" y1="1695.8" x2="697.2" y2="1695.8" stroke="#b0885f" stroke-width="0.9" stroke-opacity="0.7"/>
<line x1="684.4" y1="1759.4" x2="697.2" y2="1759.4" stroke="#b0885f" stroke-width="0.9" stroke-opacity="0.7"/>
<line x1="697.2" y1="1441.4" x2="710.1" y2="1441.4" stroke="#b0885f" stroke-width="0.9" stroke-opacity="0.7"/>
<line x1="697.2" y1="1505" x2="710.1" y2="1505" stroke="#b0885f" stroke-width="0.9" stroke-opacity="0.7"/>
<line x1="697.2" y1="1568.6" x2="710.1" y2="1568.6" stroke="#b0885f" stroke-width="0.9" stroke-opacity="0.7"/>
<line x1="697.2" y1="1632.2" x2="710.1" y2="1632.2" stroke="#b0885f" stroke-width="0.9" stroke-opacity="0.7"/>
<line x1="697.2" y1="1695.8" x2="710.1" y2="1695.8" stroke="#b0885f" stroke-width="0.9" stroke-opacity="0.7"/>
<line x1="697.2" y1="1759.4" x2="710.1" y2="1759.4" stroke="#b0885f" stroke-width="0.9" stroke-opacity="0.7"/>
<line x1="710.1" y1="1441.4" x2="722.9" y2="1441.4" stroke="#b0885f" stroke-width="0.9" stroke-opacity="0.7"/>
<line x1="710.1" y1="1505" x2="722.9" y2="1505" stroke="#b0885f" stroke-width="0.9" stroke-opacity="0.7"/>
<line x1="710.1" y1="1568.6" x2="722.9" y2="1568.6" stroke="#b0885f" stroke-width="0.9" stroke-opacity="0.7"/>
<line x1="710.1" y1="1632.2" x2="722.9" y2="1632.2" stroke="#b0885f" stroke-width="0.9" stroke-opacity="0.7"/>
<line x1="710.1" y1="1695.8" x2="722.9" y2="1695.8" stroke="#b0885f" stroke-width="0.9" stroke-opacity="0.7"/>
<line x1="710.1" y1="1759.4" x2="722.9" y2="1759.4" stroke="#b0885f" stroke-width="0.9" stroke-opacity="0.7"/>
<line x1="723" y1="1441.4" x2="735.8" y2="1441.4" stroke="#b0885f" stroke-width="0.9" stroke-opacity="0.7"/>
<line x1="723" y1="1505" x2="735.8" y2="1505" stroke="#b0885f" stroke-width="0.9" stroke-opacity="0.7"/>
<line x1="723" y1="1568.6" x2="735.8" y2="1568.6" stroke="#b0885f" stroke-width="0.9" stroke-opacity="0.7"/>
<line x1="723" y1="1632.2" x2="735.8" y2="1632.2" stroke="#b0885f" stroke-width="0.9" stroke-opacity="0.7"/>
<line x1="723" y1="1695.8" x2="735.8" y2="1695.8" stroke="#b0885f" stroke-width="0.9" stroke-opacity="0.7"/>
<line x1="723" y1="1759.4" x2="735.8" y2="1759.4" stroke="#b0885f" stroke-width="0.9" stroke-opacity="0.7"/>
<line x1="735.8" y1="1441.4" x2="748.6" y2="1441.4" stroke="#b0885f" stroke-width="0.9" stroke-opacity="0.7"/>
<line x1="735.8" y1="1505" x2="748.6" y2="1505" stroke="#b0885f" stroke-width="0.9" stroke-opacity="0.7"/>
<line x1="735.8" y1="1568.6" x2="748.6" y2="1568.6" stroke="#b0885f" stroke-width="0.9" stroke-opacity="0.7"/>
<line x1="735.8" y1="1632.2" x2="748.6" y2="1632.2" stroke="#b0885f" stroke-width="0.9" stroke-opacity="0.7"/>
<line x1="735.8" y1="1695.8" x2="748.6" y2="1695.8" stroke="#b0885f" stroke-width="0.9" stroke-opacity="0.7"/>
<line x1="735.8" y1="1759.4" x2="748.6" y2="1759.4" stroke="#b0885f" stroke-width="0.9" stroke-opacity="0.7"/>
<line x1="748.6" y1="1441.4" x2="761.5" y2="1441.4" stroke="#b0885f" stroke-width="0.9" stroke-opacity="0.7"/>
<line x1="748.6" y1="1505" x2="761.5" y2="1505" stroke="#b0885f" stroke-width="0.9" stroke-opacity="0.7"/>
<line x1="748.6" y1="1568.6" x2="761.5" y2="1568.6" stroke="#b0885f" stroke-width="0.9" stroke-opacity="0.7"/>
<line x1="748.6" y1="1632.2" x2="761.5" y2="1632.2" stroke="#b0885f" stroke-width="0.9" stroke-opacity="0.7"/>
<line x1="748.6" y1="1695.8" x2="761.5" y2="1695.8" stroke="#b0885f" stroke-width="0.9" stroke-opacity="0.7"/>
<line x1="748.6" y1="1759.4" x2="761.5" y2="1759.4" stroke="#b0885f" stroke-width="0.9" stroke-opacity="0.7"/>
<line x1="761.5" y1="1473.2" x2="774.4" y2="1473.2" stroke="#b0885f" stroke-width="0.9" stroke-opacity="0.7"/>
<line x1="761.5" y1="1536.8" x2="774.4" y2="1536.8" stroke="#b0885f" stroke-width="0.9" stroke-opacity="0.7"/>
<line x1="761.5" y1="1600.4" x2="774.4" y2="1600.4" stroke="#b0885f" stroke-width="0.9" stroke-opacity="0.7"/>
<line x1="761.5" y1="1664" x2="774.4" y2="1664" stroke="#b0885f" stroke-width="0.9" stroke-opacity="0.7"/>
<line x1="761.5" y1="1727.6" x2="774.4" y2="1727.6" stroke="#b0885f" stroke-width="0.9" stroke-opacity="0.7"/>
<line x1="774.4" y1="1441.4" x2="787.2" y2="1441.4" stroke="#b0885f" stroke-width="0.9" stroke-opacity="0.7"/>
<line x1="774.4" y1="1505" x2="787.2" y2="1505" stroke="#b0885f" stroke-width="0.9" stroke-opacity="0.7"/>
<line x1="774.4" y1="1568.6" x2="787.2" y2="1568.6" stroke="#b0885f" stroke-width="0.9" stroke-opacity="0.7"/>
<line x1="774.4" y1="1632.2" x2="787.2" y2="1632.2" stroke="#b0885f" stroke-width="0.9" stroke-opacity="0.7"/>
<line x1="774.4" y1="1695.8" x2="787.2" y2="1695.8" stroke="#b0885f" stroke-width="0.9" stroke-opacity="0.7"/>
<line x1="774.4" y1="1759.4" x2="787.2" y2="1759.4" stroke="#b0885f" stroke-width="0.9" stroke-opacity="0.7"/>
<line x1="787.2" y1="1473.2" x2="800" y2="1473.2" stroke="#b0885f" stroke-width="0.9" stroke-opacity="0.7"/>
<line x1="787.2" y1="1536.8" x2="800" y2="1536.8" stroke="#b0885f" stroke-width="0.9" stroke-opacity="0.7"/>
<line x1="787.2" y1="1600.4" x2="800" y2="1600.4" stroke="#b0885f" stroke-width="0.9" stroke-opacity="0.7"/>
<line x1="787.2" y1="1664" x2="800" y2="1664" stroke="#b0885f" stroke-width="0.9" stroke-opacity="0.7"/>
<line x1="787.2" y1="1727.6" x2="800" y2="1727.6" stroke="#b0885f" stroke-width="0.9" stroke-opacity="0.7"/>
<line x1="800" y1="1441.4" x2="812.9" y2="1441.4" stroke="#b0885f" stroke-width="0.9" stroke-opacity="0.7"/>
<line x1="800" y1="1505" x2="812.9" y2="1505" stroke="#b0885f" stroke-width="0.9" stroke-opacity="0.7"/>
<line x1="800" y1="1568.6" x2="812.9" y2="1568.6" stroke="#b0885f" stroke-width="0.9" stroke-opacity="0.7"/>
<line x1="800" y1="1632.2" x2="812.9" y2="1632.2" stroke="#b0885f" stroke-width="0.9" stroke-opacity="0.7"/>
<line x1="800" y1="1695.8" x2="812.9" y2="1695.8" stroke="#b0885f" stroke-width="0.9" stroke-opacity="0.7"/>
<line x1="800" y1="1759.4" x2="812.9" y2="1759.4" stroke="#b0885f" stroke-width="0.9" stroke-opacity="0.7"/>
<line x1="812.9" y1="1441.4" x2="825.8" y2="1441.4" stroke="#b0885f" stroke-width="0.9" stroke-opacity="0.7"/>
<line x1="812.9" y1="1505" x2="825.8" y2="1505" stroke="#b0885f" stroke-width="0.9" stroke-opacity="0.7"/>
<line x1="812.9" y1="1568.6" x2="825.8" y2="1568.6" stroke="#b0885f" stroke-width="0.9" stroke-opacity="0.7"/>
<line x1="812.9" y1="1632.2" x2="825.8" y2="1632.2" stroke="#b0885f" stroke-width="0.9" stroke-opacity="0.7"/>
<line x1="812.9" y1="1695.8" x2="825.8" y2="1695.8" stroke="#b0885f" stroke-width="0.9" stroke-opacity="0.7"/>
<line x1="812.9" y1="1759.4" x2="825.8" y2="1759.4" stroke="#b0885f" stroke-width="0.9" stroke-opacity="0.7"/>
<line x1="825.8" y1="1473.2" x2="838.6" y2="1473.2" stroke="#b0885f" stroke-width="0.9" stroke-opacity="0.7"/>
<line x1="825.8" y1="1536.8" x2="838.6" y2="1536.8" stroke="#b0885f" stroke-width="0.9" stroke-opacity="0.7"/>
<line x1="825.8" y1="1600.4" x2="838.6" y2="1600.4" stroke="#b0885f" stroke-width="0.9" stroke-opacity="0.7"/>
<line x1="825.8" y1="1664" x2="838.6" y2="1664" stroke="#b0885f" stroke-width="0.9" stroke-opacity="0.7"/>
<line x1="825.8" y1="1727.6" x2="838.6" y2="1727.6" stroke="#b0885f" stroke-width="0.9" stroke-opacity="0.7"/>
<line x1="838.6" y1="1441.4" x2="851.5" y2="1441.4" stroke="#b0885f" stroke-width="0.9" stroke-opacity="0.7"/>
<line x1="838.6" y1="1505" x2="851.5" y2="1505" stroke="#b0885f" stroke-width="0.9" stroke-opacity="0.7"/>
<line x1="838.6" y1="1568.6" x2="851.5" y2="1568.6" stroke="#b0885f" stroke-width="0.9" stroke-opacity="0.7"/>
<line x1="838.6" y1="1632.2" x2="851.5" y2="1632.2" stroke="#b0885f" stroke-width="0.9" stroke-opacity="0.7"/>
<line x1="838.6" y1="1695.8" x2="851.5" y2="1695.8" stroke="#b0885f" stroke-width="0.9" stroke-opacity="0.7"/>
<line x1="838.6" y1="1759.4" x2="851.5" y2="1759.4" stroke="#b0885f" stroke-width="0.9" stroke-opacity="0.7"/>
<line x1="851.4" y1="1441.4" x2="864.3" y2="1441.4" stroke="#b0885f" stroke-width="0.9" stroke-opacity="0.7"/>
<line x1="851.4" y1="1505" x2="864.3" y2="1505" stroke="#b0885f" stroke-width="0.9" stroke-opacity="0.7"/>
<line x1="851.4" y1="1568.6" x2="864.3" y2="1568.6" stroke="#b0885f" stroke-width="0.9" stroke-opacity="0.7"/>
<line x1="851.4" y1="1632.2" x2="864.3" y2="1632.2" stroke="#b0885f" stroke-width="0.9" stroke-opacity="0.7"/>
<line x1="851.4" y1="1695.8" x2="864.3" y2="1695.8" stroke="#b0885f" stroke-width="0.9" stroke-opacity="0.7"/>
<line x1="851.4" y1="1759.4" x2="864.3" y2="1759.4" stroke="#b0885f" stroke-width="0.9" stroke-opacity="0.7"/>
<line x1="864.3" y1="1441.4" x2="877.1" y2="1441.4" stroke="#b0885f" stroke-width="0.9" stroke-opacity="0.7"/>
<line x1="864.3" y1="1505" x2="877.1" y2="1505" stroke="#b0885f" stroke-width="0.9" stroke-opacity="0.7"/>
<line x1="864.3" y1="1568.6" x2="877.1" y2="1568.6" stroke="#b0885f" stroke-width="0.9" stroke-opacity="0.7"/>
<line x1="864.3" y1="1632.2" x2="877.1" y2="1632.2" stroke="#b0885f" stroke-width="0.9" stroke-opacity="0.7"/>
<line x1="864.3" y1="1695.8" x2="877.1" y2="1695.8" stroke="#b0885f" stroke-width="0.9" stroke-opacity="0.7"/>
<line x1="864.3" y1="1759.4" x2="877.1" y2="1759.4" stroke="#b0885f" stroke-width="0.9" stroke-opacity="0.7"/>
<line x1="877.1" y1="1441.4" x2="890" y2="1441.4" stroke="#b0885f" stroke-width="0.9" stroke-opacity="0.7"/>
<line x1="877.1" y1="1505" x2="890" y2="1505" stroke="#b0885f" stroke-width="0.9" stroke-opacity="0.7"/>
<line x1="877.1" y1="1568.6" x2="890" y2="1568.6" stroke="#b0885f" stroke-width="0.9" stroke-opacity="0.7"/>
<line x1="877.1" y1="1632.2" x2="890" y2="1632.2" stroke="#b0885f" stroke-width="0.9" stroke-opacity="0.7"/>
<line x1="877.1" y1="1695.8" x2="890" y2="1695.8" stroke="#b0885f" stroke-width="0.9" stroke-opacity="0.7"/>
<line x1="877.1" y1="1759.4" x2="890" y2="1759.4" stroke="#b0885f" stroke-width="0.9" stroke-opacity="0.7"/>
<line x1="890" y1="1441.4" x2="902.9" y2="1441.4" stroke="#b0885f" stroke-width="0.9" stroke-opacity="0.7"/>
<line x1="890" y1="1505" x2="902.9" y2="1505" stroke="#b0885f" stroke-width="0.9" stroke-opacity="0.7"/>
<line x1="890" y1="1568.6" x2="902.9" y2="1568.6" stroke="#b0885f" stroke-width="0.9" stroke-opacity="0.7"/>
<line x1="890" y1="1632.2" x2="902.9" y2="1632.2" stroke="#b0885f" stroke-width="0.9" stroke-opacity="0.7"/>
<line x1="890" y1="1695.8" x2="902.9" y2="1695.8" stroke="#b0885f" stroke-width="0.9" stroke-opacity="0.7"/>
<line x1="890" y1="1759.4" x2="902.9" y2="1759.4" stroke="#b0885f" stroke-width="0.9" stroke-opacity="0.7"/>
<line x1="902.9" y1="1473.2" x2="915.7" y2="1473.2" stroke="#b0885f" stroke-width="0.9" stroke-opacity="0.7"/>
<line x1="902.9" y1="1536.8" x2="915.7" y2="1536.8" stroke="#b0885f" stroke-width="0.9" stroke-opacity="0.7"/>
<line x1="902.9" y1="1600.4" x2="915.7" y2="1600.4" stroke="#b0885f" stroke-width="0.9" stroke-opacity="0.7"/>
<line x1="902.9" y1="1664" x2="915.7" y2="1664" stroke="#b0885f" stroke-width="0.9" stroke-opacity="0.7"/>
<line x1="902.9" y1="1727.6" x2="915.7" y2="1727.6" stroke="#b0885f" stroke-width="0.9" stroke-opacity="0.7"/>
<line x1="915.7" y1="1441.4" x2="928.5" y2="1441.4" stroke="#b0885f" stroke-width="0.9" stroke-opacity="0.7"/>
<line x1="915.7" y1="1505" x2="928.5" y2="1505" stroke="#b0885f" stroke-width="0.9" stroke-opacity="0.7"/>
<line x1="915.7" y1="1568.6" x2="928.5" y2="1568.6" stroke="#b0885f" stroke-width="0.9" stroke-opacity="0.7"/>
<line x1="915.7" y1="1632.2" x2="928.5" y2="1632.2" stroke="#b0885f" stroke-width="0.9" stroke-opacity="0.7"/>
<line x1="915.7" y1="1695.8" x2="928.5" y2="1695.8" stroke="#b0885f" stroke-width="0.9" stroke-opacity="0.7"/>
<line x1="915.7" y1="1759.4" x2="928.5" y2="1759.4" stroke="#b0885f" stroke-width="0.9" stroke-opacity="0.7"/>
<line x1="928.5" y1="1441.4" x2="941.4" y2="1441.4" stroke="#b0885f" stroke-width="0.9" stroke-opacity="0.7"/>
<line x1="928.5" y1="1505" x2="941.4" y2="1505" stroke="#b0885f" stroke-width="0.9" stroke-opacity="0.7"/>
<line x1="928.5" y1="1568.6" x2="941.4" y2="1568.6" stroke="#b0885f" stroke-width="0.9" stroke-opacity="0.7"/>
<line x1="928.5" y1="1632.2" x2="941.4" y2="1632.2" stroke="#b0885f" stroke-width="0.9" stroke-opacity="0.7"/>
<line x1="928.5" y1="1695.8" x2="941.4" y2="1695.8" stroke="#b0885f" stroke-width="0.9" stroke-opacity="0.7"/>
<line x1="928.5" y1="1759.4" x2="941.4" y2="1759.4" stroke="#b0885f" stroke-width="0.9" stroke-opacity="0.7"/>
<line x1="941.4" y1="1441.4" x2="954.2" y2="1441.4" stroke="#b0885f" stroke-width="0.9" stroke-opacity="0.7"/>
<line x1="941.4" y1="1505" x2="954.2" y2="1505" stroke="#b0885f" stroke-width="0.9" stroke-opacity="0.7"/>
<line x1="941.4" y1="1568.6" x2="954.2" y2="1568.6" stroke="#b0885f" stroke-width="0.9" stroke-opacity="0.7"/>
<line x1="941.4" y1="1632.2" x2="954.2" y2="1632.2" stroke="#b0885f" stroke-width="0.9" stroke-opacity="0.7"/>
<line x1="941.4" y1="1695.8" x2="954.2" y2="1695.8" stroke="#b0885f" stroke-width="0.9" stroke-opacity="0.7"/>
<line x1="941.4" y1="1759.4" x2="954.2" y2="1759.4" stroke="#b0885f" stroke-width="0.9" stroke-opacity="0.7"/>
<line x1="954.2" y1="1441.4" x2="967.1" y2="1441.4" stroke="#b0885f" stroke-width="0.9" stroke-opacity="0.7"/>
<line x1="954.2" y1="1505" x2="967.1" y2="1505" stroke="#b0885f" stroke-width="0.9" stroke-opacity="0.7"/>
<line x1="954.2" y1="1568.6" x2="967.1" y2="1568.6" stroke="#b0885f" stroke-width="0.9" stroke-opacity="0.7"/>
<line x1="954.2" y1="1632.2" x2="967.1" y2="1632.2" stroke="#b0885f" stroke-width="0.9" stroke-opacity="0.7"/>
<line x1="954.2" y1="1695.8" x2="967.1" y2="1695.8" stroke="#b0885f" stroke-width="0.9" stroke-opacity="0.7"/>
<line x1="954.2" y1="1759.4" x2="967.1" y2="1759.4" stroke="#b0885f" stroke-width="0.9" stroke-opacity="0.7"/>
<line x1="967.1" y1="1441.4" x2="980" y2="1441.4" stroke="#b0885f" stroke-width="0.9" stroke-opacity="0.7"/>
<line x1="967.1" y1="1505" x2="980" y2="1505" stroke="#b0885f" stroke-width="0.9" stroke-opacity="0.7"/>
<line x1="967.1" y1="1568.6" x2="980" y2="1568.6" stroke="#b0885f" stroke-width="0.9" stroke-opacity="0.7"/>
<line x1="967.1" y1="1632.2" x2="980" y2="1632.2" stroke="#b0885f" stroke-width="0.9" stroke-opacity="0.7"/>
<line x1="967.1" y1="1695.8" x2="980" y2="1695.8" stroke="#b0885f" stroke-width="0.9" stroke-opacity="0.7"/>
<line x1="967.1" y1="1759.4" x2="980" y2="1759.4" stroke="#b0885f" stroke-width="0.9" stroke-opacity="0.7"/>
<line x1="979.9" y1="1441.4" x2="992.8" y2="1441.4" stroke="#b0885f" stroke-width="0.9" stroke-opacity="0.7"/>
<line x1="979.9" y1="1505" x2="992.8" y2="1505" stroke="#b0885f" stroke-width="0.9" stroke-opacity="0.7"/>
<line x1="979.9" y1="1568.6" x2="992.8" y2="1568.6" stroke="#b0885f" stroke-width="0.9" stroke-opacity="0.7"/>
<line x1="979.9" y1="1632.2" x2="992.8" y2="1632.2" stroke="#b0885f" stroke-width="0.9" stroke-opacity="0.7"/>
<line x1="979.9" y1="1695.8" x2="992.8" y2="1695.8" stroke="#b0885f" stroke-width="0.9" stroke-opacity="0.7"/>
<line x1="979.9" y1="1759.4" x2="992.8" y2="1759.4" stroke="#b0885f" stroke-width="0.9" stroke-opacity="0.7"/>
<line x1="992.8" y1="1441.4" x2="1005.6" y2="1441.4" stroke="#b0885f" stroke-width="0.9" stroke-opacity="0.7"/>
<line x1="992.8" y1="1505" x2="1005.6" y2="1505" stroke="#b0885f" stroke-width="0.9" stroke-opacity="0.7"/>
<line x1="992.8" y1="1568.6" x2="1005.6" y2="1568.6" stroke="#b0885f" stroke-width="0.9" stroke-opacity="0.7"/>
<line x1="992.8" y1="1632.2" x2="1005.6" y2="1632.2" stroke="#b0885f" stroke-width="0.9" stroke-opacity="0.7"/>
<line x1="992.8" y1="1695.8" x2="1005.6" y2="1695.8" stroke="#b0885f" stroke-width="0.9" stroke-opacity="0.7"/>
<line x1="992.8" y1="1759.4" x2="1005.6" y2="1759.4" stroke="#b0885f" stroke-width="0.9" stroke-opacity="0.7"/>
<line x1="1005.6" y1="1441.4" x2="1018.5" y2="1441.4" stroke="#b0885f" stroke-width="0.9" stroke-opacity="0.7"/>
<line x1="1005.6" y1="1505" x2="1018.5" y2="1505" stroke="#b0885f" stroke-width="0.9" stroke-opacity="0.7"/>
<line x1="1005.6" y1="1568.6" x2="1018.5" y2="1568.6" stroke="#b0885f" stroke-width="0.9" stroke-opacity="0.7"/>
<line x1="1005.6" y1="1632.2" x2="1018.5" y2="1632.2" stroke="#b0885f" stroke-width="0.9" stroke-opacity="0.7"/>
<line x1="1005.6" y1="1695.8" x2="1018.5" y2="1695.8" stroke="#b0885f" stroke-width="0.9" stroke-opacity="0.7"/>
<line x1="1005.6" y1="1759.4" x2="1018.5" y2="1759.4" stroke="#b0885f" stroke-width="0.9" stroke-opacity="0.7"/>
<line x1="1018.5" y1="1441.4" x2="1031.3" y2="1441.4" stroke="#b0885f" stroke-width="0.9" stroke-opacity="0.7"/>
<line x1="1018.5" y1="1505" x2="1031.3" y2="1505" stroke="#b0885f" stroke-width="0.9" stroke-opacity="0.7"/>
<line x1="1018.5" y1="1568.6" x2="1031.3" y2="1568.6" stroke="#b0885f" stroke-width="0.9" stroke-opacity="0.7"/>
<line x1="1018.5" y1="1632.2" x2="1031.3" y2="1632.2" stroke="#b0885f" stroke-width="0.9" stroke-opacity="0.7"/>
<line x1="1018.5" y1="1695.8" x2="1031.3" y2="1695.8" stroke="#b0885f" stroke-width="0.9" stroke-opacity="0.7"/>
<line x1="1018.5" y1="1759.4" x2="1031.3" y2="1759.4" stroke="#b0885f" stroke-width="0.9" stroke-opacity="0.7"/>
<line x1="1031.3" y1="1473.2" x2="1044.2" y2="1473.2" stroke="#b0885f" stroke-width="0.9" stroke-opacity="0.7"/>
<line x1="1031.3" y1="1536.8" x2="1044.2" y2="1536.8" stroke="#b0885f" stroke-width="0.9" stroke-opacity="0.7"/>
<line x1="1031.3" y1="1600.4" x2="1044.2" y2="1600.4" stroke="#b0885f" stroke-width="0.9" stroke-opacity="0.7"/>
<line x1="1031.3" y1="1664" x2="1044.2" y2="1664" stroke="#b0885f" stroke-width="0.9" stroke-opacity="0.7"/>
<line x1="1031.3" y1="1727.6" x2="1044.2" y2="1727.6" stroke="#b0885f" stroke-width="0.9" stroke-opacity="0.7"/>
<line x1="1044.2" y1="1441.4" x2="1057" y2="1441.4" stroke="#b0885f" stroke-width="0.9" stroke-opacity="0.7"/>
<line x1="1044.2" y1="1505" x2="1057" y2="1505" stroke="#b0885f" stroke-width="0.9" stroke-opacity="0.7"/>
<line x1="1044.2" y1="1568.6" x2="1057" y2="1568.6" stroke="#b0885f" stroke-width="0.9" stroke-opacity="0.7"/>
<line x1="1044.2" y1="1632.2" x2="1057" y2="1632.2" stroke="#b0885f" stroke-width="0.9" stroke-opacity="0.7"/>
<line x1="1044.2" y1="1695.8" x2="1057" y2="1695.8" stroke="#b0885f" stroke-width="0.9" stroke-opacity="0.7"/>
<line x1="1044.2" y1="1759.4" x2="1057" y2="1759.4" stroke="#b0885f" stroke-width="0.9" stroke-opacity="0.7"/>
<line x1="1057" y1="1441.4" x2="1069.9" y2="1441.4" stroke="#b0885f" stroke-width="0.9" stroke-opacity="0.7"/>
<line x1="1057" y1="1505" x2="1069.9" y2="1505" stroke="#b0885f" stroke-width="0.9" stroke-opacity="0.7"/>
<line x1="1057" y1="1568.6" x2="1069.9" y2="1568.6" stroke="#b0885f" stroke-width="0.9" stroke-opacity="0.7"/>
<line x1="1057" y1="1632.2" x2="1069.9" y2="1632.2" stroke="#b0885f" stroke-width="0.9" stroke-opacity="0.7"/>
<line x1="1057" y1="1695.8" x2="1069.9" y2="1695.8" stroke="#b0885f" stroke-width="0.9" stroke-opacity="0.7"/>
<line x1="1057" y1="1759.4" x2="1069.9" y2="1759.4" stroke="#b0885f" stroke-width="0.9" stroke-opacity="0.7"/>
<line x1="1069.9" y1="1441.4" x2="1082.8" y2="1441.4" stroke="#b0885f" stroke-width="0.9" stroke-opacity="0.7"/>
<line x1="1069.9" y1="1505" x2="1082.8" y2="1505" stroke="#b0885f" stroke-width="0.9" stroke-opacity="0.7"/>
<line x1="1069.9" y1="1568.6" x2="1082.8" y2="1568.6" stroke="#b0885f" stroke-width="0.9" stroke-opacity="0.7"/>
<line x1="1069.9" y1="1632.2" x2="1082.8" y2="1632.2" stroke="#b0885f" stroke-width="0.9" stroke-opacity="0.7"/>
<line x1="1069.9" y1="1695.8" x2="1082.8" y2="1695.8" stroke="#b0885f" stroke-width="0.9" stroke-opacity="0.7"/>
<line x1="1069.9" y1="1759.4" x2="1082.8" y2="1759.4" stroke="#b0885f" stroke-width="0.9" stroke-opacity="0.7"/>
<line x1="1082.8" y1="1441.4" x2="1095.6" y2="1441.4" stroke="#b0885f" stroke-width="0.9" stroke-opacity="0.7"/>
<line x1="1082.8" y1="1505" x2="1095.6" y2="1505" stroke="#b0885f" stroke-width="0.9" stroke-opacity="0.7"/>
<line x1="1082.8" y1="1568.6" x2="1095.6" y2="1568.6" stroke="#b0885f" stroke-width="0.9" stroke-opacity="0.7"/>
<line x1="1082.8" y1="1632.2" x2="1095.6" y2="1632.2" stroke="#b0885f" stroke-width="0.9" stroke-opacity="0.7"/>
<line x1="1082.8" y1="1695.8" x2="1095.6" y2="1695.8" stroke="#b0885f" stroke-width="0.9" stroke-opacity="0.7"/>
<line x1="1082.8" y1="1759.4" x2="1095.6" y2="1759.4" stroke="#b0885f" stroke-width="0.9" stroke-opacity="0.7"/>
<line x1="1095.6" y1="1441.4" x2="1108.4" y2="1441.4" stroke="#b0885f" stroke-width="0.9" stroke-opacity="0.7"/>
<line x1="1095.6" y1="1505" x2="1108.4" y2="1505" stroke="#b0885f" stroke-width="0.9" stroke-opacity="0.7"/>
<line x1="1095.6" y1="1568.6" x2="1108.4" y2="1568.6" stroke="#b0885f" stroke-width="0.9" stroke-opacity="0.7"/>
<line x1="1095.6" y1="1632.2" x2="1108.4" y2="1632.2" stroke="#b0885f" stroke-width="0.9" stroke-opacity="0.7"/>
<line x1="1095.6" y1="1695.8" x2="1108.4" y2="1695.8" stroke="#b0885f" stroke-width="0.9" stroke-opacity="0.7"/>
<line x1="1095.6" y1="1759.4" x2="1108.4" y2="1759.4" stroke="#b0885f" stroke-width="0.9" stroke-opacity="0.7"/>
<line x1="1108.4" y1="1441.4" x2="1121.3" y2="1441.4" stroke="#b0885f" stroke-width="0.9" stroke-opacity="0.7"/>
<line x1="1108.4" y1="1505" x2="1121.3" y2="1505" stroke="#b0885f" stroke-width="0.9" stroke-opacity="0.7"/>
<line x1="1108.4" y1="1568.6" x2="1121.3" y2="1568.6" stroke="#b0885f" stroke-width="0.9" stroke-opacity="0.7"/>
<line x1="1108.4" y1="1632.2" x2="1121.3" y2="1632.2" stroke="#b0885f" stroke-width="0.9" stroke-opacity="0.7"/>
<line x1="1108.4" y1="1695.8" x2="1121.3" y2="1695.8" stroke="#b0885f" stroke-width="0.9" stroke-opacity="0.7"/>
<line x1="1108.4" y1="1759.4" x2="1121.3" y2="1759.4" stroke="#b0885f" stroke-width="0.9" stroke-opacity="0.7"/>
<line x1="1121.3" y1="1441.4" x2="1134.1" y2="1441.4" stroke="#b0885f" stroke-width="0.9" stroke-opacity="0.7"/>
<line x1="1121.3" y1="1505" x2="1134.1" y2="1505" stroke="#b0885f" stroke-width="0.9" stroke-opacity="0.7"/>
<line x1="1121.3" y1="1568.6" x2="1134.1" y2="1568.6" stroke="#b0885f" stroke-width="0.9" stroke-opacity="0.7"/>
<line x1="1121.3" y1="1632.2" x2="1134.1" y2="1632.2" stroke="#b0885f" stroke-width="0.9" stroke-opacity="0.7"/>
<line x1="1121.3" y1="1695.8" x2="1134.1" y2="1695.8" stroke="#b0885f" stroke-width="0.9" stroke-opacity="0.7"/>
<line x1="1121.3" y1="1759.4" x2="1134.1" y2="1759.4" stroke="#b0885f" stroke-width="0.9" stroke-opacity="0.7"/>
<line x1="1134.2" y1="1441.4" x2="1147" y2="1441.4" stroke="#b0885f" stroke-width="0.9" stroke-opacity="0.7"/>
<line x1="1134.2" y1="1505" x2="1147" y2="1505" stroke="#b0885f" stroke-width="0.9" stroke-opacity="0.7"/>
<line x1="1134.2" y1="1568.6" x2="1147" y2="1568.6" stroke="#b0885f" stroke-width="0.9" stroke-opacity="0.7"/>
<line x1="1134.2" y1="1632.2" x2="1147" y2="1632.2" stroke="#b0885f" stroke-width="0.9" stroke-opacity="0.7"/>
<line x1="1134.2" y1="1695.8" x2="1147" y2="1695.8" stroke="#b0885f" stroke-width="0.9" stroke-opacity="0.7"/>
<line x1="1134.2" y1="1759.4" x2="1147" y2="1759.4" stroke="#b0885f" stroke-width="0.9" stroke-opacity="0.7"/>
<line x1="1147" y1="1441.4" x2="1159.8" y2="1441.4" stroke="#b0885f" stroke-width="0.9" stroke-opacity="0.7"/>
<line x1="1147" y1="1505" x2="1159.8" y2="1505" stroke="#b0885f" stroke-width="0.9" stroke-opacity="0.7"/>
<line x1="1147" y1="1568.6" x2="1159.8" y2="1568.6" stroke="#b0885f" stroke-width="0.9" stroke-opacity="0.7"/>
<line x1="1147" y1="1632.2" x2="1159.8" y2="1632.2" stroke="#b0885f" stroke-width="0.9" stroke-opacity="0.7"/>
<line x1="1147" y1="1695.8" x2="1159.8" y2="1695.8" stroke="#b0885f" stroke-width="0.9" stroke-opacity="0.7"/>
<line x1="1147" y1="1759.4" x2="1159.8" y2="1759.4" stroke="#b0885f" stroke-width="0.9" stroke-opacity="0.7"/>
<line x1="1159.8" y1="1441.4" x2="1172.7" y2="1441.4" stroke="#b0885f" stroke-width="0.9" stroke-opacity="0.7"/>
<line x1="1159.8" y1="1505" x2="1172.7" y2="1505" stroke="#b0885f" stroke-width="0.9" stroke-opacity="0.7"/>
<line x1="1159.8" y1="1568.6" x2="1172.7" y2="1568.6" stroke="#b0885f" stroke-width="0.9" stroke-opacity="0.7"/>
<line x1="1159.8" y1="1632.2" x2="1172.7" y2="1632.2" stroke="#b0885f" stroke-width="0.9" stroke-opacity="0.7"/>
<line x1="1159.8" y1="1695.8" x2="1172.7" y2="1695.8" stroke="#b0885f" stroke-width="0.9" stroke-opacity="0.7"/>
<line x1="1159.8" y1="1759.4" x2="1172.7" y2="1759.4" stroke="#b0885f" stroke-width="0.9" stroke-opacity="0.7"/>
<line x1="1172.7" y1="1473.2" x2="1185.5" y2="1473.2" stroke="#b0885f" stroke-width="0.9" stroke-opacity="0.7"/>
<line x1="1172.7" y1="1536.8" x2="1185.5" y2="1536.8" stroke="#b0885f" stroke-width="0.9" stroke-opacity="0.7"/>
<line x1="1172.7" y1="1600.4" x2="1185.5" y2="1600.4" stroke="#b0885f" stroke-width="0.9" stroke-opacity="0.7"/>
<line x1="1172.7" y1="1664" x2="1185.5" y2="1664" stroke="#b0885f" stroke-width="0.9" stroke-opacity="0.7"/>
<line x1="1172.7" y1="1727.6" x2="1185.5" y2="1727.6" stroke="#b0885f" stroke-width="0.9" stroke-opacity="0.7"/>
<line x1="1185.5" y1="1441.4" x2="1195" y2="1441.4" stroke="#b0885f" stroke-width="0.9" stroke-opacity="0.7"/>
<line x1="1185.5" y1="1505" x2="1195" y2="1505" stroke="#b0885f" stroke-width="0.9" stroke-opacity="0.7"/>
<line x1="1185.5" y1="1568.6" x2="1195" y2="1568.6" stroke="#b0885f" stroke-width="0.9" stroke-opacity="0.7"/>
<line x1="1185.5" y1="1632.2" x2="1195" y2="1632.2" stroke="#b0885f" stroke-width="0.9" stroke-opacity="0.7"/>
<line x1="1185.5" y1="1695.8" x2="1195" y2="1695.8" stroke="#b0885f" stroke-width="0.9" stroke-opacity="0.7"/>
<line x1="1185.5" y1="1759.4" x2="1195" y2="1759.4" stroke="#b0885f" stroke-width="0.9" stroke-opacity="0.7"/>
</g>
<g fill="#8a5c34" filter="url(#b1)">
<ellipse cx="334.1" cy="1629" rx="1.9" ry="2.5" opacity="0.5"/>
<ellipse cx="993" cy="1773.8" rx="1.7" ry="2.2" opacity="0.4"/>
<ellipse cx="262.1" cy="1614.7" rx="1.3" ry="1.7" opacity="0.3"/>
<ellipse cx="568.6" cy="1467.7" rx="1.6" ry="2.1" opacity="0.4"/>
<ellipse cx="546.3" cy="1545" rx="1.1" ry="1.5" opacity="0.5"/>
<ellipse cx="623.2" cy="1470.5" rx="1.6" ry="2.1" opacity="0.3"/>
<ellipse cx="522.9" cy="1770.6" rx="1.6" ry="2.1" opacity="0.4"/>
<ellipse cx="867.2" cy="1724" rx="0.9" ry="1.2" opacity="0.6"/>
<ellipse cx="314.5" cy="1494.2" rx="1.7" ry="2.3" opacity="0.5"/>
<ellipse cx="411.5" cy="1629.7" rx="1.9" ry="2.4" opacity="0.4"/>
<ellipse cx="1177" cy="1726.4" rx="0.8" ry="1.1" opacity="0.4"/>
<ellipse cx="683.5" cy="1598.2" rx="1.2" ry="1.5" opacity="0.4"/>
<ellipse cx="490.2" cy="1446.5" rx="1.3" ry="1.7" opacity="0.6"/>
<ellipse cx="447.5" cy="1768" rx="1.9" ry="2.5" opacity="0.4"/>
<ellipse cx="528.5" cy="1651.7" rx="1.2" ry="1.6" opacity="0.4"/>
<ellipse cx="292.1" cy="1546" rx="1.8" ry="2.4" opacity="0.5"/>
<ellipse cx="774.1" cy="1446.3" rx="1.5" ry="2" opacity="0.5"/>
<ellipse cx="385" cy="1728.6" rx="1.9" ry="2.5" opacity="0.4"/>
<ellipse cx="765.2" cy="1709.2" rx="1.9" ry="2.4" opacity="0.6"/>
<ellipse cx="336.3" cy="1769.4" rx="1.5" ry="2" opacity="0.6"/>
<ellipse cx="1185.1" cy="1779" rx="1.2" ry="1.6" opacity="0.4"/>
<ellipse cx="296.7" cy="1517.6" rx="1.2" ry="1.6" opacity="0.4"/>
<ellipse cx="845.8" cy="1779.2" rx="1.2" ry="1.5" opacity="0.5"/>
<ellipse cx="1098.7" cy="1735.9" rx="1.5" ry="2" opacity="0.6"/>
<ellipse cx="880.8" cy="1611" rx="1.8" ry="2.3" opacity="0.4"/>
<ellipse cx="444.1" cy="1751.1" rx="1.4" ry="1.9" opacity="0.4"/>
<ellipse cx="569.4" cy="1508.1" rx="1.9" ry="2.5" opacity="0.3"/>
<ellipse cx="893.7" cy="1623.5" rx="1.7" ry="2.2" opacity="0.6"/>
<ellipse cx="361.9" cy="1664.3" rx="1.1" ry="1.4" opacity="0.4"/>
<ellipse cx="320.6" cy="1602.9" rx="1.9" ry="2.5" opacity="0.5"/>
<ellipse cx="339.3" cy="1666.1" rx="1.9" ry="2.5" opacity="0.4"/>
<ellipse cx="1046.2" cy="1637.4" rx="1" ry="1.3" opacity="0.5"/>
<ellipse cx="333.3" cy="1681.8" rx="1.7" ry="2.2" opacity="0.5"/>
<ellipse cx="875.3" cy="1457.8" rx="1.4" ry="1.8" opacity="0.6"/>
<ellipse cx="948.9" cy="1490.6" rx="1.9" ry="2.5" opacity="0.6"/>
<ellipse cx="685.6" cy="1781.6" rx="1.5" ry="1.9" opacity="0.4"/>
<ellipse cx="1124.1" cy="1773.2" rx="1.8" ry="2.3" opacity="0.6"/>
<ellipse cx="1091.4" cy="1618.9" rx="1.5" ry="2" opacity="0.5"/>
<ellipse cx="845.2" cy="1528.2" rx="1.3" ry="1.7" opacity="0.5"/>
<ellipse cx="1112.2" cy="1628.5" rx="1.5" ry="1.9" opacity="0.3"/>
<ellipse cx="816.7" cy="1596.4" rx="1.4" ry="1.9" opacity="0.6"/>
<ellipse cx="844.7" cy="1704.6" rx="1.5" ry="1.9" opacity="0.5"/>
<ellipse cx="884.1" cy="1449.3" rx="0.9" ry="1.2" opacity="0.5"/>
<ellipse cx="632" cy="1633.1" rx="0.9" ry="1.2" opacity="0.5"/>
<ellipse cx="918.5" cy="1728.9" rx="1.8" ry="2.3" opacity="0.5"/>
<ellipse cx="997.3" cy="1466.5" rx="1" ry="1.3" opacity="0.4"/>
<ellipse cx="1043.3" cy="1775.9" rx="0.8" ry="1.1" opacity="0.3"/>
<ellipse cx="263.9" cy="1701.7" rx="1.2" ry="1.6" opacity="0.4"/>
<ellipse cx="589.8" cy="1755.1" rx="1.5" ry="2" opacity="0.5"/>
<ellipse cx="1001.1" cy="1475.9" rx="1.6" ry="2.1" opacity="0.6"/>
<ellipse cx="988" cy="1569.5" rx="1.1" ry="1.5" opacity="0.4"/>
<ellipse cx="356.3" cy="1554.6" rx="1.1" ry="1.4" opacity="0.4"/>
<ellipse cx="1132.8" cy="1707.8" rx="1.4" ry="1.8" opacity="0.4"/>
<ellipse cx="366.5" cy="1579.3" rx="1" ry="1.3" opacity="0.5"/>
<ellipse cx="721.7" cy="1625.9" rx="1.8" ry="2.4" opacity="0.6"/>
<ellipse cx="1083.5" cy="1703.6" rx="1.3" ry="1.6" opacity="0.3"/>
<ellipse cx="1088.3" cy="1772.2" rx="1.5" ry="2" opacity="0.4"/>
<ellipse cx="1181.4" cy="1730.9" rx="1.3" ry="1.7" opacity="0.5"/>
<ellipse cx="1155.9" cy="1523.4" rx="0.8" ry="1" opacity="0.4"/>
<ellipse cx="716.7" cy="1633.9" rx="1.7" ry="2.2" opacity="0.6"/>
<ellipse cx="1117.7" cy="1716.6" rx="1.3" ry="1.7" opacity="0.3"/>
<ellipse cx="562.7" cy="1572.8" rx="1.2" ry="1.5" opacity="0.4"/>
<ellipse cx="325.5" cy="1558.1" rx="0.8" ry="1.1" opacity="0.4"/>
<ellipse cx="475.7" cy="1509.4" rx="1.3" ry="1.7" opacity="0.4"/>
<ellipse cx="985.9" cy="1777.5" rx="1.5" ry="2" opacity="0.3"/>
<ellipse cx="1059" cy="1541.7" rx="0.9" ry="1.1" opacity="0.6"/>
<ellipse cx="864.4" cy="1684" rx="0.8" ry="1.1" opacity="0.4"/>
<ellipse cx="1056.5" cy="1568.2" rx="1" ry="1.3" opacity="0.5"/>
<ellipse cx="364.4" cy="1730.9" rx="1.9" ry="2.5" opacity="0.5"/>
<ellipse cx="1040.6" cy="1506" rx="1.6" ry="2" opacity="0.6"/>
<ellipse cx="570.4" cy="1477.4" rx="1.7" ry="2.2" opacity="0.4"/>
<ellipse cx="961.6" cy="1755.6" rx="0.8" ry="1.1" opacity="0.3"/>
<ellipse cx="735.5" cy="1525" rx="1.2" ry="1.5" opacity="0.3"/>
<ellipse cx="546" cy="1629" rx="1.6" ry="2" opacity="0.6"/>
<ellipse cx="561.9" cy="1485.4" rx="1.4" ry="1.8" opacity="0.6"/>
<ellipse cx="348.2" cy="1745.5" rx="1.4" ry="1.8" opacity="0.5"/>
<ellipse cx="649.8" cy="1722.3" rx="1.2" ry="1.5" opacity="0.5"/>
<ellipse cx="720.8" cy="1588.7" rx="1.1" ry="1.4" opacity="0.5"/>
<ellipse cx="378.2" cy="1509.9" rx="0.8" ry="1.1" opacity="0.5"/>
<ellipse cx="1164.8" cy="1501.3" rx="2" ry="2.6" opacity="0.6"/>
</g>
<rect x="250.5" y="1437" width="944.5" height="352.5" fill="url(#gBackShade)"/>
<g filter="url(#grainS)">
<polygon points="184.5,1437 251,1437 251,1789.5 184.5,1924" fill="url(#gWoodL)"/>
<polygon points="1287.5,1437 1194.5,1437 1194.5,1789.5 1287.5,1924" fill="url(#gWoodR)"/>
</g>
<polygon points="184.5,1437 251,1437 251,1789.5 184.5,1924" fill="url(#gBackShade)"/>
<polygon points="1287.5,1437 1194.5,1437 1194.5,1789.5 1287.5,1924" fill="url(#gBackShade)"/>
<g filter="url(#grainH)">
<polygon points="184.5,1923.5 250.5,1789 1195,1789 1287.5,1923.5" fill="url(#gFloor3)"/>
</g>
<!-- stoves -->
<path d="M577.2,586 V457.8 A34.5,34.5 0 0 1 611.7,423.3 H676" fill="none" stroke="#d4d4d4" stroke-width="27" opacity="0.9"/>
<path d="M577.2,586 V457.8 A34.5,34.5 0 0 1 611.7,423.3 H676" fill="none" stroke="#8a8a8a" stroke-width="24"/>
<path d="M577.2,586 V457.8 A34.5,34.5 0 0 1 611.7,423.3 H676" fill="none" stroke="#a0a0a0" stroke-width="21.5"/>
<path d="M575.7,586 V457.8 A36,33.5 0 0 1 611.7,424.8 H676" fill="none" stroke="#b6b6b6" stroke-width="8" filter="url(#b2)"/>
<path d="M607.7,412 H674" fill="none" stroke="#6c6c6c" stroke-width="1.2" opacity="0.7"/>
<path d="M607.7,434.6 H674" fill="none" stroke="#8a8a8a" stroke-width="1.2" opacity="0.6"/>
<g>
<rect x="563" y="584.5" width="28.5" height="25.5" fill="url(#gCollar)"/>
<path d="M518.5,859 V655 H519.5 A57,49 0 0 1 633.5,655 H634.5 V859 H617 V848 H538 V859 Z" fill="url(#gStove)"/>
<path d="M519.5,679 V655 A57,49 0 0 1 633.5,655 V679 Z" fill="#000" opacity="0.07"/>
<rect x="519.5" y="670" width="114" height="9" fill="url(#gSeamSh)"/>
<rect x="519" y="678.5" width="115" height="1.2" fill="#2e2e2e"/>
<rect x="519" y="835" width="115" height="1.2" fill="#343434"/>
<path d="M519,836 H634 V859 H617 V848 H538 V859 H519 Z" fill="#000" opacity="0.13"/>
<rect x="538" y="847.5" width="79" height="1.5" fill="#1d1d1d"/>
<rect x="546.5" y="723.5" width="59" height="90" fill="#3c3c3c" opacity="0.5"/>
</g>
<clipPath id="clip725"><rect x="548" y="725" width="56" height="78.5"/></clipPath>
<rect x="548" y="725" width="56" height="78.5" fill="#050303"/>
<g clip-path="url(#clip725)">
<g filter="url(#b2)">
<rect x="570" y="733" width="7" height="47.5" fill="url(#gFlameD)"/>
<rect x="580" y="745" width="4" height="35.5" fill="url(#gFlameD)" opacity="0.8"/>
<rect x="550" y="763" width="4" height="34.5" fill="url(#gFlameD)" opacity="0.8"/>
</g>
<path d="M555,801.5 Q559.5,779.5 561.5,761.5 Q564,781.5 570,801.5 Z" fill="url(#gFlame)" filter="url(#b2)"/>
<ellipse cx="562" cy="789.5" rx="8" ry="11" fill="#ff2408" filter="url(#b3)" opacity="0.95"/>
<ellipse cx="561.5" cy="783.5" rx="5" ry="13" fill="#f01c08" filter="url(#b2)" opacity="0.9"/>
<ellipse cx="552" cy="791.5" rx="3" ry="8" fill="#d81408" filter="url(#b2)" opacity="0.8"/>
<ellipse cx="578" cy="774.5" rx="9" ry="6" fill="#c81208" filter="url(#b3)" opacity="0.7"/>
<path d="M547,804.5 L547,799.5 Q560,790 577,782 Q586,776 593,784.5 Q597,794.5 605,798.5 L605,804.5 Z" fill="url(#gLog)" filter="url(#fireTex)"/>
<g filter="url(#b2)">
<ellipse cx="568" cy="798.1" rx="7" ry="3.6" fill="#d6360f"/>
<ellipse cx="580" cy="788.5" rx="5.5" ry="4.5" fill="#d2300e"/>
<ellipse cx="590" cy="794.8" rx="4" ry="3" fill="#da3c10"/>
<ellipse cx="553" cy="800.5" rx="5" ry="2.5" fill="#ffc838" opacity="0.9"/>
<ellipse cx="599" cy="799" rx="4" ry="3" fill="#ffb832" opacity="0.9"/>
<ellipse cx="592" cy="786.5" rx="3" ry="5" fill="#ffb428" transform="rotate(-20 592 786.5)"/>
<ellipse cx="566" cy="789" rx="13" ry="1.9" fill="#ffc430" transform="rotate(-27 566 789)"/>
<ellipse cx="578" cy="801.5" rx="7" ry="1.8" fill="#ffc838"/>
</g>
</g>
<rect x="619.2" y="749.5" width="3.3" height="42.5" rx="1.5" fill="url(#gHandle)"/>
<path d="M577.2,1113 V988 A34.5,34.5 0 0 1 611.7,953.5 H676" fill="none" stroke="#d4d4d4" stroke-width="27" opacity="0.9"/>
<path d="M577.2,1113 V988 A34.5,34.5 0 0 1 611.7,953.5 H676" fill="none" stroke="#8a8a8a" stroke-width="24"/>
<path d="M577.2,1113 V988 A34.5,34.5 0 0 1 611.7,953.5 H676" fill="none" stroke="#a0a0a0" stroke-width="21.5"/>
<path d="M575.7,1113 V988 A36,33.5 0 0 1 611.7,955 H676" fill="none" stroke="#b6b6b6" stroke-width="8" filter="url(#b2)"/>
<path d="M607.7,942.2 H674" fill="none" stroke="#6c6c6c" stroke-width="1.2" opacity="0.7"/>
<path d="M607.7,964.8 H674" fill="none" stroke="#8a8a8a" stroke-width="1.2" opacity="0.6"/>
<g>
<rect x="563" y="1111.5" width="28.5" height="29.5" fill="url(#gCollar)"/>
<path d="M518.5,1390 V1186 H519.5 A57,49 0 0 1 633.5,1186 H634.5 V1390 H617 V1376 H538 V1390 Z" fill="url(#gStove)"/>
<path d="M519.5,1210 V1186 A57,49 0 0 1 633.5,1186 V1210 Z" fill="#000" opacity="0.07"/>
<rect x="519.5" y="1201" width="114" height="9" fill="url(#gSeamSh)"/>
<rect x="519" y="1209.5" width="115" height="1.2" fill="#2e2e2e"/>
<rect x="519" y="1369.5" width="115" height="1.2" fill="#343434"/>
<path d="M519,1370.5 H634 V1390 H617 V1376 H538 V1390 H519 Z" fill="#000" opacity="0.13"/>
<rect x="538" y="1375.5" width="79" height="1.5" fill="#1d1d1d"/>
<rect x="546.5" y="1254.5" width="59" height="90" fill="#3c3c3c" opacity="0.5"/>
</g>
<clipPath id="clip1259"><rect x="548" y="1259" width="56" height="78"/></clipPath>
<rect x="548" y="1259" width="56" height="78" fill="url(#gWin2)"/>
<rect x="548" y="1259" width="56" height="78" fill="url(#gWin2h)"/>
<g clip-path="url(#clip1259)">
<g filter="url(#b2)">
<rect x="570" y="1267" width="7" height="41" fill="url(#gFlameD)"/>
<rect x="580" y="1279" width="4" height="29" fill="url(#gFlameD)" opacity="0.8"/>
<rect x="550" y="1297" width="4" height="34" fill="url(#gFlameD)" opacity="0.8"/>
</g>
<ellipse cx="574" cy="1310" rx="34" ry="13" fill="#e42208" filter="url(#b5)" opacity="0.5"/>
<path d="M555,1322 Q559.5,1300 561.5,1282 Q564,1302 570,1322 Z" fill="url(#gFlame)" filter="url(#b2)"/>
<ellipse cx="562" cy="1310" rx="8" ry="11" fill="#ff2408" filter="url(#b3)" opacity="0.95"/>
<path d="M547,1338 L547,1320 Q560,1313.7 577,1309.5 Q586,1303.5 593,1312 Q597,1318 605,1322 L605,1338 Z" fill="url(#gLog)" filter="url(#fireTex)"/>
<g filter="url(#b2)">
<ellipse cx="568" cy="1323.8" rx="7" ry="5.5" fill="#d6360f"/>
<ellipse cx="580" cy="1318.4" rx="5.5" ry="4.5" fill="#d2300e"/>
<ellipse cx="590" cy="1326.2" rx="4" ry="3" fill="#da3c10"/>
<ellipse cx="553" cy="1330.8" rx="5" ry="4" fill="#ffc838" opacity="0.9"/>
<ellipse cx="599" cy="1328.5" rx="4" ry="5" fill="#ffb832" opacity="0.9"/>
<ellipse cx="592" cy="1315.9" rx="3" ry="5" fill="#ffb428" transform="rotate(-20 592 1315.9)"/>
<ellipse cx="566" cy="1313" rx="13" ry="1.9" fill="#ffc430" transform="rotate(-27 566 1313)"/>
<ellipse cx="578" cy="1335" rx="7" ry="1.8" fill="#ffc838"/>
<ellipse cx="557" cy="1322.5" rx="9" ry="2.6" fill="#ffd020" transform="rotate(-14 557 1322.5)"/>
<ellipse cx="576" cy="1330" rx="5" ry="2.5" fill="#e8481a"/>
<ellipse cx="588" cy="1333" rx="4" ry="2.5" fill="#ffb02a"/>
</g>
<circle cx="571" cy="1297.8" r="0.95" fill="#2a0c04"/>
<circle cx="577.6" cy="1297.8" r="0.95" fill="#2a0c04"/>
<circle cx="584.2" cy="1297.8" r="0.95" fill="#2a0c04"/>
</g>
<rect x="619.2" y="1282.5" width="3.3" height="42.5" rx="1.5" fill="url(#gHandle)"/>
<path d="M577.2,1640 V1518.3 A34.5,34.5 0 0 1 611.7,1483.8 H676" fill="none" stroke="#d4d4d4" stroke-width="27" opacity="0.9"/>
<path d="M577.2,1640 V1518.3 A34.5,34.5 0 0 1 611.7,1483.8 H676" fill="none" stroke="#8a8a8a" stroke-width="24"/>
<path d="M577.2,1640 V1518.3 A34.5,34.5 0 0 1 611.7,1483.8 H676" fill="none" stroke="#a0a0a0" stroke-width="21.5"/>
<path d="M575.7,1640 V1518.3 A36,33.5 0 0 1 611.7,1485.3 H676" fill="none" stroke="#b6b6b6" stroke-width="8" filter="url(#b2)"/>
<path d="M607.7,1472.5 H674" fill="none" stroke="#6c6c6c" stroke-width="1.2" opacity="0.7"/>
<path d="M607.7,1495.1 H674" fill="none" stroke="#8a8a8a" stroke-width="1.2" opacity="0.6"/>
<!-- sauna stove -->
<rect x="563.5" y="1639" width="27.5" height="20.5" fill="#b4b4b4"/>
<rect x="563.5" y="1639" width="27.5" height="20.5" fill="url(#gSteelV)" opacity="0.5"/>
<ellipse cx="577.5" cy="1639.5" rx="14.5" ry="2" fill="#d5d5d5"/>
<rect x="556.3" y="1658.5" width="41.5" height="47.5" fill="url(#gFins)"/>
<rect x="557.2" y="1661" width="1.9" height="45" fill="#5a5a5a" opacity="0.8"/>
<rect x="559.4" y="1661" width="1.3" height="45" fill="#b4b4b4" opacity="0.7"/>
<rect x="561.8" y="1661" width="1.9" height="45" fill="#5a5a5a" opacity="0.8"/>
<rect x="564" y="1661" width="1.3" height="45" fill="#b4b4b4" opacity="0.7"/>
<rect x="566.3" y="1661" width="1.9" height="45" fill="#5a5a5a" opacity="0.8"/>
<rect x="568.5" y="1661" width="1.3" height="45" fill="#b4b4b4" opacity="0.7"/>
<rect x="570.9" y="1661" width="1.9" height="45" fill="#5a5a5a" opacity="0.8"/>
<rect x="573.1" y="1661" width="1.3" height="45" fill="#b4b4b4" opacity="0.7"/>
<rect x="575.4" y="1661" width="1.9" height="45" fill="#5a5a5a" opacity="0.8"/>
<rect x="577.6" y="1661" width="1.3" height="45" fill="#b4b4b4" opacity="0.7"/>
<rect x="580" y="1661" width="1.9" height="45" fill="#5a5a5a" opacity="0.8"/>
<rect x="582.2" y="1661" width="1.3" height="45" fill="#b4b4b4" opacity="0.7"/>
<rect x="584.5" y="1661" width="1.9" height="45" fill="#5a5a5a" opacity="0.8"/>
<rect x="586.7" y="1661" width="1.3" height="45" fill="#b4b4b4" opacity="0.7"/>
<rect x="589.1" y="1661" width="1.9" height="45" fill="#5a5a5a" opacity="0.8"/>
<rect x="591.3" y="1661" width="1.3" height="45" fill="#b4b4b4" opacity="0.7"/>
<rect x="593.6" y="1661" width="1.9" height="45" fill="#5a5a5a" opacity="0.8"/>
<rect x="595.8" y="1661" width="1.3" height="45" fill="#b4b4b4" opacity="0.7"/>
<rect x="520.5" y="1704" width="112" height="15.5" fill="#5a504b"/>
<path d="M519,1719 L520.5,1704 H632.5 L634,1719 Z" fill="#5e544f"/>
<rect x="523" y="1706.5" width="19" height="1.2" fill="#3a3230"/>
<rect x="611.5" y="1706.5" width="19" height="1.2" fill="#3a3230"/>
<rect x="523" y="1709.5" width="19" height="1.2" fill="#3a3230"/>
<rect x="611.5" y="1709.5" width="19" height="1.2" fill="#3a3230"/>
<rect x="523" y="1712.5" width="19" height="1.2" fill="#3a3230"/>
<rect x="611.5" y="1712.5" width="19" height="1.2" fill="#3a3230"/>
<rect x="523" y="1715.5" width="19" height="1.2" fill="#3a3230"/>
<rect x="611.5" y="1715.5" width="19" height="1.2" fill="#3a3230"/>
<polygon points="546.4,1703.2 552.5,1700.2 558.7,1703.4 558.4,1708.1 551.6,1710.3 544.5,1707.9" fill="#c3cbcf" stroke="#6f797f" stroke-width="0.7" stroke-linejoin="round"/>
<polygon points="547.6,1705 551.2,1702 556,1703.2 553.2,1706.2" fill="#e9edef" opacity="0.9"/>
<line x1="549.6" y1="1708" x2="556.8" y2="1705" stroke="#8c979d" stroke-width="0.6"/>
<polygon points="599.9,1700.8 603.4,1696.4 609.7,1697.2 613.1,1701.7 610.9,1706.6 605.3,1709.2 600.6,1705.6" fill="#bcc5c9" stroke="#6f797f" stroke-width="0.7" stroke-linejoin="round"/>
<polygon points="601.9,1701.8 605.2,1698 609.8,1699.6 607.1,1703.5" fill="#e9edef" opacity="0.9"/>
<line x1="603.8" y1="1705.8" x2="610.5" y2="1701.8" stroke="#8c979d" stroke-width="0.6"/>
<polygon points="590.7,1708.3 587.9,1705.6 591.2,1703.1 595.7,1701.2 599.4,1703.7 602.1,1706.4 599.6,1709.6 594.4,1709.9" fill="#c3cbcf" stroke="#6f797f" stroke-width="0.7" stroke-linejoin="round"/>
<polygon points="591.1,1705.5 594.3,1702.8 598.5,1704 596,1706.7" fill="#e9edef" opacity="0.9"/>
<line x1="592.9" y1="1708.2" x2="599.2" y2="1705.5" stroke="#8c979d" stroke-width="0.6"/>
<polygon points="565.5,1703.4 570,1704.9 570.5,1707.9 567.9,1710.7 562.6,1710.3 558.6,1708.9 558.5,1706.2 560.6,1703.8" fill="#a9b4ba" stroke="#6f797f" stroke-width="0.7" stroke-linejoin="round"/>
<polygon points="560.1,1706.6 563.3,1704.2 567.5,1705.2 565,1707.6" fill="#e9edef" opacity="0.9"/>
<line x1="561.9" y1="1709" x2="568.2" y2="1706.6" stroke="#8c979d" stroke-width="0.6"/>
<polygon points="580.2,1709 580.7,1706.2 583.6,1704 588.2,1704.1 591.4,1706.1 591.8,1708.9 588.5,1711 583.4,1711.4" fill="#b4bec3" stroke="#6f797f" stroke-width="0.7" stroke-linejoin="round"/>
<polygon points="582.4,1707.1 585.4,1704.7 589.2,1705.7 587,1708.1" fill="#e9edef" opacity="0.9"/>
<line x1="584" y1="1709.5" x2="589.9" y2="1707.1" stroke="#8c979d" stroke-width="0.6"/>
<polygon points="581.4,1707.8 578.7,1710.5 573.9,1712.1 568.9,1710.1 568.7,1706.4 573.3,1704.3 578.7,1704.7" fill="#bcc5c9" stroke="#6f797f" stroke-width="0.7" stroke-linejoin="round"/>
<polygon points="571.4,1707.6 574.4,1705.2 578.2,1706.2 576,1708.6" fill="#e9edef" opacity="0.9"/>
<line x1="573" y1="1710" x2="578.9" y2="1707.6" stroke="#8c979d" stroke-width="0.6"/>
<polygon points="551,1707 553.8,1710.6 552.9,1714.4 549.6,1718 543.6,1717.6 541.5,1713.3 540.8,1709 545.6,1706.7" fill="#bcc5c9" stroke="#6f797f" stroke-width="0.7" stroke-linejoin="round"/>
<polygon points="543.4,1711.4 546.8,1707.8 551.2,1709.3 548.6,1712.9" fill="#e9edef" opacity="0.9"/>
<line x1="545.2" y1="1715" x2="552" y2="1711.4" stroke="#8c979d" stroke-width="0.6"/>
<polygon points="555.7,1718.4 549.4,1714.4 553.2,1709.8 560.2,1707.9 564.7,1711.9 563.9,1716.9" fill="#a9b4ba" stroke="#6f797f" stroke-width="0.7" stroke-linejoin="round"/>
<polygon points="553.3,1712.5 557.1,1709.2 562.2,1710.5 559.3,1713.8" fill="#e9edef" opacity="0.9"/>
<line x1="555.5" y1="1715.8" x2="563.1" y2="1712.5" stroke="#8c979d" stroke-width="0.6"/>
<polygon points="577.1,1709 578.5,1713.2 576.6,1717.3 569.7,1717.9 564.6,1716.1 561.3,1712.8 565,1709.7 570.3,1708.3" fill="#c3cbcf" stroke="#6f797f" stroke-width="0.7" stroke-linejoin="round"/>
<polygon points="565,1712.5 569.1,1709.2 574.5,1710.5 571.4,1713.8" fill="#e9edef" opacity="0.9"/>
<line x1="567.3" y1="1715.8" x2="575.4" y2="1712.5" stroke="#8c979d" stroke-width="0.6"/>
<polygon points="576.7,1710 582.6,1708.5 589.9,1709.5 590.3,1714.2 586.5,1718.3 578.2,1718.2 574.5,1714" fill="#c3cbcf" stroke="#6f797f" stroke-width="0.7" stroke-linejoin="round"/>
<polygon points="577.5,1712.5 581.6,1709.2 587,1710.5 583.9,1713.8" fill="#e9edef" opacity="0.9"/>
<line x1="579.8" y1="1715.8" x2="587.9" y2="1712.5" stroke="#8c979d" stroke-width="0.6"/>
<polygon points="587.7,1716.8 586.1,1712.6 589.6,1709.6 594.6,1707.1 600.2,1709.3 601,1713.3 599.1,1717.1 593.4,1718.5" fill="#a9b4ba" stroke="#6f797f" stroke-width="0.7" stroke-linejoin="round"/>
<polygon points="589.6,1712.5 593.2,1709.2 598,1710.5 595.2,1713.8" fill="#e9edef" opacity="0.9"/>
<line x1="591.6" y1="1715.8" x2="598.8" y2="1712.5" stroke="#8c979d" stroke-width="0.6"/>
<polygon points="612.5,1711.1 610.4,1716.2 603.9,1717.2 598,1715.3 596.7,1710.1 602,1707.1 608.7,1706.5" fill="#bcc5c9" stroke="#6f797f" stroke-width="0.7" stroke-linejoin="round"/>
<polygon points="599.8,1711.3 603.6,1707.5 608.8,1709.1 605.8,1713" fill="#e9edef" opacity="0.9"/>
<line x1="602" y1="1715.2" x2="609.6" y2="1711.3" stroke="#8c979d" stroke-width="0.6"/>
<rect x="519" y="1718.5" width="115" height="27.5" fill="#dedede"/>
<rect x="519" y="1718.5" width="115" height="1.5" fill="#ebebeb"/>
<rect x="519" y="1745.5" width="115" height="159.5" fill="url(#gSauna)"/>
<rect x="519" y="1745.5" width="115" height="1.5" fill="#7c7c7e"/>
<path d="M519,1905 H634 V1923 H616 V1912.5 H537 V1923 H519 Z" fill="#e6e6e6"/>
<rect x="519" y="1904.5" width="115" height="1.2" fill="#77777a"/>
<path d="M554.5,1775 L552,1772.2 L557.6,1765 Q560.3,1765.5 561.4,1767.5 V1775 H556.8" fill="none" stroke="#505052" stroke-width="1" stroke-linejoin="round"/>
<text x="563" y="1775.6" font-family="'Liberation Sans', sans-serif" font-size="15.8" fill="#444446" stroke="#444446" stroke-width="0.25" textLength="38" lengthAdjust="spacingAndGlyphs">FinTec</text>
<clipPath id="clip1793"><rect x="548" y="1793" width="56" height="76"/></clipPath>
<rect x="548" y="1793" width="56" height="76" fill="url(#gWin2)"/>
<rect x="548" y="1793" width="56" height="76" fill="url(#gWin2h)"/>
<g clip-path="url(#clip1793)">
<g filter="url(#b2)">
<rect x="570" y="1801" width="7" height="37" fill="url(#gFlameD)"/>
<rect x="580" y="1813" width="4" height="25" fill="url(#gFlameD)" opacity="0.8"/>
<rect x="550" y="1831" width="4" height="32" fill="url(#gFlameD)" opacity="0.8"/>
</g>
<ellipse cx="574" cy="1840" rx="34" ry="13" fill="#e42208" filter="url(#b5)" opacity="0.8"/>
<path d="M555,1848 Q559.5,1826 561.5,1808 Q564,1828 570,1848 Z" fill="url(#gFlame)" filter="url(#b2)"/>
<ellipse cx="562" cy="1836" rx="8" ry="11" fill="#ff2408" filter="url(#b3)" opacity="0.95"/>
<path d="M547,1870 L547,1846 Q560,1841.5 577,1839.5 Q586,1833.5 593,1842 Q597,1843 605,1847 L605,1870 Z" fill="url(#gLog)" filter="url(#fireTex)"/>
<g filter="url(#b2)">
<ellipse cx="568" cy="1852.2" rx="7" ry="6.4" fill="#d6360f"/>
<ellipse cx="580" cy="1849.2" rx="5.5" ry="4.5" fill="#d2300e"/>
<ellipse cx="590" cy="1857.5" rx="4" ry="3" fill="#da3c10"/>
<ellipse cx="553" cy="1861.2" rx="5" ry="4.8" fill="#ffc838" opacity="0.9"/>
<ellipse cx="599" cy="1857.7" rx="4" ry="6.4" fill="#ffb832" opacity="0.9"/>
<ellipse cx="592" cy="1846.6" rx="3" ry="5" fill="#ffb428" transform="rotate(-20 592 1846.6)"/>
<ellipse cx="566" cy="1841" rx="13" ry="1.9" fill="#ffc430" transform="rotate(-27 566 1841)"/>
<ellipse cx="578" cy="1867" rx="7" ry="1.8" fill="#ffc838"/>
<ellipse cx="557" cy="1848.5" rx="9" ry="2.6" fill="#ffd020" transform="rotate(-14 557 1848.5)"/>
<ellipse cx="576" cy="1862" rx="5" ry="2.5" fill="#e8481a"/>
<ellipse cx="588" cy="1865" rx="4" ry="2.5" fill="#ffb02a"/>
</g>
<circle cx="571" cy="1821.5" r="0.95" fill="#2a0c04"/>
<circle cx="577.6" cy="1821.5" r="0.95" fill="#2a0c04"/>
<circle cx="584.2" cy="1821.5" r="0.95" fill="#2a0c04"/>
</g>
<rect x="619.2" y="1819" width="3.3" height="42.5" rx="1.5" fill="url(#gHandle)"/>
<rect x="618.5" y="1819" width="0.8" height="42.5" fill="#6c6c6e"/>
<!-- chimney -->
<rect x="667" y="328.5" width="7" height="45.5" fill="#f3f2a8"/>
<rect x="797.5" y="328.5" width="6.5" height="45.5" fill="#f3f2a8"/>
<rect x="667" y="372.5" width="7" height="1.5" fill="#8d8c5a"/>
<rect x="797.5" y="372.5" width="6.5" height="1.5" fill="#8d8c5a"/>
<rect x="667" y="858.5" width="7" height="48.5" fill="#f3f2a8"/>
<rect x="797.5" y="858.5" width="6.5" height="48.5" fill="#f3f2a8"/>
<rect x="667" y="905.5" width="7" height="1.5" fill="#8d8c5a"/>
<rect x="797.5" y="905.5" width="6.5" height="1.5" fill="#8d8c5a"/>
<rect x="667" y="1391" width="7" height="47" fill="#f3f2a8"/>
<rect x="797.5" y="1391" width="6.5" height="47" fill="#f3f2a8"/>
<rect x="667" y="1436.5" width="7" height="1.5" fill="#8d8c5a"/>
<rect x="797.5" y="1436.5" width="6.5" height="1.5" fill="#8d8c5a"/>
<rect x="687" y="176" width="18" height="1734" fill="url(#gGapL)"/>
<rect x="767" y="176" width="17" height="1734" fill="url(#gGapR)"/>
<path d="M664.8,172.3 L700,150 H772 L807.4,171.4 L798,179.5 H674 Z" fill="#161616"/>
<g filter="url(#conc2)">
<path d="M644.3,182.2 L674,179 V202 L649.6,193.5 Z" fill="#8e8f8f"/>
<path d="M826.6,190.5 L821.4,178.3 L798,177 V199.8 Z" fill="#8e8f8f"/>
</g>
<path d="M649.6,193.5 L674,191.5 V202 Z" fill="#3d3d3d"/>
<path d="M649.6,193.5 L674,191.5 V193.5 Z" fill="#5a5a5a" filter="url(#b1)"/>
<path d="M826.6,190.5 L798,193 V199.8 Z" fill="#3d3d3d"/>
<g filter="url(#conc2)">
<path d="M673.5,178.5 H688.5 V1924 H673.5 Z" fill="url(#gWallL)"/>
<path d="M783,176.5 H798.2 V1924 H783 Z" fill="url(#gWallR)"/>
</g>
<rect x="673.5" y="176" width="15" height="60" fill="url(#gTopSh)"/>
<rect x="783" y="176" width="15.2" height="60" fill="url(#gTopSh)"/>
<rect x="673.5" y="178" width="15" height="150" fill="#000" opacity="0.13"/>
<rect x="783" y="176.5" width="15.2" height="152" fill="#000" opacity="0.13"/>
<rect x="688.5" y="176" width="15.5" height="152" fill="#000" opacity="0.16"/>
<rect x="768" y="176" width="15" height="152" fill="#000" opacity="0.12"/>
<g filter="url(#beige)">
<path d="M704,166 Q736,160 768,166 V1909 H704 Z" fill="url(#gPipe)"/>
<rect x="697.5" y="230.8" width="76" height="19" fill="url(#gFlange)"/>
<rect x="697.5" y="361.1" width="76" height="19" fill="url(#gFlange)"/>
<rect x="697.5" y="492.3" width="76" height="19" fill="url(#gFlange)"/>
<rect x="697.5" y="623.1" width="76" height="19" fill="url(#gFlange)"/>
<rect x="697.5" y="753.6" width="76" height="19" fill="url(#gFlange)"/>
<rect x="697.5" y="884.5" width="76" height="19" fill="url(#gFlange)"/>
<rect x="697.5" y="1016" width="76" height="19" fill="url(#gFlange)"/>
<rect x="697.5" y="1147" width="76" height="19" fill="url(#gFlange)"/>
<rect x="697.5" y="1278" width="76" height="19" fill="url(#gFlange)"/>
<rect x="697.5" y="1408.5" width="76" height="19" fill="url(#gFlange)"/>
<rect x="697.5" y="1539" width="76" height="19" fill="url(#gFlange)"/>
<rect x="697.5" y="1670.5" width="76" height="19" fill="url(#gFlange)"/>
<rect x="697.5" y="1801.5" width="76" height="19" fill="url(#gFlange)"/>
<rect x="686" y="1908" width="99.5" height="16" fill="#dcc4a3"/>
</g>
<path d="M704,166 Q736,160 768,166 V190 H704 Z" fill="url(#gPipeTopSh)"/>
<rect x="697" y="163" width="78" height="165" fill="#3a2f20" opacity="0.06"/>
<path d="M704,242.5 Q736,244.9 768,242.5" fill="none" stroke="#a88e6e" stroke-width="0.8" opacity="0.6"/>
<rect x="697.5" y="249.8" width="6.5" height="2.2" fill="#000" opacity="0.55"/>
<rect x="768" y="249.8" width="5.5" height="2.2" fill="#000" opacity="0.55"/>
<rect x="773.5" y="230.8" width="2" height="21" fill="#000" opacity="0.6"/>
<path d="M704,372.8 Q736,375.2 768,372.8" fill="none" stroke="#a88e6e" stroke-width="0.8" opacity="0.6"/>
<rect x="697.5" y="380.1" width="6.5" height="2.2" fill="#000" opacity="0.55"/>
<rect x="768" y="380.1" width="5.5" height="2.2" fill="#000" opacity="0.55"/>
<rect x="773.5" y="361.1" width="2" height="21" fill="#000" opacity="0.6"/>
<path d="M704,504 Q736,506.4 768,504" fill="none" stroke="#a88e6e" stroke-width="0.8" opacity="0.6"/>
<rect x="697.5" y="511.3" width="6.5" height="2.2" fill="#000" opacity="0.55"/>
<rect x="768" y="511.3" width="5.5" height="2.2" fill="#000" opacity="0.55"/>
<rect x="773.5" y="492.3" width="2" height="21" fill="#000" opacity="0.6"/>
<path d="M704,634.8 Q736,637.2 768,634.8" fill="none" stroke="#a88e6e" stroke-width="0.8" opacity="0.6"/>
<rect x="697.5" y="642.1" width="6.5" height="2.2" fill="#000" opacity="0.55"/>
<rect x="768" y="642.1" width="5.5" height="2.2" fill="#000" opacity="0.55"/>
<rect x="773.5" y="623.1" width="2" height="21" fill="#000" opacity="0.6"/>
<path d="M704,765.3 Q736,767.7 768,765.3" fill="none" stroke="#a88e6e" stroke-width="0.8" opacity="0.6"/>
<rect x="697.5" y="772.6" width="6.5" height="2.2" fill="#000" opacity="0.55"/>
<rect x="768" y="772.6" width="5.5" height="2.2" fill="#000" opacity="0.55"/>
<rect x="773.5" y="753.6" width="2" height="21" fill="#000" opacity="0.6"/>
<path d="M704,896.2 Q736,898.6 768,896.2" fill="none" stroke="#a88e6e" stroke-width="0.8" opacity="0.6"/>
<rect x="697.5" y="903.5" width="6.5" height="2.2" fill="#000" opacity="0.55"/>
<rect x="768" y="903.5" width="5.5" height="2.2" fill="#000" opacity="0.55"/>
<rect x="773.5" y="884.5" width="2" height="21" fill="#000" opacity="0.6"/>
<path d="M704,1027.7 Q736,1030.1 768,1027.7" fill="none" stroke="#a88e6e" stroke-width="0.8" opacity="0.6"/>
<rect x="697.5" y="1035" width="6.5" height="2.2" fill="#000" opacity="0.55"/>
<rect x="768" y="1035" width="5.5" height="2.2" fill="#000" opacity="0.55"/>
<rect x="773.5" y="1016" width="2" height="21" fill="#000" opacity="0.6"/>
<path d="M704,1158.7 Q736,1161.1 768,1158.7" fill="none" stroke="#a88e6e" stroke-width="0.8" opacity="0.6"/>
<rect x="697.5" y="1166" width="6.5" height="2.2" fill="#000" opacity="0.55"/>
<rect x="768" y="1166" width="5.5" height="2.2" fill="#000" opacity="0.55"/>
<rect x="773.5" y="1147" width="2" height="21" fill="#000" opacity="0.6"/>
<path d="M704,1289.7 Q736,1292.1 768,1289.7" fill="none" stroke="#a88e6e" stroke-width="0.8" opacity="0.6"/>
<rect x="697.5" y="1297" width="6.5" height="2.2" fill="#000" opacity="0.55"/>
<rect x="768" y="1297" width="5.5" height="2.2" fill="#000" opacity="0.55"/>
<rect x="773.5" y="1278" width="2" height="21" fill="#000" opacity="0.6"/>
<path d="M704,1420.2 Q736,1422.6 768,1420.2" fill="none" stroke="#a88e6e" stroke-width="0.8" opacity="0.6"/>
<rect x="697.5" y="1427.5" width="6.5" height="2.2" fill="#000" opacity="0.55"/>
<rect x="768" y="1427.5" width="5.5" height="2.2" fill="#000" opacity="0.55"/>
<rect x="773.5" y="1408.5" width="2" height="21" fill="#000" opacity="0.6"/>
<path d="M704,1550.7 Q736,1553.1 768,1550.7" fill="none" stroke="#a88e6e" stroke-width="0.8" opacity="0.6"/>
<rect x="697.5" y="1558" width="6.5" height="2.2" fill="#000" opacity="0.55"/>
<rect x="768" y="1558" width="5.5" height="2.2" fill="#000" opacity="0.55"/>
<rect x="773.5" y="1539" width="2" height="21" fill="#000" opacity="0.6"/>
<path d="M704,1682.2 Q736,1684.6 768,1682.2" fill="none" stroke="#a88e6e" stroke-width="0.8" opacity="0.6"/>
<rect x="697.5" y="1689.5" width="6.5" height="2.2" fill="#000" opacity="0.55"/>
<rect x="768" y="1689.5" width="5.5" height="2.2" fill="#000" opacity="0.55"/>
<rect x="773.5" y="1670.5" width="2" height="21" fill="#000" opacity="0.6"/>
<path d="M704,1813.2 Q736,1815.6 768,1813.2" fill="none" stroke="#a88e6e" stroke-width="0.8" opacity="0.6"/>
<rect x="697.5" y="1820.5" width="6.5" height="2.2" fill="#000" opacity="0.55"/>
<rect x="768" y="1820.5" width="5.5" height="2.2" fill="#000" opacity="0.55"/>
<rect x="773.5" y="1801.5" width="2" height="21" fill="#000" opacity="0.6"/>
<path d="M704,1900 Q736,1914 768,1900 V1909 H704 Z" fill="#cdb492" opacity="0.8"/>
<path d="M704,1900 Q736,1914 768,1900" fill="none" stroke="#a89070" stroke-width="0.8"/>
<rect x="686" y="1908" width="99.5" height="1" fill="#f0dfc6" opacity="0.8"/>
<linearGradient id="gSt423" x1="0" y1="411.3" x2="0" y2="435.3" gradientUnits="userSpaceOnUse"><stop offset="0" stop-color="#7e7e7e"/><stop offset="0.3" stop-color="#9c9c9c"/><stop offset="0.62" stop-color="#aeaeae"/><stop offset="1" stop-color="#909090"/></linearGradient>
<rect x="688" y="409.1" width="16" height="2.2" fill="#a9a9a9"/>
<rect x="688" y="434.9" width="16" height="2.2" fill="#9e9e9e"/>
<rect x="688" y="411.3" width="16.5" height="23.6" fill="url(#gSt423)"/>
<path d="M704,413.3 H709 Q712.5,412.8 714,408.5 Q722,423.3 714,437.5 Q712.5,433.3 709,432.7 H704 Z" fill="#c7b59c"/>
<path d="M704,413.3 H717 Q719.5,423.3 717,432.7 H704 Z" fill="url(#gSt423)"/>
<path d="M708.5,413.1 Q712.5,412.5 714,408.7" fill="none" stroke="#e4d6c0" stroke-width="1.2"/>
<path d="M708.5,432.9 Q712.5,433.5 714,437.3" fill="none" stroke="#8f8572" stroke-width="1.4"/>
<path d="M714,408.5 Q722,423.3 714,437.5" fill="none" stroke="#b9a88f" stroke-width="1.1"/>
<linearGradient id="gSt953" x1="0" y1="941.5" x2="0" y2="965.5" gradientUnits="userSpaceOnUse"><stop offset="0" stop-color="#7e7e7e"/><stop offset="0.3" stop-color="#9c9c9c"/><stop offset="0.62" stop-color="#aeaeae"/><stop offset="1" stop-color="#909090"/></linearGradient>
<rect x="688" y="939.3" width="16" height="2.2" fill="#a9a9a9"/>
<rect x="688" y="965.1" width="16" height="2.2" fill="#9e9e9e"/>
<rect x="688" y="941.5" width="16.5" height="23.6" fill="url(#gSt953)"/>
<path d="M704,943.5 H709 Q712.5,943 714,938.7 Q722,953.5 714,967.7 Q712.5,963.5 709,962.9 H704 Z" fill="#c7b59c"/>
<path d="M704,943.5 H717 Q719.5,953.5 717,962.9 H704 Z" fill="url(#gSt953)"/>
<path d="M708.5,943.3 Q712.5,942.7 714,938.9" fill="none" stroke="#e4d6c0" stroke-width="1.2"/>
<path d="M708.5,963.1 Q712.5,963.7 714,967.5" fill="none" stroke="#8f8572" stroke-width="1.4"/>
<path d="M714,938.7 Q722,953.5 714,967.7" fill="none" stroke="#b9a88f" stroke-width="1.1"/>
<linearGradient id="gSt1483" x1="0" y1="1471.8" x2="0" y2="1495.8" gradientUnits="userSpaceOnUse"><stop offset="0" stop-color="#7e7e7e"/><stop offset="0.3" stop-color="#9c9c9c"/><stop offset="0.62" stop-color="#aeaeae"/><stop offset="1" stop-color="#909090"/></linearGradient>
<rect x="688" y="1469.6" width="16" height="2.2" fill="#a9a9a9"/>
<rect x="688" y="1495.4" width="16" height="2.2" fill="#9e9e9e"/>
<rect x="688" y="1471.8" width="16.5" height="23.6" fill="url(#gSt1483)"/>
<path d="M704,1473.8 H709 Q712.5,1473.3 714,1469 Q722,1483.8 714,1498 Q712.5,1493.8 709,1493.2 H704 Z" fill="#c7b59c"/>
<path d="M704,1473.8 H717 Q719.5,1483.8 717,1493.2 H704 Z" fill="url(#gSt1483)"/>
<path d="M708.5,1473.6 Q712.5,1473 714,1469.2" fill="none" stroke="#e4d6c0" stroke-width="1.2"/>
<path d="M708.5,1493.4 Q712.5,1494 714,1497.8" fill="none" stroke="#8f8572" stroke-width="1.4"/>
<path d="M714,1469 Q722,1483.8 714,1498" fill="none" stroke="#b9a88f" stroke-width="1.1"/>
<!-- chimney cap -->
<clipPath id="capclip"><path d="M701,93.8 Q736,86.5 771,93.6 L807.8,171.5 Q790,165.5 767.2,164 Q736,161.5 704.8,164 Q682,166 664.2,172.5 Z"/></clipPath>
<path d="M701,93.8 Q736,86.5 771,93.6 L807.8,171.5 Q790,165.5 767.2,164 Q736,161.5 704.8,164 Q682,166 664.2,172.5 Z" fill="url(#gCap)"/>
<g clip-path="url(#capclip)">
<polygon points="711,88 727,88 724,170 690,170" fill="#acaab1" opacity="0.95" filter="url(#b3)"/>
<polygon points="744,88 760,88 784,170 750,170" fill="#a6a4ab" opacity="0.95" filter="url(#b3)"/>
<polygon points="700,92 706,92 682,172 668,172" fill="#6a6a6d" opacity="0.5" filter="url(#b3)"/>
<path d="M701,93.8 Q736,86.5 771,93.6 L807.8,171.5 Q790,165.5 767.2,164 Q736,161.5 704.8,164 Q682,166 664.2,172.5 Z" fill="url(#gCapV)"/>
</g>
<!-- arrows -->
<path d="M735.5,45 L743.5,57.5 L739.8,56.5 L739.5,75 L737.8,89.5 L733.2,89.5 L733,75 L731.6,56.5 L727.5,57.5 Z" fill="#fb3b3b" filter="url(#b1)"/>
<path d="M735.5,186 L744,201 L740.2,199.5 L740.2,250 L730.8,250 L730.8,199.5 L727,201 Z" fill="#fb3b3b" filter="url(#b1)"/>
<path d="M735.5,348 L744.5,362 L740.3,361 Q742.5,392 731.5,412.5 L724.5,407 Q733.5,388 731,361 L726.8,362 Z" fill="#fb3b3b" filter="url(#b1)"/>
<path d="M735.5,523.5 L744,538.5 L740.2,537 L740.2,587 L730.8,587 L730.8,537 L727,538.5 Z" fill="#fb3b3b" filter="url(#b1)"/>
<path d="M735.5,667 L744,682 L740.2,680.5 L740.2,731 L730.8,731 L730.8,680.5 L727,682 Z" fill="#fb3b3b" filter="url(#b1)"/>
<path d="M735.5,1177.5 L744,1192.5 L740.2,1191 L740.2,1241.5 L730.8,1241.5 L730.8,1191 L727,1192.5 Z" fill="#fb3b3b" filter="url(#b1)"/>
<path d="M576.5,1583.5 L584.5,1596.5 L580.7,1595 L580.7,1641.5 L572.3,1641.5 L572.3,1595 L568.5,1596.5 Z" fill="#fb3b3b" filter="url(#b1)"/>
<path d="M645.8,953.5 L634,945.8 L634.6,949.6 Q603,948 586.5,956.5 L590.8,964.5 Q606,957.6 634.8,958.3 L634.2,961.6 Z" fill="#fb3b3b" filter="url(#b1)"/>
<!-- labels -->
<text x="814.6" y="653.8" font-family="'Liberation Sans', 'Noto Sans CJK SC', sans-serif" font-size="41" fill="#ffffff" stroke-width="0.65" stroke-linejoin="round" stroke="#99b8bd" textLength="191.5" lengthAdjust="spacingAndGlyphs">Kaminofen</text>
<text x="814.6" y="1149" font-family="'Liberation Sans', 'Noto Sans CJK SC', sans-serif" font-size="41" fill="#ffffff" stroke-width="0.65" stroke-linejoin="round" stroke="#99b8bd" textLength="216" lengthAdjust="spacingAndGlyphs">Kaminofen /</text>
<text x="814.6" y="1200" font-family="'Liberation Sans', 'Noto Sans CJK SC', sans-serif" font-size="41" fill="#ffffff" stroke-width="0.65" stroke-linejoin="round" stroke="#99b8bd" textLength="200.5" lengthAdjust="spacingAndGlyphs">Kachelofen</text>
<text x="814.6" y="1657" font-family="'Liberation Sans', 'Noto Sans CJK SC', sans-serif" font-size="41" fill="#ffffff" stroke-width="0.65" stroke-linejoin="round" stroke="#d9ad87" textLength="114.2" lengthAdjust="spacingAndGlyphs">Sauna</text>
</svg></body></html>
